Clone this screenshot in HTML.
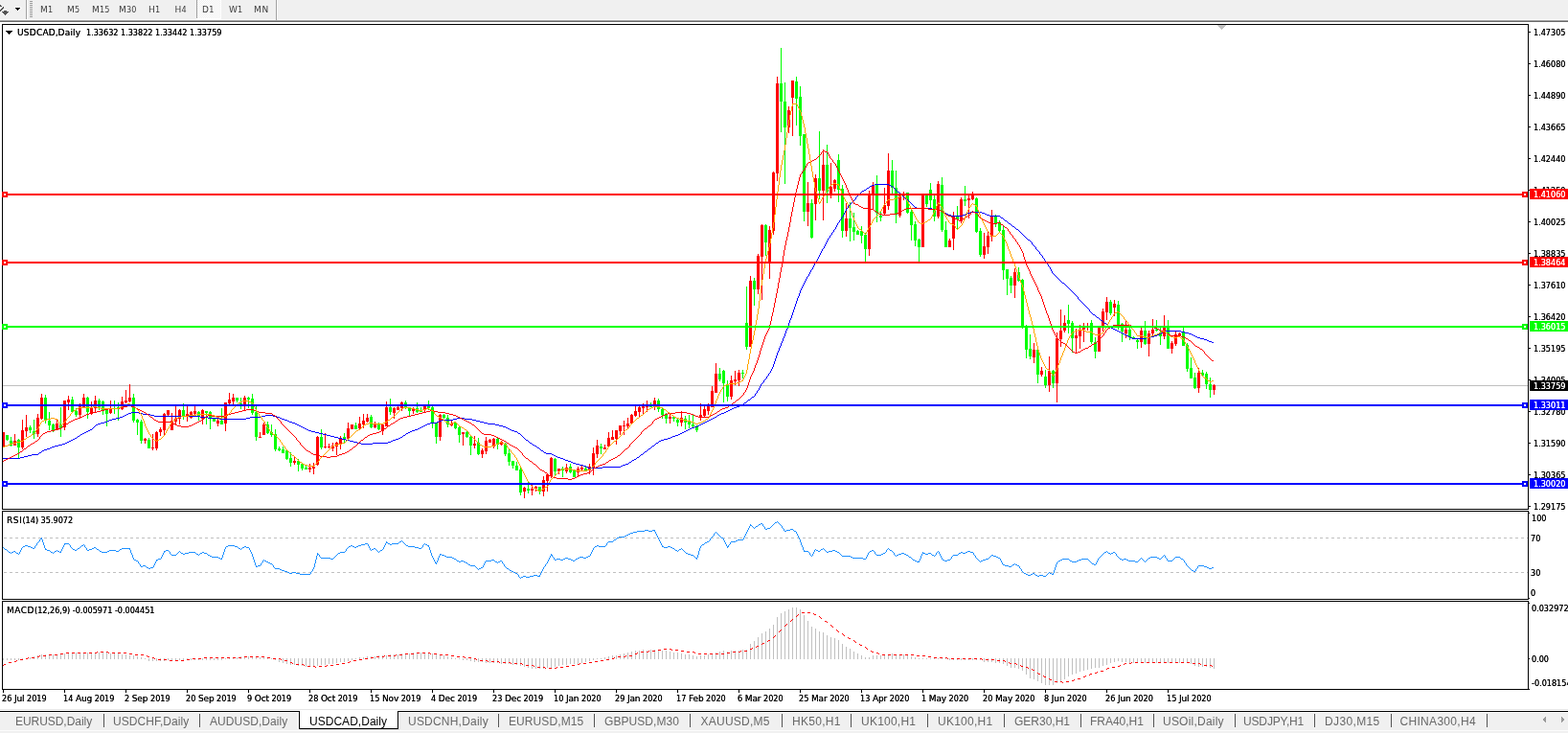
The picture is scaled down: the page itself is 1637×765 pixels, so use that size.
<!DOCTYPE html><html><head><meta charset="utf-8"><title>USDCAD,Daily</title><style>
html,body{margin:0;padding:0;background:#fff;}
body{width:1637px;height:765px;overflow:hidden;position:relative;font-family:"Liberation Sans",sans-serif;}
.t{position:absolute;white-space:pre;line-height:12px;height:12px;font-size:9px;font-family:"DejaVu Sans","Liberation Sans",sans-serif;text-shadow:0 0 0 currentColor;}
.c{font-family:"DejaVu Sans Condensed","DejaVu Sans","Liberation Sans",sans-serif;letter-spacing:0;}
.tab{font-family:"Liberation Sans",sans-serif;text-shadow:none;}
.tb{text-shadow:none;}
.r{position:absolute;}
svg{position:absolute;left:0;top:0;}
</style></head><body>
<div class="r" style="left:0px;top:0px;width:1637px;height:21px;background:#f0f0f0"></div>
<div class="r" style="left:0px;top:21px;width:1637px;height:1px;background:#a0a0a0"></div>
<div class="r" style="left:0px;top:22px;width:1637px;height:1px;background:#696969"></div>
<div class="r" style="left:27px;top:0px;width:1px;height:21px;background:#a0a0a0"></div>
<div class="r" style="left:28px;top:0px;width:1px;height:21px;background:#ffffff"></div>
<div class="r" style="left:31px;top:1px;width:3px;height:1px;background:#9a9a9a"></div>
<div class="r" style="left:31px;top:3px;width:3px;height:1px;background:#9a9a9a"></div>
<div class="r" style="left:31px;top:5px;width:3px;height:1px;background:#9a9a9a"></div>
<div class="r" style="left:31px;top:7px;width:3px;height:1px;background:#9a9a9a"></div>
<div class="r" style="left:31px;top:9px;width:3px;height:1px;background:#9a9a9a"></div>
<div class="r" style="left:31px;top:11px;width:3px;height:1px;background:#9a9a9a"></div>
<div class="r" style="left:31px;top:13px;width:3px;height:1px;background:#9a9a9a"></div>
<div class="r" style="left:31px;top:15px;width:3px;height:1px;background:#9a9a9a"></div>
<div class="r" style="left:31px;top:17px;width:3px;height:1px;background:#9a9a9a"></div>
<svg width="30" height="21" shape-rendering="crispEdges"><path d="M15 7h7v1h-7zM15 8h1v1h1v1h1v1h1v1h1v-1h1v-1h1v-1h1v-1z" fill="#fff" opacity="0.9"/><path d="M16 8h5v1h-5zM17 9h3v1h-3zM18 10h1v1h-1z" fill="#000"/><path d="M0 5h1v1h1v1h-2zM3 7h1v2h-1v1h-1v1h-1v1h-1v-2h1v-1h1v-1h1z" fill="#555"/><path d="M2 12h7v1h-1v1h-1v1h-1v1h-1v-1h-1v-1h-1v-1h-1z" fill="#555"/><path d="M4 11h3v1h-3z" fill="#555"/></svg>
<div class="r" style="left:205px;top:0px;width:1px;height:19px;background:#a0a0a0"></div>
<div class="r" style="left:206px;top:0;width:24px;height:19px;background:#f0f0f0;background-image:conic-gradient(#fff 25%, #f0f0f0 0 50%, #fff 0 75%, #f0f0f0 0);background-size:2px 2px"></div>
<div class="r" style="left:205px;top:19px;width:26px;height:1px;background:#ffffff"></div>
<div class="r" style="left:230px;top:0px;width:1px;height:19px;background:#ffffff"></div>
<div class="r" style="left:0px;top:20px;width:1637px;height:1px;background:#fafafa"></div>
<div class="r" style="left:288px;top:0px;width:1px;height:21px;background:#a0a0a0"></div>
<div class="r" style="left:289px;top:0px;width:1px;height:21px;background:#ffffff"></div>
<div class="t tb" style="left:42px;top:4px;color:#3c3c3c;letter-spacing:0.2px">M<span class="c">1</span></div>
<div class="t tb" style="left:70px;top:4px;color:#3c3c3c;letter-spacing:0.2px">M<span class="c">5</span></div>
<div class="t tb" style="left:96px;top:4px;color:#3c3c3c;letter-spacing:0.2px">M<span class="c">1</span><span class="c">5</span></div>
<div class="t tb" style="left:124px;top:4px;color:#3c3c3c;letter-spacing:0.2px">M<span class="c">3</span><span class="c">0</span></div>
<div class="t tb" style="left:155px;top:4px;color:#3c3c3c;letter-spacing:0.2px">H<span class="c">1</span></div>
<div class="t tb" style="left:182.5px;top:4px;color:#3c3c3c;letter-spacing:0.2px">H<span class="c">4</span></div>
<div class="t tb" style="left:211px;top:4px;color:#3c3c3c;letter-spacing:0.2px">D<span class="c">1</span></div>
<div class="t tb" style="left:239px;top:4px;color:#3c3c3c;letter-spacing:0.2px">W<span class="c">1</span></div>
<div class="t tb" style="left:265px;top:4px;color:#3c3c3c;letter-spacing:0.7px">MN</div>
<svg width="1637" height="765" viewBox="0 0 1637 765" shape-rendering="crispEdges"><rect x="2" y="25" width="1594" height="1" fill="#000"/>
<rect x="2" y="25" width="1" height="507" fill="#000"/>
<rect x="1595" y="25" width="1" height="507" fill="#000"/>
<rect x="1595" y="533" width="1" height="93" fill="#000"/>
<rect x="1595" y="627" width="1" height="93" fill="#000"/>
<rect x="1596" y="719" width="1" height="1" fill="#000"/>
<rect x="2" y="531" width="1593" height="1" fill="#000"/>
<rect x="2" y="533" width="1593" height="1" fill="#000"/>
<rect x="2" y="533" width="1" height="93" fill="#000"/>
<rect x="2" y="625" width="1593" height="1" fill="#000"/>
<rect x="2" y="627" width="1593" height="1" fill="#000"/>
<rect x="2" y="627" width="1" height="93" fill="#000"/>
<rect x="2" y="719" width="1594" height="1" fill="#000"/>
<rect x="3" y="402" width="1592" height="1" fill="#c0c0c0"/>
<path d="M1271 26h9v1h-9zM1272 27h7v1h-7zM1273 28h5v1h-5zM1274 29h3v1h-3zM1275 30h1v1h-1z" fill="#c0c0c0"/>
<path d="M3 451h1v15h-1zM2 451h3v15h-3z" fill="#ff0000"/>
<path d="M7 454h1v6h-1zM6 454h3v5h-3z" fill="#00ff00"/>
<path d="M11 456h1v10h-1zM10 460h3v5h-3z" fill="#00ff00"/>
<path d="M15 453h1v12h-1zM14 460h3v5h-3z" fill="#ff0000"/>
<path d="M19 458h1v20h-1zM18 459h3v8h-3z" fill="#00ff00"/>
<path d="M23 438h1v31h-1zM22 449h3v18h-3z" fill="#ff0000"/>
<path d="M27 433h1v23h-1zM26 446h3v4h-3z" fill="#ff0000"/>
<path d="M31 444h1v8h-1zM30 446h3v3h-3z" fill="#00ff00"/>
<path d="M35 438h1v20h-1zM34 450h3v3h-3z" fill="#00ff00"/>
<path d="M39 432h1v24h-1zM38 436h3v17h-3z" fill="#ff0000"/>
<path d="M43 411h1v27h-1zM42 415h3v22h-3z" fill="#ff0000"/>
<path d="M47 412h1v30h-1zM46 415h3v24h-3z" fill="#00ff00"/>
<path d="M51 430h1v19h-1zM50 439h3v5h-3z" fill="#00ff00"/>
<path d="M55 442h1v9h-1zM54 443h3v6h-3z" fill="#00ff00"/>
<path d="M59 437h1v12h-1zM58 442h3v7h-3z" fill="#ff0000"/>
<path d="M63 425h1v31h-1zM62 444h3v3h-3z" fill="#00ff00"/>
<path d="M67 418h1v31h-1zM66 418h3v28h-3z" fill="#ff0000"/>
<path d="M71 413h1v15h-1zM70 417h3v3h-3z" fill="#ff0000"/>
<path d="M75 414h1v16h-1zM74 417h3v13h-3z" fill="#00ff00"/>
<path d="M79 426h1v9h-1zM78 429h3v4h-3z" fill="#00ff00"/>
<path d="M83 421h1v16h-1zM82 424h3v9h-3z" fill="#ff0000"/>
<path d="M87 411h1v15h-1zM86 415h3v11h-3z" fill="#ff0000"/>
<path d="M91 414h1v23h-1zM90 415h3v15h-3z" fill="#00ff00"/>
<path d="M95 419h1v14h-1zM94 426h3v5h-3z" fill="#ff0000"/>
<path d="M99 413h1v17h-1zM98 418h3v8h-3z" fill="#ff0000"/>
<path d="M103 416h1v12h-1zM102 418h3v8h-3z" fill="#00ff00"/>
<path d="M107 418h1v15h-1zM106 419h3v9h-3z" fill="#00ff00"/>
<path d="M111 428h1v17h-1zM110 428h3v4h-3z" fill="#00ff00"/>
<path d="M115 418h1v14h-1zM114 426h3v5h-3z" fill="#ff0000"/>
<path d="M119 418h1v14h-1zM118 426h3v1h-3z" fill="#00ff00"/>
<path d="M123 420h1v19h-1zM122 425h3v2h-3z" fill="#00ff00"/>
<path d="M127 414h1v14h-1zM126 419h3v8h-3z" fill="#ff0000"/>
<path d="M131 407h1v14h-1zM130 418h3v2h-3z" fill="#ff0000"/>
<path d="M135 401h1v19h-1zM134 415h3v4h-3z" fill="#ff0000"/>
<path d="M139 411h1v30h-1zM138 415h3v24h-3z" fill="#00ff00"/>
<path d="M143 437h1v17h-1zM142 438h3v3h-3z" fill="#00ff00"/>
<path d="M147 438h1v25h-1zM146 440h3v20h-3z" fill="#00ff00"/>
<path d="M151 457h1v6h-1zM150 458h3v2h-3z" fill="#ff0000"/>
<path d="M155 457h1v11h-1zM154 459h3v9h-3z" fill="#00ff00"/>
<path d="M159 453h1v17h-1zM158 467h3v1h-3z" fill="#ff0000"/>
<path d="M163 450h1v20h-1zM162 451h3v17h-3z" fill="#ff0000"/>
<path d="M167 446h1v9h-1zM166 448h3v3h-3z" fill="#ff0000"/>
<path d="M171 431h1v23h-1zM170 432h3v17h-3z" fill="#ff0000"/>
<path d="M175 428h1v6h-1zM174 428h3v5h-3z" fill="#ff0000"/>
<path d="M179 431h1v18h-1zM178 439h3v10h-3z" fill="#ff0000"/>
<path d="M183 424h1v19h-1zM182 437h3v3h-3z" fill="#ff0000"/>
<path d="M187 427h1v16h-1zM186 428h3v9h-3z" fill="#ff0000"/>
<path d="M191 421h1v17h-1zM190 428h3v6h-3z" fill="#00ff00"/>
<path d="M195 424h1v16h-1zM194 432h3v2h-3z" fill="#ff0000"/>
<path d="M199 429h1v8h-1zM198 430h3v6h-3z" fill="#ff0000"/>
<path d="M203 423h1v10h-1zM202 429h3v3h-3z" fill="#ff0000"/>
<path d="M207 429h1v10h-1zM206 430h3v5h-3z" fill="#00ff00"/>
<path d="M211 427h1v16h-1zM210 428h3v9h-3z" fill="#ff0000"/>
<path d="M215 429h1v14h-1zM214 429h3v2h-3z" fill="#00ff00"/>
<path d="M219 429h1v19h-1zM218 430h3v7h-3z" fill="#00ff00"/>
<path d="M223 436h1v4h-1zM222 437h3v3h-3z" fill="#00ff00"/>
<path d="M227 437h1v8h-1zM226 439h3v3h-3z" fill="#ff0000"/>
<path d="M231 426h1v17h-1zM230 439h3v4h-3z" fill="#00ff00"/>
<path d="M235 420h1v30h-1zM234 420h3v22h-3z" fill="#ff0000"/>
<path d="M239 410h1v12h-1zM238 417h3v4h-3z" fill="#ff0000"/>
<path d="M243 411h1v13h-1zM242 415h3v4h-3z" fill="#ff0000"/>
<path d="M247 415h1v5h-1zM246 415h3v3h-3z" fill="#00ff00"/>
<path d="M251 415h1v12h-1zM250 421h3v1h-3z" fill="#00ff00"/>
<path d="M255 413h1v15h-1zM254 415h3v7h-3z" fill="#ff0000"/>
<path d="M259 414h1v12h-1zM258 415h3v2h-3z" fill="#00ff00"/>
<path d="M263 411h1v22h-1zM262 416h3v15h-3z" fill="#00ff00"/>
<path d="M267 424h1v36h-1zM266 430h3v26h-3z" fill="#00ff00"/>
<path d="M271 451h1v6h-1zM270 456h3v1h-3z" fill="#ff0000"/>
<path d="M275 441h1v13h-1zM274 443h3v11h-3z" fill="#ff0000"/>
<path d="M279 440h1v13h-1zM278 443h3v9h-3z" fill="#00ff00"/>
<path d="M283 443h1v13h-1zM282 451h3v3h-3z" fill="#00ff00"/>
<path d="M287 448h1v23h-1zM286 453h3v16h-3z" fill="#00ff00"/>
<path d="M291 466h1v5h-1zM290 468h3v2h-3z" fill="#00ff00"/>
<path d="M295 466h1v7h-1zM294 469h3v4h-3z" fill="#00ff00"/>
<path d="M299 469h1v11h-1zM298 470h3v9h-3z" fill="#00ff00"/>
<path d="M303 472h1v15h-1zM302 478h3v5h-3z" fill="#00ff00"/>
<path d="M307 477h1v8h-1zM306 481h3v2h-3z" fill="#ff0000"/>
<path d="M311 479h1v13h-1zM310 481h3v4h-3z" fill="#00ff00"/>
<path d="M315 483h1v8h-1zM314 484h3v5h-3z" fill="#00ff00"/>
<path d="M319 486h1v4h-1zM318 488h3v2h-3z" fill="#00ff00"/>
<path d="M323 484h1v9h-1zM322 488h3v2h-3z" fill="#ff0000"/>
<path d="M327 483h1v12h-1zM326 487h3v2h-3z" fill="#ff0000"/>
<path d="M331 455h1v31h-1zM330 456h3v29h-3z" fill="#ff0000"/>
<path d="M335 448h1v21h-1zM334 456h3v11h-3z" fill="#00ff00"/>
<path d="M339 452h1v16h-1zM338 466h3v1h-3z" fill="#ff0000"/>
<path d="M343 463h1v5h-1zM342 466h3v1h-3z" fill="#ff0000"/>
<path d="M347 462h1v9h-1zM346 465h3v3h-3z" fill="#ff0000"/>
<path d="M351 461h1v14h-1zM350 462h3v4h-3z" fill="#ff0000"/>
<path d="M355 455h1v14h-1zM354 457h3v6h-3z" fill="#ff0000"/>
<path d="M359 452h1v10h-1zM358 456h3v3h-3z" fill="#00ff00"/>
<path d="M363 441h1v18h-1zM362 447h3v11h-3z" fill="#ff0000"/>
<path d="M367 443h1v5h-1zM366 443h3v5h-3z" fill="#ff0000"/>
<path d="M371 441h1v7h-1zM370 444h3v4h-3z" fill="#00ff00"/>
<path d="M375 435h1v13h-1zM374 442h3v5h-3z" fill="#ff0000"/>
<path d="M379 432h1v15h-1zM378 439h3v4h-3z" fill="#ff0000"/>
<path d="M383 432h1v9h-1zM382 436h3v4h-3z" fill="#ff0000"/>
<path d="M387 433h1v14h-1zM386 435h3v11h-3z" fill="#00ff00"/>
<path d="M391 440h1v7h-1zM390 442h3v4h-3z" fill="#ff0000"/>
<path d="M395 441h1v8h-1zM394 443h3v5h-3z" fill="#00ff00"/>
<path d="M399 443h1v11h-1zM398 443h3v7h-3z" fill="#ff0000"/>
<path d="M403 419h1v26h-1zM402 425h3v20h-3z" fill="#ff0000"/>
<path d="M407 416h1v17h-1zM406 425h3v5h-3z" fill="#00ff00"/>
<path d="M411 425h1v12h-1zM410 426h3v5h-3z" fill="#ff0000"/>
<path d="M415 424h1v4h-1zM414 425h3v3h-3z" fill="#ff0000"/>
<path d="M419 419h1v10h-1zM418 420h3v6h-3z" fill="#ff0000"/>
<path d="M423 418h1v9h-1zM422 420h3v6h-3z" fill="#00ff00"/>
<path d="M427 426h1v8h-1zM426 426h3v3h-3z" fill="#00ff00"/>
<path d="M431 425h1v7h-1zM430 427h3v2h-3z" fill="#ff0000"/>
<path d="M435 420h1v11h-1zM434 426h3v4h-3z" fill="#00ff00"/>
<path d="M439 425h1v5h-1zM438 428h3v2h-3z" fill="#00ff00"/>
<path d="M443 423h1v7h-1zM442 424h3v4h-3z" fill="#ff0000"/>
<path d="M447 418h1v10h-1zM446 424h3v2h-3z" fill="#00ff00"/>
<path d="M451 424h1v23h-1zM450 425h3v16h-3z" fill="#00ff00"/>
<path d="M455 441h1v22h-1zM454 441h3v15h-3z" fill="#00ff00"/>
<path d="M459 432h1v28h-1zM458 433h3v23h-3z" fill="#ff0000"/>
<path d="M463 432h1v5h-1zM462 433h3v3h-3z" fill="#00ff00"/>
<path d="M467 433h1v13h-1zM466 436h3v7h-3z" fill="#00ff00"/>
<path d="M471 438h1v7h-1zM470 442h3v2h-3z" fill="#ff0000"/>
<path d="M475 440h1v8h-1zM474 441h3v6h-3z" fill="#00ff00"/>
<path d="M479 445h1v17h-1zM478 446h3v8h-3z" fill="#00ff00"/>
<path d="M483 451h1v14h-1zM482 451h3v2h-3z" fill="#ff0000"/>
<path d="M487 450h1v7h-1zM486 451h3v5h-3z" fill="#00ff00"/>
<path d="M491 455h1v20h-1zM490 456h3v9h-3z" fill="#00ff00"/>
<path d="M495 455h1v13h-1zM494 463h3v2h-3z" fill="#ff0000"/>
<path d="M499 457h1v18h-1zM498 462h3v12h-3z" fill="#00ff00"/>
<path d="M503 468h1v10h-1zM502 470h3v4h-3z" fill="#ff0000"/>
<path d="M507 456h1v18h-1zM506 460h3v11h-3z" fill="#ff0000"/>
<path d="M511 458h1v4h-1zM510 459h3v3h-3z" fill="#ff0000"/>
<path d="M515 457h1v11h-1zM514 458h3v8h-3z" fill="#ff0000"/>
<path d="M519 457h1v12h-1zM518 458h3v6h-3z" fill="#00ff00"/>
<path d="M523 460h1v5h-1zM522 461h3v3h-3z" fill="#ff0000"/>
<path d="M527 462h1v14h-1zM526 463h3v11h-3z" fill="#00ff00"/>
<path d="M531 469h1v17h-1zM530 473h3v9h-3z" fill="#00ff00"/>
<path d="M535 481h1v8h-1zM534 481h3v5h-3z" fill="#00ff00"/>
<path d="M539 482h1v9h-1zM538 486h3v5h-3z" fill="#00ff00"/>
<path d="M543 487h1v30h-1zM542 490h3v24h-3z" fill="#00ff00"/>
<path d="M547 508h1v12h-1zM546 509h3v4h-3z" fill="#ff0000"/>
<path d="M551 503h1v12h-1zM550 510h3v2h-3z" fill="#00ff00"/>
<path d="M555 506h1v11h-1zM554 510h3v2h-3z" fill="#ff0000"/>
<path d="M559 507h1v6h-1zM558 508h3v2h-3z" fill="#ff0000"/>
<path d="M563 508h1v8h-1zM562 508h3v5h-3z" fill="#00ff00"/>
<path d="M567 497h1v21h-1zM566 501h3v12h-3z" fill="#ff0000"/>
<path d="M571 494h1v19h-1zM570 495h3v7h-3z" fill="#ff0000"/>
<path d="M575 477h1v22h-1zM574 478h3v19h-3z" fill="#ff0000"/>
<path d="M579 478h1v18h-1zM578 479h3v13h-3z" fill="#00ff00"/>
<path d="M583 489h1v6h-1zM582 489h3v3h-3z" fill="#ff0000"/>
<path d="M587 487h1v11h-1zM586 489h3v2h-3z" fill="#00ff00"/>
<path d="M591 484h1v10h-1zM590 488h3v4h-3z" fill="#ff0000"/>
<path d="M595 484h1v10h-1zM594 487h3v6h-3z" fill="#00ff00"/>
<path d="M599 490h1v8h-1zM598 491h3v7h-3z" fill="#00ff00"/>
<path d="M603 487h1v10h-1zM602 489h3v4h-3z" fill="#ff0000"/>
<path d="M607 486h1v5h-1zM606 488h3v2h-3z" fill="#ff0000"/>
<path d="M611 487h1v4h-1zM610 489h3v2h-3z" fill="#00ff00"/>
<path d="M615 484h1v11h-1zM614 487h3v4h-3z" fill="#ff0000"/>
<path d="M619 467h1v29h-1zM618 473h3v16h-3z" fill="#ff0000"/>
<path d="M623 459h1v19h-1zM622 465h3v9h-3z" fill="#ff0000"/>
<path d="M627 463h1v11h-1zM626 466h3v2h-3z" fill="#00ff00"/>
<path d="M631 464h1v5h-1zM630 467h3v2h-3z" fill="#ff0000"/>
<path d="M635 451h1v15h-1zM634 457h3v9h-3z" fill="#ff0000"/>
<path d="M639 449h1v10h-1zM638 456h3v3h-3z" fill="#ff0000"/>
<path d="M643 449h1v15h-1zM642 449h3v9h-3z" fill="#ff0000"/>
<path d="M647 444h1v10h-1zM646 444h3v6h-3z" fill="#ff0000"/>
<path d="M651 439h1v15h-1zM650 444h3v1h-3z" fill="#ff0000"/>
<path d="M655 436h1v11h-1zM654 442h3v3h-3z" fill="#ff0000"/>
<path d="M659 432h1v11h-1zM658 433h3v9h-3z" fill="#ff0000"/>
<path d="M663 424h1v11h-1zM662 429h3v5h-3z" fill="#ff0000"/>
<path d="M667 424h1v11h-1zM666 425h3v5h-3z" fill="#ff0000"/>
<path d="M671 421h1v11h-1zM670 424h3v2h-3z" fill="#ff0000"/>
<path d="M675 418h1v12h-1zM674 424h3v1h-3z" fill="#ff0000"/>
<path d="M679 420h1v5h-1zM678 423h3v2h-3z" fill="#00ff00"/>
<path d="M683 415h1v13h-1zM682 418h3v5h-3z" fill="#ff0000"/>
<path d="M687 416h1v14h-1zM686 418h3v9h-3z" fill="#00ff00"/>
<path d="M691 425h1v12h-1zM690 427h3v6h-3z" fill="#00ff00"/>
<path d="M695 431h1v11h-1zM694 433h3v4h-3z" fill="#00ff00"/>
<path d="M699 431h1v11h-1zM698 435h3v2h-3z" fill="#ff0000"/>
<path d="M703 434h1v6h-1zM702 435h3v2h-3z" fill="#00ff00"/>
<path d="M707 436h1v9h-1zM706 438h3v3h-3z" fill="#00ff00"/>
<path d="M711 429h1v16h-1zM710 436h3v5h-3z" fill="#ff0000"/>
<path d="M715 434h1v14h-1zM714 437h3v4h-3z" fill="#00ff00"/>
<path d="M719 433h1v14h-1zM718 440h3v3h-3z" fill="#00ff00"/>
<path d="M723 432h1v15h-1zM722 443h3v2h-3z" fill="#00ff00"/>
<path d="M727 444h1v7h-1zM726 445h3v4h-3z" fill="#00ff00"/>
<path d="M731 421h1v18h-1zM730 433h3v3h-3z" fill="#ff0000"/>
<path d="M735 424h1v11h-1zM734 427h3v7h-3z" fill="#ff0000"/>
<path d="M739 421h1v12h-1zM738 424h3v5h-3z" fill="#ff0000"/>
<path d="M743 403h1v22h-1zM742 408h3v17h-3z" fill="#ff0000"/>
<path d="M747 379h1v31h-1zM746 390h3v20h-3z" fill="#ff0000"/>
<path d="M751 384h1v14h-1zM750 390h3v6h-3z" fill="#00ff00"/>
<path d="M755 386h1v34h-1zM754 387h3v13h-3z" fill="#00ff00"/>
<path d="M759 397h1v22h-1zM758 402h3v12h-3z" fill="#00ff00"/>
<path d="M763 392h1v25h-1zM762 397h3v17h-3z" fill="#ff0000"/>
<path d="M767 387h1v15h-1zM766 396h3v2h-3z" fill="#ff0000"/>
<path d="M771 386h1v17h-1zM770 389h3v8h-3z" fill="#ff0000"/>
<path d="M775 386h1v9h-1zM774 389h3v1h-3z" fill="#00ff00"/>
<path d="M779 299h1v66h-1zM778 337h3v25h-3z" fill="#00ff00"/>
<path d="M783 288h1v74h-1zM782 293h3v69h-3z" fill="#ff0000"/>
<path d="M787 290h1v29h-1zM786 293h3v9h-3z" fill="#00ff00"/>
<path d="M791 265h1v42h-1zM790 267h3v35h-3z" fill="#ff0000"/>
<path d="M795 234h1v79h-1zM794 235h3v33h-3z" fill="#ff0000"/>
<path d="M799 234h1v33h-1zM798 235h3v18h-3z" fill="#00ff00"/>
<path d="M803 236h1v55h-1zM802 240h3v33h-3z" fill="#ff0000"/>
<path d="M807 179h1v66h-1zM806 180h3v61h-3z" fill="#ff0000"/>
<path d="M811 80h1v109h-1zM810 87h3v94h-3z" fill="#ff0000"/>
<path d="M815 50h1v88h-1zM814 87h3v19h-3z" fill="#00ff00"/>
<path d="M819 86h1v106h-1zM818 106h3v27h-3z" fill="#00ff00"/>
<path d="M823 111h1v28h-1zM822 115h3v18h-3z" fill="#ff0000"/>
<path d="M827 84h1v58h-1zM826 84h3v18h-3z" fill="#ff0000"/>
<path d="M831 80h1v51h-1zM830 85h3v18h-3z" fill="#00ff00"/>
<path d="M835 90h1v62h-1zM834 101h3v41h-3z" fill="#00ff00"/>
<path d="M839 140h1v91h-1zM838 140h3v81h-3z" fill="#00ff00"/>
<path d="M843 190h1v46h-1zM842 212h3v9h-3z" fill="#ff0000"/>
<path d="M847 208h1v41h-1zM846 212h3v36h-3z" fill="#00ff00"/>
<path d="M851 182h1v48h-1zM850 186h3v27h-3z" fill="#ff0000"/>
<path d="M855 137h1v71h-1zM854 186h3v13h-3z" fill="#00ff00"/>
<path d="M859 156h1v74h-1zM858 172h3v27h-3z" fill="#ff0000"/>
<path d="M863 151h1v61h-1zM862 172h3v28h-3z" fill="#00ff00"/>
<path d="M867 170h1v37h-1zM866 195h3v8h-3z" fill="#ff0000"/>
<path d="M871 187h1v13h-1zM870 188h3v9h-3z" fill="#ff0000"/>
<path d="M875 161h1v50h-1zM874 167h3v31h-3z" fill="#00ff00"/>
<path d="M879 193h1v55h-1zM878 197h3v44h-3z" fill="#00ff00"/>
<path d="M883 212h1v35h-1zM882 228h3v13h-3z" fill="#ff0000"/>
<path d="M887 211h1v41h-1zM886 228h3v10h-3z" fill="#00ff00"/>
<path d="M891 222h1v29h-1zM890 237h3v5h-3z" fill="#00ff00"/>
<path d="M895 240h1v5h-1zM894 241h3v4h-3z" fill="#00ff00"/>
<path d="M899 236h1v18h-1zM898 241h3v5h-3z" fill="#00ff00"/>
<path d="M903 243h1v30h-1zM902 245h3v15h-3z" fill="#00ff00"/>
<path d="M907 199h1v68h-1zM906 202h3v58h-3z" fill="#ff0000"/>
<path d="M911 190h1v28h-1zM910 194h3v9h-3z" fill="#ff0000"/>
<path d="M915 183h1v49h-1zM914 192h3v30h-3z" fill="#00ff00"/>
<path d="M919 221h1v10h-1zM918 225h3v2h-3z" fill="#00ff00"/>
<path d="M923 196h1v29h-1zM922 214h3v9h-3z" fill="#ff0000"/>
<path d="M927 160h1v59h-1zM926 178h3v37h-3z" fill="#ff0000"/>
<path d="M931 167h1v35h-1zM930 178h3v18h-3z" fill="#00ff00"/>
<path d="M935 178h1v55h-1zM934 196h3v28h-3z" fill="#00ff00"/>
<path d="M939 202h1v25h-1zM938 204h3v21h-3z" fill="#ff0000"/>
<path d="M943 200h1v9h-1zM942 202h3v1h-3z" fill="#ff0000"/>
<path d="M947 201h1v22h-1zM946 201h3v21h-3z" fill="#00ff00"/>
<path d="M951 218h1v33h-1zM950 221h3v14h-3z" fill="#00ff00"/>
<path d="M955 231h1v26h-1zM954 234h3v17h-3z" fill="#00ff00"/>
<path d="M959 249h1v24h-1zM958 250h3v8h-3z" fill="#00ff00"/>
<path d="M963 203h1v55h-1zM962 203h3v55h-3z" fill="#ff0000"/>
<path d="M967 202h1v14h-1zM966 204h3v9h-3z" fill="#00ff00"/>
<path d="M971 191h1v27h-1zM970 198h3v11h-3z" fill="#00ff00"/>
<path d="M975 204h1v27h-1zM974 208h3v18h-3z" fill="#00ff00"/>
<path d="M979 189h1v39h-1zM978 192h3v34h-3z" fill="#ff0000"/>
<path d="M983 185h1v57h-1zM982 193h3v47h-3z" fill="#00ff00"/>
<path d="M987 231h1v27h-1zM986 240h3v18h-3z" fill="#00ff00"/>
<path d="M991 249h1v9h-1zM990 251h3v7h-3z" fill="#ff0000"/>
<path d="M995 221h1v40h-1zM994 225h3v24h-3z" fill="#ff0000"/>
<path d="M999 215h1v25h-1zM998 226h3v3h-3z" fill="#00ff00"/>
<path d="M1003 206h1v27h-1zM1002 208h3v23h-3z" fill="#ff0000"/>
<path d="M1007 194h1v21h-1zM1006 208h3v2h-3z" fill="#00ff00"/>
<path d="M1011 204h1v24h-1zM1010 207h3v2h-3z" fill="#ff0000"/>
<path d="M1015 200h1v9h-1zM1014 204h3v4h-3z" fill="#ff0000"/>
<path d="M1019 206h1v37h-1zM1018 207h3v35h-3z" fill="#00ff00"/>
<path d="M1023 238h1v30h-1zM1022 241h3v25h-3z" fill="#00ff00"/>
<path d="M1027 243h1v27h-1zM1026 257h3v9h-3z" fill="#ff0000"/>
<path d="M1031 241h1v24h-1zM1030 246h3v12h-3z" fill="#ff0000"/>
<path d="M1035 219h1v33h-1zM1034 226h3v21h-3z" fill="#ff0000"/>
<path d="M1039 224h1v13h-1zM1038 226h3v8h-3z" fill="#00ff00"/>
<path d="M1043 230h1v12h-1zM1042 232h3v9h-3z" fill="#00ff00"/>
<path d="M1047 236h1v56h-1zM1046 240h3v42h-3z" fill="#00ff00"/>
<path d="M1051 281h1v27h-1zM1050 281h3v10h-3z" fill="#00ff00"/>
<path d="M1055 288h1v18h-1zM1054 290h3v8h-3z" fill="#00ff00"/>
<path d="M1059 280h1v31h-1zM1058 284h3v14h-3z" fill="#ff0000"/>
<path d="M1063 279h1v15h-1zM1062 284h3v9h-3z" fill="#00ff00"/>
<path d="M1067 291h1v52h-1zM1066 292h3v49h-3z" fill="#00ff00"/>
<path d="M1071 339h1v35h-1zM1070 340h3v25h-3z" fill="#00ff00"/>
<path d="M1075 349h1v26h-1zM1074 364h3v8h-3z" fill="#00ff00"/>
<path d="M1079 358h1v21h-1zM1078 365h3v8h-3z" fill="#ff0000"/>
<path d="M1083 363h1v37h-1zM1082 365h3v26h-3z" fill="#00ff00"/>
<path d="M1087 383h1v10h-1zM1086 387h3v4h-3z" fill="#ff0000"/>
<path d="M1091 386h1v19h-1zM1090 393h3v9h-3z" fill="#00ff00"/>
<path d="M1095 372h1v37h-1zM1094 387h3v15h-3z" fill="#ff0000"/>
<path d="M1099 386h1v19h-1zM1098 387h3v13h-3z" fill="#00ff00"/>
<path d="M1103 347h1v73h-1zM1102 353h3v47h-3z" fill="#ff0000"/>
<path d="M1107 323h1v39h-1zM1106 345h3v9h-3z" fill="#ff0000"/>
<path d="M1111 329h1v18h-1zM1110 337h3v8h-3z" fill="#ff0000"/>
<path d="M1115 318h1v30h-1zM1114 334h3v4h-3z" fill="#00ff00"/>
<path d="M1119 335h1v33h-1zM1118 337h3v16h-3z" fill="#00ff00"/>
<path d="M1123 343h1v25h-1zM1122 350h3v3h-3z" fill="#ff0000"/>
<path d="M1127 339h1v25h-1zM1126 344h3v7h-3z" fill="#ff0000"/>
<path d="M1131 337h1v20h-1zM1130 342h3v2h-3z" fill="#ff0000"/>
<path d="M1135 337h1v8h-1zM1134 341h3v1h-3z" fill="#ff0000"/>
<path d="M1139 334h1v25h-1zM1138 337h3v20h-3z" fill="#00ff00"/>
<path d="M1143 352h1v22h-1zM1142 357h3v10h-3z" fill="#00ff00"/>
<path d="M1147 342h1v25h-1zM1146 342h3v25h-3z" fill="#ff0000"/>
<path d="M1151 322h1v24h-1zM1150 325h3v17h-3z" fill="#ff0000"/>
<path d="M1155 310h1v24h-1zM1154 315h3v11h-3z" fill="#ff0000"/>
<path d="M1159 313h1v16h-1zM1158 315h3v12h-3z" fill="#00ff00"/>
<path d="M1163 313h1v17h-1zM1162 317h3v4h-3z" fill="#ff0000"/>
<path d="M1167 314h1v30h-1zM1166 318h3v21h-3z" fill="#00ff00"/>
<path d="M1171 337h1v20h-1zM1170 338h3v8h-3z" fill="#00ff00"/>
<path d="M1175 335h1v18h-1zM1174 344h3v4h-3z" fill="#ff0000"/>
<path d="M1179 342h1v13h-1zM1178 344h3v8h-3z" fill="#00ff00"/>
<path d="M1183 351h1v2h-1zM1182 352h3v1h-3z" fill="#00ff00"/>
<path d="M1187 353h1v11h-1zM1186 355h3v2h-3z" fill="#00ff00"/>
<path d="M1191 342h1v21h-1zM1190 345h3v12h-3z" fill="#ff0000"/>
<path d="M1195 335h1v25h-1zM1194 345h3v14h-3z" fill="#00ff00"/>
<path d="M1199 345h1v27h-1zM1198 348h3v11h-3z" fill="#ff0000"/>
<path d="M1203 333h1v18h-1zM1202 344h3v4h-3z" fill="#ff0000"/>
<path d="M1207 334h1v12h-1zM1206 344h3v1h-3z" fill="#00ff00"/>
<path d="M1211 342h1v18h-1zM1210 347h3v4h-3z" fill="#00ff00"/>
<path d="M1215 329h1v25h-1zM1214 342h3v9h-3z" fill="#ff0000"/>
<path d="M1219 334h1v30h-1zM1218 342h3v22h-3z" fill="#00ff00"/>
<path d="M1223 356h1v13h-1zM1222 358h3v6h-3z" fill="#ff0000"/>
<path d="M1227 345h1v16h-1zM1226 349h3v10h-3z" fill="#ff0000"/>
<path d="M1231 347h1v5h-1zM1230 348h3v3h-3z" fill="#ff0000"/>
<path d="M1235 342h1v19h-1zM1234 346h3v15h-3z" fill="#00ff00"/>
<path d="M1239 358h1v30h-1zM1238 360h3v25h-3z" fill="#00ff00"/>
<path d="M1243 373h1v22h-1zM1242 384h3v11h-3z" fill="#00ff00"/>
<path d="M1247 389h1v17h-1zM1246 394h3v11h-3z" fill="#00ff00"/>
<path d="M1251 384h1v26h-1zM1250 389h3v16h-3z" fill="#ff0000"/>
<path d="M1255 386h1v7h-1zM1254 389h3v3h-3z" fill="#00ff00"/>
<path d="M1259 388h1v18h-1zM1258 390h3v11h-3z" fill="#00ff00"/>
<path d="M1263 394h1v21h-1zM1262 401h3v6h-3z" fill="#00ff00"/>
<path d="M1267 401h1v11h-1zM1266 402h3v5h-3z" fill="#ff0000"/>
<path d="M913 192h15v1h-15zM910 193h3v1h-3zM928 193h2v1h-2zM908 194h2v1h-2zM930 194h2v1h-2zM907 195h1v1h-1zM932 195h1v1h-1zM905 196h2v1h-2zM933 196h1v1h-1zM904 197h1v1h-1zM934 197h1v1h-1zM902 198h2v1h-2zM935 198h1v1h-1zM900 199h2v1h-2zM936 199h1v1h-1zM899 200h1v1h-1zM937 200h2v1h-2zM898 201h1v1h-1zM939 201h1v1h-1zM897 202h1v1h-1zM940 202h1v1h-1zM896 203h1v1h-1zM941 203h1v1h-1zM895 204h1v1h-1zM942 204h1v1h-1zM894 205h1v1h-1zM943 205h1v1h-1zM893 206h1v1h-1zM944 206h1v1h-1zM893 207h1v1h-1zM945 207h2v1h-2zM892 208h1v1h-1zM947 208h1v1h-1zM891 209h1v1h-1zM948 209h1v1h-1zM890 210h1v1h-1zM949 210h1v1h-1zM889 211h1v1h-1zM950 211h1v1h-1zM888 212h1v1h-1zM951 212h1v1h-1zM887 213h1v1h-1zM952 213h1v1h-1zM886 214h1v1h-1zM953 214h1v1h-1zM885 215h1v1h-1zM954 215h1v1h-1zM885 216h1v1h-1zM955 216h2v1h-2zM884 217h1v1h-1zM957 217h16v1h-16zM883 218h1v1h-1zM973 218h7v1h-7zM883 219h1v1h-1zM980 219h2v1h-2zM882 220h1v1h-1zM982 220h2v1h-2zM882 221h1v1h-1zM984 221h2v1h-2zM1013 221h12v1h-12zM881 222h1v1h-1zM986 222h2v1h-2zM1010 222h3v1h-3zM1025 222h3v1h-3zM881 223h1v1h-1zM988 223h2v1h-2zM1008 223h2v1h-2zM1028 223h2v1h-2zM880 224h1v1h-1zM990 224h3v1h-3zM1005 224h3v1h-3zM1030 224h3v1h-3zM880 225h1v1h-1zM993 225h12v1h-12zM1033 225h11v1h-11zM879 226h1v1h-1zM1044 226h1v1h-1zM878 227h1v1h-1zM1045 227h2v1h-2zM878 228h1v1h-1zM1047 228h1v1h-1zM877 229h1v1h-1zM1048 229h1v1h-1zM876 230h1v1h-1zM1049 230h2v1h-2zM876 231h1v1h-1zM1051 231h1v1h-1zM875 232h1v1h-1zM1052 232h1v1h-1zM874 233h1v1h-1zM1053 233h2v1h-2zM874 234h1v1h-1zM1055 234h1v1h-1zM873 235h1v1h-1zM1056 235h1v1h-1zM873 236h1v1h-1zM1057 236h2v1h-2zM872 237h1v1h-1zM1059 237h1v1h-1zM872 238h1v1h-1zM1060 238h1v1h-1zM871 239h1v1h-1zM1061 239h2v1h-2zM870 240h1v1h-1zM1063 240h1v1h-1zM870 241h1v1h-1zM1064 241h1v1h-1zM869 242h1v1h-1zM1065 242h1v1h-1zM868 243h1v1h-1zM1066 243h1v1h-1zM868 244h1v1h-1zM1067 244h1v1h-1zM867 245h1v1h-1zM1068 245h1v1h-1zM866 246h1v1h-1zM1069 246h1v1h-1zM866 247h1v1h-1zM1070 247h1v1h-1zM865 248h1v1h-1zM1071 248h1v1h-1zM864 249h1v1h-1zM1072 249h1v1h-1zM864 250h1v1h-1zM1073 250h2v1h-2zM863 251h1v1h-1zM1075 251h1v1h-1zM863 252h1v1h-1zM1076 252h1v1h-1zM862 253h1v1h-1zM1077 253h1v1h-1zM862 254h1v1h-1zM1077 254h1v1h-1zM861 255h1v1h-1zM1078 255h1v1h-1zM861 256h1v1h-1zM1079 256h1v1h-1zM860 257h1v1h-1zM1080 257h1v1h-1zM860 258h1v1h-1zM1081 258h1v1h-1zM859 259h1v1h-1zM1081 259h1v1h-1zM858 260h1v1h-1zM1082 260h1v1h-1zM858 261h1v1h-1zM1083 261h1v1h-1zM857 262h1v1h-1zM1084 262h1v1h-1zM857 263h1v1h-1zM1085 263h1v1h-1zM856 264h1v1h-1zM1085 264h1v1h-1zM856 265h1v1h-1zM1086 265h1v1h-1zM855 266h1v1h-1zM1087 266h1v1h-1zM855 267h1v1h-1zM1088 267h1v1h-1zM854 268h1v1h-1zM1088 268h1v1h-1zM854 269h1v1h-1zM1089 269h1v1h-1zM853 270h1v1h-1zM1090 270h1v1h-1zM853 271h1v1h-1zM1090 271h1v1h-1zM852 272h1v1h-1zM1091 272h1v1h-1zM852 273h1v1h-1zM1092 273h1v1h-1zM851 274h1v1h-1zM1092 274h1v1h-1zM850 275h1v1h-1zM1093 275h1v1h-1zM850 276h1v1h-1zM1094 276h1v1h-1zM849 277h1v1h-1zM1094 277h1v1h-1zM849 278h1v1h-1zM1095 278h1v1h-1zM848 279h1v1h-1zM1096 279h1v1h-1zM848 280h1v1h-1zM1096 280h1v1h-1zM847 281h1v1h-1zM1097 281h1v1h-1zM846 282h1v1h-1zM1097 282h1v1h-1zM846 283h1v1h-1zM1098 283h1v1h-1zM845 284h1v1h-1zM1098 284h1v1h-1zM845 285h1v1h-1zM1099 285h1v1h-1zM844 286h1v1h-1zM1100 286h1v1h-1zM844 287h1v1h-1zM1101 287h1v1h-1zM843 288h1v1h-1zM1102 288h1v1h-1zM842 289h1v1h-1zM1103 289h1v1h-1zM842 290h1v1h-1zM1104 290h1v1h-1zM841 291h1v1h-1zM1105 291h1v1h-1zM841 292h1v1h-1zM1106 292h1v1h-1zM840 293h1v1h-1zM1107 293h1v1h-1zM840 294h1v1h-1zM1108 294h1v1h-1zM839 295h1v1h-1zM1109 295h2v1h-2zM839 296h1v1h-1zM1111 296h1v1h-1zM838 297h1v1h-1zM1112 297h1v1h-1zM838 298h1v1h-1zM1113 298h1v1h-1zM837 299h1v1h-1zM1114 299h1v1h-1zM837 300h1v1h-1zM1115 300h1v1h-1zM836 301h1v1h-1zM1116 301h1v1h-1zM836 302h1v1h-1zM1117 302h1v1h-1zM835 303h1v1h-1zM1118 303h1v1h-1zM835 304h1v1h-1zM1119 304h1v1h-1zM835 305h1v1h-1zM1120 305h1v1h-1zM834 306h1v1h-1zM1121 306h1v1h-1zM834 307h1v1h-1zM1122 307h1v1h-1zM834 308h1v1h-1zM1123 308h1v1h-1zM833 309h1v1h-1zM1124 309h1v1h-1zM833 310h1v1h-1zM1125 310h1v1h-1zM832 311h1v1h-1zM1125 311h1v1h-1zM832 312h1v1h-1zM1126 312h1v1h-1zM832 313h1v1h-1zM1127 313h1v1h-1zM831 314h1v1h-1zM1128 314h1v1h-1zM831 315h1v1h-1zM1129 315h1v1h-1zM831 316h1v1h-1zM1130 316h1v1h-1zM830 317h1v1h-1zM1131 317h1v1h-1zM830 318h1v1h-1zM1132 318h1v1h-1zM830 319h1v1h-1zM1133 319h1v1h-1zM829 320h1v1h-1zM1134 320h1v1h-1zM829 321h1v1h-1zM1135 321h1v1h-1zM829 322h1v1h-1zM1136 322h1v1h-1zM828 323h1v1h-1zM1137 323h1v1h-1zM828 324h1v1h-1zM1137 324h1v1h-1zM828 325h1v1h-1zM1138 325h1v1h-1zM827 326h1v1h-1zM1139 326h1v1h-1zM827 327h1v1h-1zM1140 327h1v1h-1zM827 328h1v1h-1zM1141 328h2v1h-2zM826 329h1v1h-1zM1143 329h1v1h-1zM826 330h1v1h-1zM1144 330h1v1h-1zM826 331h1v1h-1zM1145 331h2v1h-2zM825 332h1v1h-1zM1147 332h1v1h-1zM825 333h1v1h-1zM1148 333h1v1h-1zM824 334h1v1h-1zM1149 334h2v1h-2zM824 335h1v1h-1zM1151 335h1v1h-1zM824 336h1v1h-1zM1152 336h1v1h-1zM823 337h1v1h-1zM1153 337h2v1h-2zM823 338h1v1h-1zM1155 338h1v1h-1zM823 339h1v1h-1zM1156 339h1v1h-1zM822 340h1v1h-1zM1157 340h2v1h-2zM822 341h1v1h-1zM1159 341h1v1h-1zM822 342h1v1h-1zM1160 342h2v1h-2zM821 343h1v1h-1zM1162 343h2v1h-2zM821 344h1v1h-1zM1164 344h2v1h-2zM820 345h1v1h-1zM1166 345h2v1h-2zM1217 345h16v1h-16zM820 346h1v1h-1zM1168 346h2v1h-2zM1214 346h3v1h-3zM1233 346h4v1h-4zM820 347h1v1h-1zM1170 347h2v1h-2zM1212 347h2v1h-2zM1237 347h4v1h-4zM819 348h1v1h-1zM1172 348h2v1h-2zM1210 348h2v1h-2zM1241 348h3v1h-3zM819 349h1v1h-1zM1174 349h2v1h-2zM1208 349h2v1h-2zM1244 349h2v1h-2zM819 350h1v1h-1zM1176 350h2v1h-2zM1205 350h3v1h-3zM1246 350h2v1h-2zM818 351h1v1h-1zM1178 351h2v1h-2zM1201 351h4v1h-4zM1248 351h2v1h-2zM818 352h1v1h-1zM1180 352h2v1h-2zM1197 352h4v1h-4zM1250 352h3v1h-3zM817 353h1v1h-1zM1182 353h15v1h-15zM1253 353h4v1h-4zM817 354h1v1h-1zM1257 354h3v1h-3zM817 355h1v1h-1zM1260 355h2v1h-2zM816 356h1v1h-1zM1262 356h3v1h-3zM816 357h1v1h-1zM1265 357h2v1h-2zM815 358h1v1h-1zM815 359h1v1h-1zM815 360h1v1h-1zM814 361h1v1h-1zM814 362h1v1h-1zM813 363h1v1h-1zM813 364h1v1h-1zM813 365h1v1h-1zM812 366h1v1h-1zM812 367h1v1h-1zM811 368h1v1h-1zM811 369h1v1h-1zM811 370h1v1h-1zM810 371h1v1h-1zM810 372h1v1h-1zM810 373h1v1h-1zM809 374h1v1h-1zM809 375h1v1h-1zM809 376h1v1h-1zM808 377h1v1h-1zM808 378h1v1h-1zM808 379h1v1h-1zM807 380h1v1h-1zM807 381h1v1h-1zM807 382h1v1h-1zM806 383h1v1h-1zM806 384h1v1h-1zM805 385h1v1h-1zM805 386h1v1h-1zM804 387h1v1h-1zM804 388h1v1h-1zM803 389h1v1h-1zM802 390h1v1h-1zM802 391h1v1h-1zM801 392h1v1h-1zM800 393h1v1h-1zM800 394h1v1h-1zM799 395h1v1h-1zM798 396h1v1h-1zM797 397h1v1h-1zM797 398h1v1h-1zM796 399h1v1h-1zM795 400h1v1h-1zM794 401h1v1h-1zM794 402h1v1h-1zM793 403h1v1h-1zM793 404h1v1h-1zM792 405h1v1h-1zM792 406h1v1h-1zM791 407h1v1h-1zM790 408h1v1h-1zM790 409h1v1h-1zM789 410h1v1h-1zM788 411h1v1h-1zM788 412h1v1h-1zM787 413h1v1h-1zM785 414h2v1h-2zM784 415h1v1h-1zM783 416h1v1h-1zM781 417h2v1h-2zM780 418h1v1h-1zM779 419h1v1h-1zM777 420h2v1h-2zM776 421h1v1h-1zM774 422h2v1h-2zM772 423h2v1h-2zM769 424h3v1h-3zM766 425h3v1h-3zM764 426h2v1h-2zM762 427h2v1h-2zM760 428h2v1h-2zM758 429h2v1h-2zM137 430h8v1h-8zM756 430h2v1h-2zM134 431h3v1h-3zM145 431h4v1h-4zM753 431h3v1h-3zM132 432h2v1h-2zM149 432h8v1h-8zM751 432h2v1h-2zM130 433h2v1h-2zM157 433h4v1h-4zM277 433h8v1h-8zM749 433h2v1h-2zM128 434h2v1h-2zM161 434h48v1h-48zM273 434h4v1h-4zM285 434h4v1h-4zM748 434h1v1h-1zM125 435h3v1h-3zM209 435h8v1h-8zM261 435h12v1h-12zM289 435h3v1h-3zM746 435h2v1h-2zM121 436h4v1h-4zM217 436h12v1h-12zM257 436h4v1h-4zM292 436h2v1h-2zM477 436h8v1h-8zM744 436h2v1h-2zM117 437h4v1h-4zM229 437h28v1h-28zM294 437h3v1h-3zM473 437h4v1h-4zM485 437h8v1h-8zM742 437h2v1h-2zM114 438h3v1h-3zM297 438h3v1h-3zM461 438h12v1h-12zM493 438h4v1h-4zM740 438h2v1h-2zM112 439h2v1h-2zM300 439h2v1h-2zM458 439h3v1h-3zM497 439h4v1h-4zM738 439h2v1h-2zM109 440h3v1h-3zM302 440h3v1h-3zM456 440h2v1h-2zM501 440h4v1h-4zM736 440h2v1h-2zM105 441h4v1h-4zM305 441h3v1h-3zM449 441h7v1h-7zM505 441h4v1h-4zM734 441h2v1h-2zM102 442h3v1h-3zM308 442h2v1h-2zM446 442h3v1h-3zM509 442h8v1h-8zM732 442h2v1h-2zM100 443h2v1h-2zM310 443h2v1h-2zM444 443h2v1h-2zM517 443h4v1h-4zM730 443h2v1h-2zM99 444h1v1h-1zM312 444h2v1h-2zM442 444h2v1h-2zM521 444h4v1h-4zM728 444h2v1h-2zM98 445h1v1h-1zM314 445h2v1h-2zM440 445h2v1h-2zM525 445h3v1h-3zM725 445h3v1h-3zM97 446h1v1h-1zM316 446h2v1h-2zM438 446h2v1h-2zM528 446h2v1h-2zM722 446h3v1h-3zM96 447h1v1h-1zM318 447h2v1h-2zM436 447h2v1h-2zM530 447h2v1h-2zM720 447h2v1h-2zM94 448h2v1h-2zM320 448h2v1h-2zM433 448h3v1h-3zM532 448h2v1h-2zM718 448h2v1h-2zM92 449h2v1h-2zM322 449h3v1h-3zM430 449h3v1h-3zM534 449h3v1h-3zM716 449h2v1h-2zM90 450h2v1h-2zM325 450h4v1h-4zM428 450h2v1h-2zM537 450h3v1h-3zM714 450h2v1h-2zM88 451h2v1h-2zM329 451h4v1h-4zM426 451h2v1h-2zM540 451h1v1h-1zM712 451h2v1h-2zM86 452h2v1h-2zM333 452h4v1h-4zM424 452h2v1h-2zM541 452h2v1h-2zM710 452h2v1h-2zM84 453h2v1h-2zM337 453h4v1h-4zM423 453h1v1h-1zM543 453h1v1h-1zM708 453h2v1h-2zM83 454h1v1h-1zM341 454h4v1h-4zM421 454h2v1h-2zM544 454h1v1h-1zM705 454h3v1h-3zM81 455h2v1h-2zM345 455h4v1h-4zM420 455h1v1h-1zM545 455h1v1h-1zM702 455h3v1h-3zM80 456h1v1h-1zM349 456h4v1h-4zM418 456h2v1h-2zM546 456h1v1h-1zM700 456h2v1h-2zM78 457h2v1h-2zM353 457h4v1h-4zM416 457h2v1h-2zM547 457h1v1h-1zM697 457h3v1h-3zM76 458h2v1h-2zM357 458h4v1h-4zM413 458h3v1h-3zM548 458h1v1h-1zM693 458h4v1h-4zM74 459h2v1h-2zM361 459h4v1h-4zM410 459h3v1h-3zM549 459h2v1h-2zM690 459h3v1h-3zM72 460h2v1h-2zM365 460h4v1h-4zM408 460h2v1h-2zM551 460h1v1h-1zM688 460h2v1h-2zM70 461h2v1h-2zM369 461h4v1h-4zM405 461h3v1h-3zM552 461h1v1h-1zM687 461h1v1h-1zM68 462h2v1h-2zM373 462h4v1h-4zM389 462h16v1h-16zM553 462h2v1h-2zM685 462h2v1h-2zM65 463h3v1h-3zM377 463h12v1h-12zM555 463h1v1h-1zM684 463h1v1h-1zM61 464h4v1h-4zM556 464h2v1h-2zM683 464h1v1h-1zM57 465h4v1h-4zM558 465h2v1h-2zM681 465h2v1h-2zM54 466h3v1h-3zM560 466h1v1h-1zM680 466h1v1h-1zM52 467h2v1h-2zM561 467h2v1h-2zM679 467h1v1h-1zM49 468h3v1h-3zM563 468h1v1h-1zM677 468h2v1h-2zM46 469h3v1h-3zM564 469h1v1h-1zM676 469h1v1h-1zM44 470h2v1h-2zM565 470h2v1h-2zM675 470h1v1h-1zM43 471h1v1h-1zM567 471h1v1h-1zM673 471h2v1h-2zM41 472h2v1h-2zM568 472h2v1h-2zM672 472h1v1h-1zM40 473h1v1h-1zM570 473h6v1h-6zM671 473h1v1h-1zM33 474h7v1h-7zM576 474h2v1h-2zM669 474h2v1h-2zM29 475h4v1h-4zM578 475h2v1h-2zM668 475h1v1h-1zM25 476h4v1h-4zM580 476h2v1h-2zM667 476h1v1h-1zM21 477h4v1h-4zM582 477h3v1h-3zM665 477h2v1h-2zM3 478h18v1h-18zM585 478h3v1h-3zM664 478h1v1h-1zM588 479h2v1h-2zM662 479h2v1h-2zM590 480h3v1h-3zM660 480h2v1h-2zM593 481h3v1h-3zM659 481h1v1h-1zM596 482h2v1h-2zM657 482h2v1h-2zM598 483h3v1h-3zM656 483h1v1h-1zM601 484h4v1h-4zM653 484h3v1h-3zM605 485h4v1h-4zM650 485h3v1h-3zM609 486h3v1h-3zM648 486h2v1h-2zM612 487h2v1h-2zM629 487h19v1h-19zM614 488h15v1h-15z" fill="#0000ff"/>
<path d="M859 157h2v1h-2zM858 158h1v1h-1zM861 158h3v1h-3zM857 159h1v1h-1zM864 159h1v1h-1zM857 160h1v1h-1zM864 160h1v1h-1zM856 161h1v1h-1zM865 161h1v1h-1zM855 162h1v1h-1zM865 162h1v1h-1zM854 163h1v1h-1zM866 163h1v1h-1zM853 164h1v1h-1zM866 164h1v1h-1zM852 165h1v1h-1zM867 165h1v1h-1zM850 166h2v1h-2zM868 166h1v1h-1zM848 167h2v1h-2zM869 167h1v1h-1zM846 168h2v1h-2zM869 168h1v1h-1zM844 169h2v1h-2zM870 169h1v1h-1zM843 170h1v1h-1zM871 170h1v1h-1zM842 171h1v1h-1zM872 171h1v1h-1zM842 172h1v1h-1zM872 172h1v1h-1zM841 173h1v1h-1zM873 173h1v1h-1zM841 174h1v1h-1zM873 174h1v1h-1zM840 175h1v1h-1zM874 175h1v1h-1zM840 176h1v1h-1zM874 176h1v1h-1zM839 177h1v1h-1zM875 177h1v1h-1zM838 178h1v1h-1zM875 178h1v1h-1zM837 179h1v1h-1zM876 179h1v1h-1zM837 180h1v1h-1zM876 180h1v1h-1zM836 181h1v1h-1zM877 181h1v1h-1zM835 182h1v1h-1zM877 182h1v1h-1zM835 183h1v1h-1zM878 183h1v1h-1zM835 184h1v1h-1zM878 184h1v1h-1zM834 185h1v1h-1zM879 185h1v1h-1zM834 186h1v1h-1zM879 186h1v1h-1zM834 187h1v1h-1zM880 187h1v1h-1zM834 188h1v1h-1zM880 188h1v1h-1zM833 189h1v1h-1zM881 189h1v1h-1zM833 190h1v1h-1zM881 190h1v1h-1zM833 191h1v1h-1zM882 191h1v1h-1zM833 192h1v1h-1zM882 192h1v1h-1zM832 193h1v1h-1zM883 193h1v1h-1zM832 194h1v1h-1zM883 194h1v1h-1zM832 195h1v1h-1zM883 195h1v1h-1zM832 196h1v1h-1zM884 196h1v1h-1zM831 197h1v1h-1zM884 197h1v1h-1zM831 198h1v1h-1zM885 198h1v1h-1zM831 199h1v1h-1zM885 199h1v1h-1zM831 200h1v1h-1zM885 200h1v1h-1zM830 201h1v1h-1zM886 201h1v1h-1zM830 202h1v1h-1zM886 202h1v1h-1zM830 203h1v1h-1zM887 203h1v1h-1zM830 204h1v1h-1zM887 204h1v1h-1zM830 205h1v1h-1zM888 205h1v1h-1zM829 206h1v1h-1zM888 206h1v1h-1zM829 207h1v1h-1zM889 207h1v1h-1zM829 208h1v1h-1zM889 208h1v1h-1zM829 209h1v1h-1zM890 209h1v1h-1zM829 210h1v1h-1zM890 210h1v1h-1zM828 211h1v1h-1zM891 211h1v1h-1zM828 212h1v1h-1zM891 212h2v1h-2zM828 213h1v1h-1zM893 213h3v1h-3zM828 214h1v1h-1zM896 214h1v1h-1zM828 215h1v1h-1zM897 215h2v1h-2zM827 216h1v1h-1zM899 216h2v1h-2zM827 217h1v1h-1zM901 217h8v1h-8zM946 217h23v1h-23zM827 218h1v1h-1zM909 218h3v1h-3zM944 218h2v1h-2zM969 218h11v1h-11zM827 219h1v1h-1zM912 219h1v1h-1zM942 219h2v1h-2zM980 219h2v1h-2zM827 220h1v1h-1zM913 220h2v1h-2zM940 220h2v1h-2zM982 220h2v1h-2zM1015 220h1v1h-1zM826 221h1v1h-1zM915 221h1v1h-1zM938 221h2v1h-2zM984 221h1v1h-1zM1014 221h1v1h-1zM1016 221h2v1h-2zM826 222h1v1h-1zM916 222h2v1h-2zM936 222h2v1h-2zM985 222h2v1h-2zM1013 222h1v1h-1zM1018 222h2v1h-2zM826 223h1v1h-1zM918 223h3v1h-3zM929 223h7v1h-7zM987 223h1v1h-1zM1013 223h1v1h-1zM1020 223h1v1h-1zM826 224h1v1h-1zM921 224h8v1h-8zM988 224h2v1h-2zM1012 224h1v1h-1zM1021 224h1v1h-1zM826 225h1v1h-1zM990 225h3v1h-3zM1010 225h2v1h-2zM1021 225h1v1h-1zM825 226h1v1h-1zM993 226h3v1h-3zM1008 226h2v1h-2zM1022 226h1v1h-1zM825 227h1v1h-1zM996 227h1v1h-1zM1007 227h1v1h-1zM1023 227h1v1h-1zM825 228h1v1h-1zM997 228h2v1h-2zM1005 228h2v1h-2zM1024 228h2v1h-2zM825 229h1v1h-1zM999 229h2v1h-2zM1004 229h1v1h-1zM1026 229h2v1h-2zM825 230h1v1h-1zM1001 230h3v1h-3zM1028 230h2v1h-2zM825 231h1v1h-1zM1030 231h2v1h-2zM824 232h1v1h-1zM1032 232h2v1h-2zM1041 232h3v1h-3zM824 233h1v1h-1zM1034 233h7v1h-7zM1044 233h1v1h-1zM824 234h1v1h-1zM1045 234h2v1h-2zM824 235h1v1h-1zM1047 235h1v1h-1zM824 236h1v1h-1zM1048 236h1v1h-1zM823 237h1v1h-1zM1049 237h2v1h-2zM823 238h1v1h-1zM1051 238h1v1h-1zM823 239h1v1h-1zM1052 239h1v1h-1zM823 240h1v1h-1zM1052 240h1v1h-1zM823 241h1v1h-1zM1053 241h1v1h-1zM822 242h1v1h-1zM1054 242h1v1h-1zM822 243h1v1h-1zM1054 243h1v1h-1zM822 244h1v1h-1zM1055 244h1v1h-1zM822 245h1v1h-1zM1056 245h1v1h-1zM822 246h1v1h-1zM1057 246h1v1h-1zM821 247h1v1h-1zM1057 247h1v1h-1zM821 248h1v1h-1zM1058 248h1v1h-1zM821 249h1v1h-1zM1059 249h1v1h-1zM821 250h1v1h-1zM1060 250h1v1h-1zM820 251h1v1h-1zM1060 251h1v1h-1zM820 252h1v1h-1zM1061 252h1v1h-1zM820 253h1v1h-1zM1062 253h1v1h-1zM820 254h1v1h-1zM1062 254h1v1h-1zM820 255h1v1h-1zM1063 255h1v1h-1zM819 256h1v1h-1zM1064 256h1v1h-1zM819 257h1v1h-1zM1064 257h1v1h-1zM819 258h1v1h-1zM1065 258h1v1h-1zM819 259h1v1h-1zM1065 259h1v1h-1zM819 260h1v1h-1zM1066 260h1v1h-1zM818 261h1v1h-1zM1066 261h1v1h-1zM818 262h1v1h-1zM1067 262h1v1h-1zM818 263h1v1h-1zM1067 263h1v1h-1zM818 264h1v1h-1zM1068 264h1v1h-1zM818 265h1v1h-1zM1068 265h1v1h-1zM818 266h1v1h-1zM1068 266h1v1h-1zM817 267h1v1h-1zM1068 267h1v1h-1zM817 268h1v1h-1zM1069 268h1v1h-1zM817 269h1v1h-1zM1069 269h1v1h-1zM817 270h1v1h-1zM1069 270h1v1h-1zM817 271h1v1h-1zM1070 271h1v1h-1zM817 272h1v1h-1zM1070 272h1v1h-1zM816 273h1v1h-1zM1070 273h1v1h-1zM816 274h1v1h-1zM1070 274h1v1h-1zM816 275h1v1h-1zM1071 275h1v1h-1zM816 276h1v1h-1zM1071 276h1v1h-1zM816 277h1v1h-1zM1072 277h1v1h-1zM816 278h1v1h-1zM1072 278h1v1h-1zM815 279h1v1h-1zM1073 279h1v1h-1zM815 280h1v1h-1zM1073 280h1v1h-1zM815 281h1v1h-1zM1074 281h1v1h-1zM815 282h1v1h-1zM1074 282h1v1h-1zM815 283h1v1h-1zM1075 283h1v1h-1zM814 284h1v1h-1zM1075 284h1v1h-1zM814 285h1v1h-1zM1075 285h1v1h-1zM814 286h1v1h-1zM1076 286h1v1h-1zM814 287h1v1h-1zM1076 287h1v1h-1zM814 288h1v1h-1zM1077 288h1v1h-1zM814 289h1v1h-1zM1077 289h1v1h-1zM813 290h1v1h-1zM1078 290h1v1h-1zM813 291h1v1h-1zM1078 291h1v1h-1zM813 292h1v1h-1zM1079 292h1v1h-1zM813 293h1v1h-1zM1079 293h1v1h-1zM813 294h1v1h-1zM1080 294h1v1h-1zM812 295h1v1h-1zM1080 295h1v1h-1zM812 296h1v1h-1zM1081 296h1v1h-1zM812 297h1v1h-1zM1081 297h1v1h-1zM812 298h1v1h-1zM1082 298h1v1h-1zM812 299h1v1h-1zM1082 299h1v1h-1zM812 300h1v1h-1zM1083 300h1v1h-1zM811 301h1v1h-1zM1083 301h1v1h-1zM811 302h1v1h-1zM1083 302h1v1h-1zM811 303h1v1h-1zM1084 303h1v1h-1zM811 304h1v1h-1zM1084 304h1v1h-1zM811 305h1v1h-1zM1085 305h1v1h-1zM810 306h1v1h-1zM1085 306h1v1h-1zM810 307h1v1h-1zM1086 307h1v1h-1zM810 308h1v1h-1zM1086 308h1v1h-1zM810 309h1v1h-1zM1087 309h1v1h-1zM810 310h1v1h-1zM1087 310h1v1h-1zM809 311h1v1h-1zM1087 311h1v1h-1zM809 312h1v1h-1zM1088 312h1v1h-1zM809 313h1v1h-1zM1088 313h1v1h-1zM809 314h1v1h-1zM1088 314h1v1h-1zM809 315h1v1h-1zM1089 315h1v1h-1zM808 316h1v1h-1zM1089 316h1v1h-1zM808 317h1v1h-1zM1089 317h1v1h-1zM808 318h1v1h-1zM1090 318h1v1h-1zM808 319h1v1h-1zM1090 319h1v1h-1zM808 320h1v1h-1zM1090 320h1v1h-1zM807 321h1v1h-1zM1091 321h1v1h-1zM807 322h1v1h-1zM1091 322h1v1h-1zM807 323h1v1h-1zM1091 323h1v1h-1zM807 324h1v1h-1zM1092 324h1v1h-1zM807 325h1v1h-1zM1092 325h1v1h-1zM806 326h1v1h-1zM1092 326h1v1h-1zM806 327h1v1h-1zM1093 327h1v1h-1zM806 328h1v1h-1zM1093 328h1v1h-1zM806 329h1v1h-1zM1094 329h1v1h-1zM805 330h1v1h-1zM1094 330h1v1h-1zM805 331h1v1h-1zM1094 331h1v1h-1zM805 332h1v1h-1zM1095 332h1v1h-1zM805 333h1v1h-1zM1095 333h1v1h-1zM805 334h1v1h-1zM1095 334h1v1h-1zM804 335h1v1h-1zM1096 335h1v1h-1zM804 336h1v1h-1zM1096 336h1v1h-1zM804 337h1v1h-1zM1096 337h1v1h-1zM804 338h1v1h-1zM1097 338h1v1h-1zM803 339h1v1h-1zM1097 339h1v1h-1zM1162 339h19v1h-19zM803 340h1v1h-1zM1097 340h1v1h-1zM1160 340h2v1h-2zM1181 340h4v1h-4zM803 341h1v1h-1zM1098 341h1v1h-1zM1159 341h1v1h-1zM1185 341h20v1h-20zM803 342h1v1h-1zM1098 342h1v1h-1zM1157 342h2v1h-2zM1205 342h3v1h-3zM802 343h1v1h-1zM1098 343h1v1h-1zM1156 343h1v1h-1zM1208 343h2v1h-2zM802 344h1v1h-1zM1099 344h1v1h-1zM1155 344h1v1h-1zM1210 344h2v1h-2zM801 345h1v1h-1zM1099 345h1v1h-1zM1154 345h1v1h-1zM1212 345h2v1h-2zM801 346h1v1h-1zM1100 346h1v1h-1zM1154 346h1v1h-1zM1214 346h2v1h-2zM800 347h1v1h-1zM1100 347h1v1h-1zM1153 347h1v1h-1zM1216 347h2v1h-2zM800 348h1v1h-1zM1101 348h1v1h-1zM1152 348h1v1h-1zM1218 348h2v1h-2zM799 349h1v1h-1zM1101 349h1v1h-1zM1152 349h1v1h-1zM1220 349h2v1h-2zM799 350h1v1h-1zM1102 350h1v1h-1zM1151 350h1v1h-1zM1222 350h11v1h-11zM798 351h1v1h-1zM1102 351h1v1h-1zM1150 351h1v1h-1zM1233 351h3v1h-3zM798 352h1v1h-1zM1103 352h1v1h-1zM1149 352h1v1h-1zM1236 352h2v1h-2zM798 353h1v1h-1zM1104 353h1v1h-1zM1148 353h1v1h-1zM1238 353h2v1h-2zM797 354h1v1h-1zM1105 354h1v1h-1zM1147 354h1v1h-1zM1240 354h1v1h-1zM797 355h1v1h-1zM1106 355h1v1h-1zM1146 355h1v1h-1zM1241 355h2v1h-2zM797 356h1v1h-1zM1107 356h1v1h-1zM1145 356h1v1h-1zM1243 356h1v1h-1zM796 357h1v1h-1zM1108 357h2v1h-2zM1144 357h1v1h-1zM1244 357h1v1h-1zM796 358h1v1h-1zM1110 358h2v1h-2zM1142 358h2v1h-2zM1245 358h1v1h-1zM796 359h1v1h-1zM1112 359h1v1h-1zM1140 359h2v1h-2zM1246 359h1v1h-1zM795 360h1v1h-1zM1113 360h1v1h-1zM1139 360h1v1h-1zM1247 360h1v1h-1zM795 361h1v1h-1zM1114 361h1v1h-1zM1137 361h2v1h-2zM1248 361h2v1h-2zM795 362h1v1h-1zM1115 362h1v1h-1zM1136 362h1v1h-1zM1250 362h2v1h-2zM794 363h1v1h-1zM1116 363h1v1h-1zM1133 363h3v1h-3zM1252 363h1v1h-1zM794 364h1v1h-1zM1117 364h1v1h-1zM1131 364h2v1h-2zM1253 364h2v1h-2zM794 365h1v1h-1zM1118 365h1v1h-1zM1129 365h2v1h-2zM1255 365h1v1h-1zM793 366h1v1h-1zM1119 366h1v1h-1zM1128 366h1v1h-1zM1256 366h1v1h-1zM793 367h1v1h-1zM1120 367h2v1h-2zM1125 367h3v1h-3zM1257 367h1v1h-1zM793 368h1v1h-1zM1122 368h3v1h-3zM1257 368h1v1h-1zM793 369h1v1h-1zM1258 369h1v1h-1zM792 370h1v1h-1zM1259 370h1v1h-1zM792 371h1v1h-1zM1260 371h1v1h-1zM792 372h1v1h-1zM1261 372h1v1h-1zM791 373h1v1h-1zM1262 373h1v1h-1zM791 374h1v1h-1zM1263 374h1v1h-1zM791 375h1v1h-1zM1264 375h1v1h-1zM790 376h1v1h-1zM1265 376h2v1h-2zM790 377h1v1h-1zM790 378h1v1h-1zM789 379h1v1h-1zM789 380h1v1h-1zM788 381h1v1h-1zM788 382h1v1h-1zM788 383h1v1h-1zM787 384h1v1h-1zM787 385h1v1h-1zM787 386h1v1h-1zM786 387h1v1h-1zM786 388h1v1h-1zM785 389h1v1h-1zM785 390h1v1h-1zM784 391h1v1h-1zM784 392h1v1h-1zM783 393h1v1h-1zM783 394h1v1h-1zM783 395h1v1h-1zM782 396h1v1h-1zM782 397h1v1h-1zM782 398h1v1h-1zM781 399h1v1h-1zM781 400h1v1h-1zM781 401h1v1h-1zM780 402h1v1h-1zM780 403h1v1h-1zM780 404h1v1h-1zM779 405h1v1h-1zM779 406h1v1h-1zM778 407h1v1h-1zM778 408h1v1h-1zM777 409h1v1h-1zM776 410h1v1h-1zM776 411h1v1h-1zM775 412h1v1h-1zM774 413h1v1h-1zM773 414h1v1h-1zM772 415h1v1h-1zM771 416h1v1h-1zM769 417h2v1h-2zM768 418h1v1h-1zM767 419h1v1h-1zM765 420h2v1h-2zM764 421h1v1h-1zM763 422h1v1h-1zM133 423h4v1h-4zM761 423h2v1h-2zM129 424h4v1h-4zM137 424h3v1h-3zM760 424h1v1h-1zM125 425h4v1h-4zM140 425h2v1h-2zM757 425h3v1h-3zM113 426h12v1h-12zM142 426h2v1h-2zM754 426h3v1h-3zM109 427h4v1h-4zM144 427h2v1h-2zM257 427h8v1h-8zM752 427h2v1h-2zM105 428h4v1h-4zM146 428h2v1h-2zM253 428h4v1h-4zM265 428h3v1h-3zM449 428h4v1h-4zM751 428h1v1h-1zM101 429h4v1h-4zM148 429h2v1h-2zM249 429h4v1h-4zM268 429h2v1h-2zM445 429h4v1h-4zM453 429h4v1h-4zM749 429h2v1h-2zM97 430h4v1h-4zM150 430h2v1h-2zM245 430h4v1h-4zM270 430h7v1h-7zM441 430h4v1h-4zM457 430h8v1h-8zM705 430h12v1h-12zM748 430h1v1h-1zM93 431h4v1h-4zM152 431h1v1h-1zM241 431h4v1h-4zM277 431h7v1h-7zM437 431h4v1h-4zM465 431h4v1h-4zM697 431h8v1h-8zM717 431h4v1h-4zM746 431h2v1h-2zM90 432h3v1h-3zM153 432h2v1h-2zM238 432h3v1h-3zM284 432h1v1h-1zM433 432h4v1h-4zM469 432h4v1h-4zM694 432h3v1h-3zM721 432h3v1h-3zM744 432h2v1h-2zM88 433h2v1h-2zM155 433h1v1h-1zM217 433h4v1h-4zM236 433h2v1h-2zM285 433h2v1h-2zM429 433h4v1h-4zM473 433h3v1h-3zM692 433h2v1h-2zM724 433h2v1h-2zM742 433h2v1h-2zM86 434h2v1h-2zM156 434h1v1h-1zM215 434h2v1h-2zM221 434h15v1h-15zM287 434h1v1h-1zM425 434h4v1h-4zM476 434h2v1h-2zM690 434h2v1h-2zM726 434h3v1h-3zM740 434h2v1h-2zM84 435h2v1h-2zM157 435h2v1h-2zM214 435h1v1h-1zM288 435h1v1h-1zM421 435h4v1h-4zM478 435h2v1h-2zM688 435h2v1h-2zM729 435h11v1h-11zM81 436h3v1h-3zM159 436h1v1h-1zM213 436h1v1h-1zM289 436h1v1h-1zM418 436h3v1h-3zM480 436h2v1h-2zM686 436h2v1h-2zM78 437h3v1h-3zM160 437h1v1h-1zM212 437h1v1h-1zM290 437h1v1h-1zM416 437h2v1h-2zM482 437h2v1h-2zM684 437h2v1h-2zM76 438h2v1h-2zM161 438h2v1h-2zM210 438h2v1h-2zM291 438h1v1h-1zM415 438h1v1h-1zM484 438h2v1h-2zM683 438h1v1h-1zM74 439h2v1h-2zM163 439h2v1h-2zM208 439h2v1h-2zM292 439h1v1h-1zM413 439h2v1h-2zM486 439h2v1h-2zM682 439h1v1h-1zM72 440h2v1h-2zM165 440h15v1h-15zM206 440h2v1h-2zM293 440h1v1h-1zM412 440h1v1h-1zM488 440h2v1h-2zM681 440h1v1h-1zM71 441h1v1h-1zM180 441h1v1h-1zM204 441h2v1h-2zM293 441h1v1h-1zM410 441h2v1h-2zM490 441h2v1h-2zM681 441h1v1h-1zM69 442h2v1h-2zM181 442h2v1h-2zM202 442h2v1h-2zM294 442h1v1h-1zM408 442h2v1h-2zM492 442h1v1h-1zM680 442h1v1h-1zM68 443h1v1h-1zM183 443h2v1h-2zM200 443h2v1h-2zM295 443h1v1h-1zM407 443h1v1h-1zM493 443h2v1h-2zM679 443h1v1h-1zM67 444h1v1h-1zM185 444h4v1h-4zM197 444h3v1h-3zM296 444h1v1h-1zM405 444h2v1h-2zM495 444h1v1h-1zM677 444h2v1h-2zM65 445h2v1h-2zM189 445h8v1h-8zM297 445h1v1h-1zM404 445h1v1h-1zM496 445h1v1h-1zM676 445h1v1h-1zM64 446h1v1h-1zM298 446h1v1h-1zM403 446h1v1h-1zM497 446h1v1h-1zM675 446h1v1h-1zM61 447h3v1h-3zM299 447h1v1h-1zM401 447h2v1h-2zM498 447h1v1h-1zM673 447h2v1h-2zM57 448h4v1h-4zM300 448h1v1h-1zM400 448h1v1h-1zM499 448h1v1h-1zM672 448h1v1h-1zM53 449h4v1h-4zM301 449h1v1h-1zM398 449h2v1h-2zM500 449h1v1h-1zM671 449h1v1h-1zM49 450h4v1h-4zM302 450h1v1h-1zM396 450h2v1h-2zM501 450h1v1h-1zM670 450h1v1h-1zM47 451h2v1h-2zM303 451h1v1h-1zM393 451h3v1h-3zM502 451h1v1h-1zM669 451h1v1h-1zM45 452h2v1h-2zM304 452h1v1h-1zM389 452h4v1h-4zM503 452h2v1h-2zM669 452h1v1h-1zM44 453h1v1h-1zM305 453h1v1h-1zM386 453h3v1h-3zM505 453h8v1h-8zM668 453h1v1h-1zM43 454h1v1h-1zM306 454h1v1h-1zM384 454h2v1h-2zM513 454h3v1h-3zM667 454h1v1h-1zM42 455h1v1h-1zM307 455h1v1h-1zM383 455h1v1h-1zM516 455h2v1h-2zM666 455h1v1h-1zM41 456h1v1h-1zM308 456h1v1h-1zM381 456h2v1h-2zM518 456h2v1h-2zM665 456h1v1h-1zM41 457h1v1h-1zM309 457h1v1h-1zM380 457h1v1h-1zM520 457h2v1h-2zM664 457h1v1h-1zM40 458h1v1h-1zM309 458h1v1h-1zM379 458h1v1h-1zM522 458h2v1h-2zM663 458h1v1h-1zM39 459h1v1h-1zM310 459h1v1h-1zM377 459h2v1h-2zM524 459h2v1h-2zM662 459h1v1h-1zM37 460h2v1h-2zM311 460h1v1h-1zM376 460h1v1h-1zM526 460h2v1h-2zM661 460h1v1h-1zM36 461h1v1h-1zM312 461h1v1h-1zM375 461h1v1h-1zM528 461h1v1h-1zM660 461h1v1h-1zM34 462h2v1h-2zM313 462h1v1h-1zM374 462h1v1h-1zM529 462h2v1h-2zM659 462h1v1h-1zM32 463h2v1h-2zM313 463h1v1h-1zM373 463h1v1h-1zM531 463h1v1h-1zM658 463h1v1h-1zM31 464h1v1h-1zM314 464h1v1h-1zM372 464h1v1h-1zM532 464h2v1h-2zM657 464h1v1h-1zM29 465h2v1h-2zM315 465h1v1h-1zM371 465h1v1h-1zM534 465h2v1h-2zM657 465h1v1h-1zM28 466h1v1h-1zM316 466h1v1h-1zM369 466h2v1h-2zM536 466h2v1h-2zM656 466h1v1h-1zM27 467h1v1h-1zM317 467h1v1h-1zM368 467h1v1h-1zM538 467h2v1h-2zM655 467h1v1h-1zM25 468h2v1h-2zM318 468h1v1h-1zM367 468h1v1h-1zM540 468h1v1h-1zM653 468h2v1h-2zM24 469h1v1h-1zM319 469h1v1h-1zM365 469h2v1h-2zM541 469h1v1h-1zM652 469h1v1h-1zM23 470h1v1h-1zM320 470h2v1h-2zM364 470h1v1h-1zM542 470h1v1h-1zM651 470h1v1h-1zM21 471h2v1h-2zM322 471h2v1h-2zM362 471h2v1h-2zM543 471h1v1h-1zM650 471h1v1h-1zM20 472h1v1h-1zM324 472h1v1h-1zM360 472h2v1h-2zM544 472h1v1h-1zM649 472h1v1h-1zM18 473h2v1h-2zM325 473h2v1h-2zM357 473h3v1h-3zM545 473h1v1h-1zM648 473h1v1h-1zM16 474h2v1h-2zM327 474h5v1h-5zM354 474h3v1h-3zM545 474h1v1h-1zM647 474h1v1h-1zM14 475h2v1h-2zM332 475h2v1h-2zM352 475h2v1h-2zM546 475h1v1h-1zM645 475h2v1h-2zM12 476h2v1h-2zM334 476h7v1h-7zM345 476h7v1h-7zM547 476h1v1h-1zM644 476h1v1h-1zM10 477h2v1h-2zM341 477h4v1h-4zM548 477h1v1h-1zM642 477h2v1h-2zM8 478h2v1h-2zM549 478h2v1h-2zM640 478h2v1h-2zM6 479h2v1h-2zM551 479h1v1h-1zM638 479h2v1h-2zM4 480h2v1h-2zM552 480h1v1h-1zM636 480h2v1h-2zM3 481h1v1h-1zM553 481h2v1h-2zM635 481h1v1h-1zM555 482h1v1h-1zM633 482h2v1h-2zM556 483h1v1h-1zM632 483h1v1h-1zM557 484h2v1h-2zM629 484h3v1h-3zM559 485h1v1h-1zM626 485h3v1h-3zM560 486h1v1h-1zM624 486h2v1h-2zM561 487h1v1h-1zM622 487h2v1h-2zM562 488h1v1h-1zM620 488h2v1h-2zM563 489h1v1h-1zM619 489h1v1h-1zM564 490h2v1h-2zM618 490h1v1h-1zM566 491h2v1h-2zM617 491h1v1h-1zM568 492h1v1h-1zM616 492h1v1h-1zM569 493h2v1h-2zM613 493h3v1h-3zM571 494h1v1h-1zM609 494h4v1h-4zM572 495h1v1h-1zM606 495h3v1h-3zM573 496h2v1h-2zM604 496h2v1h-2zM575 497h2v1h-2zM602 497h2v1h-2zM577 498h4v1h-4zM600 498h2v1h-2zM581 499h12v1h-12zM597 499h3v1h-3zM593 500h4v1h-4z" fill="#ff0000"/>
<path d="M827 108h5v1h-5zM827 109h1v1h-1zM832 109h1v1h-1zM827 110h1v1h-1zM832 110h1v1h-1zM826 111h1v1h-1zM833 111h1v1h-1zM826 112h1v1h-1zM833 112h1v1h-1zM826 113h1v1h-1zM834 113h1v1h-1zM826 114h1v1h-1zM834 114h1v1h-1zM826 115h1v1h-1zM835 115h1v1h-1zM825 116h1v1h-1zM835 116h1v1h-1zM825 117h1v1h-1zM836 117h1v1h-1zM825 118h1v1h-1zM836 118h1v1h-1zM825 119h1v1h-1zM836 119h1v1h-1zM824 120h1v1h-1zM836 120h1v1h-1zM824 121h1v1h-1zM837 121h1v1h-1zM824 122h1v1h-1zM837 122h1v1h-1zM824 123h1v1h-1zM837 123h1v1h-1zM824 124h1v1h-1zM837 124h1v1h-1zM823 125h1v1h-1zM838 125h1v1h-1zM823 126h1v1h-1zM838 126h1v1h-1zM823 127h1v1h-1zM838 127h1v1h-1zM823 128h1v1h-1zM838 128h1v1h-1zM823 129h1v1h-1zM839 129h1v1h-1zM823 130h1v1h-1zM839 130h1v1h-1zM822 131h1v1h-1zM839 131h1v1h-1zM822 132h1v1h-1zM839 132h1v1h-1zM822 133h1v1h-1zM840 133h1v1h-1zM822 134h1v1h-1zM840 134h1v1h-1zM822 135h1v1h-1zM840 135h1v1h-1zM822 136h1v1h-1zM840 136h1v1h-1zM822 137h1v1h-1zM840 137h1v1h-1zM821 138h1v1h-1zM840 138h1v1h-1zM821 139h1v1h-1zM841 139h1v1h-1zM821 140h1v1h-1zM841 140h1v1h-1zM821 141h1v1h-1zM841 141h1v1h-1zM821 142h1v1h-1zM841 142h1v1h-1zM821 143h1v1h-1zM841 143h1v1h-1zM820 144h1v1h-1zM842 144h1v1h-1zM820 145h1v1h-1zM842 145h1v1h-1zM820 146h1v1h-1zM842 146h1v1h-1zM820 147h1v1h-1zM842 147h1v1h-1zM820 148h1v1h-1zM842 148h1v1h-1zM820 149h1v1h-1zM842 149h1v1h-1zM820 150h1v1h-1zM843 150h1v1h-1zM819 151h1v1h-1zM843 151h1v1h-1zM819 152h1v1h-1zM843 152h1v1h-1zM819 153h1v1h-1zM843 153h1v1h-1zM819 154h1v1h-1zM843 154h1v1h-1zM819 155h1v1h-1zM844 155h1v1h-1zM819 156h1v1h-1zM844 156h1v1h-1zM818 157h1v1h-1zM844 157h1v1h-1zM818 158h1v1h-1zM844 158h1v1h-1zM818 159h1v1h-1zM844 159h1v1h-1zM818 160h1v1h-1zM844 160h1v1h-1zM818 161h1v1h-1zM845 161h1v1h-1zM817 162h1v1h-1zM845 162h1v1h-1zM817 163h1v1h-1zM845 163h1v1h-1zM817 164h1v1h-1zM845 164h1v1h-1zM817 165h1v1h-1zM845 165h1v1h-1zM817 166h1v1h-1zM845 166h1v1h-1zM816 167h1v1h-1zM846 167h1v1h-1zM816 168h1v1h-1zM846 168h1v1h-1zM816 169h1v1h-1zM846 169h1v1h-1zM816 170h1v1h-1zM846 170h1v1h-1zM816 171h1v1h-1zM846 171h1v1h-1zM815 172h1v1h-1zM846 172h1v1h-1zM815 173h1v1h-1zM847 173h1v1h-1zM815 174h1v1h-1zM847 174h1v1h-1zM815 175h1v1h-1zM847 175h1v1h-1zM815 176h1v1h-1zM847 176h1v1h-1zM815 177h1v1h-1zM847 177h1v1h-1zM814 178h1v1h-1zM847 178h1v1h-1zM814 179h1v1h-1zM848 179h1v1h-1zM814 180h1v1h-1zM848 180h1v1h-1zM814 181h1v1h-1zM848 181h1v1h-1zM814 182h1v1h-1zM848 182h1v1h-1zM814 183h1v1h-1zM848 183h1v1h-1zM814 184h1v1h-1zM848 184h1v1h-1zM813 185h1v1h-1zM849 185h1v1h-1zM813 186h1v1h-1zM849 186h1v1h-1zM813 187h1v1h-1zM849 187h1v1h-1zM813 188h1v1h-1zM849 188h1v1h-1zM813 189h1v1h-1zM849 189h1v1h-1zM813 190h1v1h-1zM850 190h1v1h-1zM813 191h1v1h-1zM850 191h1v1h-1zM870 191h3v1h-3zM813 192h1v1h-1zM850 192h1v1h-1zM868 192h2v1h-2zM873 192h3v1h-3zM812 193h1v1h-1zM850 193h1v1h-1zM867 193h1v1h-1zM875 193h1v1h-1zM812 194h1v1h-1zM850 194h1v1h-1zM866 194h1v1h-1zM876 194h1v1h-1zM812 195h1v1h-1zM850 195h1v1h-1zM865 195h1v1h-1zM876 195h1v1h-1zM812 196h1v1h-1zM851 196h1v1h-1zM865 196h1v1h-1zM876 196h1v1h-1zM812 197h1v1h-1zM851 197h1v1h-1zM864 197h1v1h-1zM877 197h1v1h-1zM812 198h1v1h-1zM851 198h1v1h-1zM863 198h1v1h-1zM877 198h1v1h-1zM812 199h1v1h-1zM851 199h1v1h-1zM862 199h1v1h-1zM878 199h1v1h-1zM811 200h1v1h-1zM852 200h1v1h-1zM862 200h1v1h-1zM878 200h1v1h-1zM811 201h1v1h-1zM852 201h1v1h-1zM861 201h1v1h-1zM878 201h1v1h-1zM811 202h1v1h-1zM852 202h1v1h-1zM861 202h1v1h-1zM879 202h1v1h-1zM943 202h1v1h-1zM811 203h1v1h-1zM852 203h1v1h-1zM860 203h1v1h-1zM879 203h1v1h-1zM941 203h2v1h-2zM944 203h1v1h-1zM811 204h1v1h-1zM853 204h1v1h-1zM860 204h1v1h-1zM880 204h1v1h-1zM940 204h1v1h-1zM944 204h1v1h-1zM811 205h1v1h-1zM853 205h1v1h-1zM859 205h1v1h-1zM880 205h1v1h-1zM938 205h2v1h-2zM945 205h1v1h-1zM811 206h1v1h-1zM853 206h1v1h-1zM858 206h1v1h-1zM881 206h1v1h-1zM936 206h2v1h-2zM945 206h1v1h-1zM811 207h1v1h-1zM854 207h1v1h-1zM858 207h1v1h-1zM881 207h1v1h-1zM933 207h3v1h-3zM946 207h1v1h-1zM810 208h1v1h-1zM854 208h1v1h-1zM857 208h1v1h-1zM882 208h1v1h-1zM927 208h6v1h-6zM946 208h1v1h-1zM810 209h1v1h-1zM854 209h1v1h-1zM857 209h1v1h-1zM882 209h1v1h-1zM926 209h1v1h-1zM947 209h1v1h-1zM810 210h1v1h-1zM854 210h1v1h-1zM856 210h1v1h-1zM883 210h1v1h-1zM925 210h1v1h-1zM947 210h1v1h-1zM810 211h1v1h-1zM855 211h2v1h-2zM884 211h1v1h-1zM925 211h1v1h-1zM948 211h1v1h-1zM979 211h1v1h-1zM810 212h1v1h-1zM855 212h1v1h-1zM884 212h1v1h-1zM924 212h1v1h-1zM948 212h1v1h-1zM979 212h2v1h-2zM1015 212h1v1h-1zM810 213h1v1h-1zM885 213h1v1h-1zM923 213h1v1h-1zM949 213h1v1h-1zM978 213h1v1h-1zM981 213h1v1h-1zM1014 213h1v1h-1zM1016 213h2v1h-2zM810 214h1v1h-1zM885 214h1v1h-1zM922 214h1v1h-1zM949 214h1v1h-1zM978 214h1v1h-1zM981 214h1v1h-1zM1013 214h1v1h-1zM1018 214h2v1h-2zM810 215h1v1h-1zM886 215h1v1h-1zM922 215h1v1h-1zM950 215h1v1h-1zM977 215h1v1h-1zM982 215h1v1h-1zM1013 215h1v1h-1zM1019 215h1v1h-1zM809 216h1v1h-1zM886 216h1v1h-1zM921 216h1v1h-1zM950 216h1v1h-1zM977 216h1v1h-1zM983 216h1v1h-1zM1012 216h1v1h-1zM1020 216h1v1h-1zM809 217h1v1h-1zM887 217h1v1h-1zM921 217h1v1h-1zM951 217h1v1h-1zM977 217h1v1h-1zM983 217h1v1h-1zM1011 217h1v1h-1zM1020 217h1v1h-1zM809 218h1v1h-1zM887 218h1v1h-1zM920 218h1v1h-1zM951 218h1v1h-1zM976 218h1v1h-1zM984 218h1v1h-1zM1011 218h1v1h-1zM1020 218h1v1h-1zM809 219h1v1h-1zM887 219h1v1h-1zM920 219h1v1h-1zM952 219h1v1h-1zM976 219h1v1h-1zM984 219h1v1h-1zM1010 219h1v1h-1zM1021 219h1v1h-1zM809 220h1v1h-1zM888 220h1v1h-1zM919 220h1v1h-1zM952 220h1v1h-1zM975 220h1v1h-1zM985 220h1v1h-1zM1010 220h1v1h-1zM1021 220h1v1h-1zM809 221h1v1h-1zM888 221h1v1h-1zM918 221h1v1h-1zM953 221h1v1h-1zM975 221h1v1h-1zM985 221h1v1h-1zM1009 221h1v1h-1zM1022 221h1v1h-1zM809 222h1v1h-1zM889 222h1v1h-1zM917 222h1v1h-1zM953 222h1v1h-1zM974 222h1v1h-1zM985 222h1v1h-1zM1009 222h1v1h-1zM1022 222h1v1h-1zM809 223h1v1h-1zM889 223h1v1h-1zM917 223h1v1h-1zM954 223h1v1h-1zM974 223h1v1h-1zM986 223h1v1h-1zM1009 223h1v1h-1zM1022 223h1v1h-1zM808 224h1v1h-1zM889 224h1v1h-1zM916 224h1v1h-1zM954 224h1v1h-1zM973 224h1v1h-1zM986 224h1v1h-1zM1008 224h1v1h-1zM1023 224h1v1h-1zM808 225h1v1h-1zM890 225h1v1h-1zM915 225h1v1h-1zM955 225h1v1h-1zM973 225h1v1h-1zM987 225h1v1h-1zM1008 225h1v1h-1zM1023 225h1v1h-1zM808 226h1v1h-1zM890 226h1v1h-1zM914 226h1v1h-1zM955 226h1v1h-1zM972 226h1v1h-1zM987 226h1v1h-1zM1007 226h1v1h-1zM1023 226h1v1h-1zM808 227h1v1h-1zM891 227h1v1h-1zM913 227h1v1h-1zM956 227h1v1h-1zM972 227h1v1h-1zM988 227h1v1h-1zM1007 227h1v1h-1zM1024 227h1v1h-1zM808 228h1v1h-1zM891 228h1v1h-1zM912 228h1v1h-1zM956 228h1v1h-1zM971 228h1v1h-1zM988 228h1v1h-1zM1007 228h1v1h-1zM1024 228h1v1h-1zM808 229h1v1h-1zM891 229h1v1h-1zM911 229h1v1h-1zM957 229h1v1h-1zM969 229h2v1h-2zM989 229h1v1h-1zM1006 229h1v1h-1zM1025 229h1v1h-1zM808 230h1v1h-1zM892 230h1v1h-1zM911 230h1v1h-1zM958 230h1v1h-1zM968 230h1v1h-1zM990 230h1v1h-1zM1006 230h1v1h-1zM1025 230h1v1h-1zM808 231h1v1h-1zM892 231h1v1h-1zM910 231h1v1h-1zM958 231h1v1h-1zM966 231h2v1h-2zM990 231h1v1h-1zM1005 231h1v1h-1zM1026 231h1v1h-1zM807 232h1v1h-1zM893 232h1v1h-1zM910 232h1v1h-1zM959 232h2v1h-2zM964 232h2v1h-2zM991 232h1v1h-1zM1005 232h1v1h-1zM1026 232h1v1h-1zM807 233h1v1h-1zM893 233h1v1h-1zM909 233h1v1h-1zM961 233h3v1h-3zM992 233h2v1h-2zM1004 233h1v1h-1zM1027 233h1v1h-1zM807 234h1v1h-1zM894 234h1v1h-1zM909 234h1v1h-1zM994 234h2v1h-2zM1004 234h1v1h-1zM1027 234h1v1h-1zM807 235h1v1h-1zM894 235h1v1h-1zM908 235h1v1h-1zM996 235h1v1h-1zM1003 235h1v1h-1zM1028 235h1v1h-1zM807 236h1v1h-1zM895 236h1v1h-1zM908 236h1v1h-1zM997 236h1v1h-1zM1002 236h1v1h-1zM1028 236h1v1h-1zM807 237h1v1h-1zM895 237h1v1h-1zM907 237h1v1h-1zM997 237h1v1h-1zM1001 237h1v1h-1zM1029 237h1v1h-1zM806 238h1v1h-1zM896 238h1v1h-1zM906 238h1v1h-1zM998 238h1v1h-1zM1000 238h1v1h-1zM1029 238h1v1h-1zM806 239h1v1h-1zM897 239h2v1h-2zM906 239h1v1h-1zM999 239h1v1h-1zM1030 239h1v1h-1zM806 240h1v1h-1zM899 240h1v1h-1zM905 240h1v1h-1zM1030 240h1v1h-1zM806 241h1v1h-1zM900 241h1v1h-1zM905 241h1v1h-1zM1031 241h1v1h-1zM806 242h1v1h-1zM901 242h1v1h-1zM904 242h1v1h-1zM1032 242h1v1h-1zM1043 242h1v1h-1zM805 243h1v1h-1zM902 243h1v1h-1zM904 243h1v1h-1zM1033 243h1v1h-1zM1042 243h1v1h-1zM1044 243h1v1h-1zM805 244h1v1h-1zM903 244h1v1h-1zM1033 244h1v1h-1zM1041 244h1v1h-1zM1045 244h1v1h-1zM805 245h1v1h-1zM1034 245h1v1h-1zM1040 245h1v1h-1zM1046 245h1v1h-1zM805 246h1v1h-1zM1035 246h5v1h-5zM1047 246h1v1h-1zM805 247h1v1h-1zM1047 247h1v1h-1zM805 248h1v1h-1zM1048 248h1v1h-1zM804 249h1v1h-1zM1048 249h1v1h-1zM804 250h1v1h-1zM1049 250h1v1h-1zM804 251h1v1h-1zM1049 251h1v1h-1zM804 252h1v1h-1zM1050 252h1v1h-1zM804 253h1v1h-1zM1050 253h1v1h-1zM803 254h1v1h-1zM1051 254h1v1h-1zM803 255h1v1h-1zM1051 255h1v1h-1zM803 256h1v1h-1zM1051 256h1v1h-1zM803 257h1v1h-1zM1052 257h1v1h-1zM802 258h1v1h-1zM1052 258h1v1h-1zM802 259h1v1h-1zM1052 259h1v1h-1zM802 260h1v1h-1zM1053 260h1v1h-1zM802 261h1v1h-1zM1053 261h1v1h-1zM801 262h1v1h-1zM1054 262h1v1h-1zM801 263h1v1h-1zM1054 263h1v1h-1zM801 264h1v1h-1zM1054 264h1v1h-1zM801 265h1v1h-1zM1055 265h1v1h-1zM800 266h1v1h-1zM1055 266h1v1h-1zM800 267h1v1h-1zM1055 267h1v1h-1zM800 268h1v1h-1zM1056 268h1v1h-1zM800 269h1v1h-1zM1056 269h1v1h-1zM799 270h1v1h-1zM1057 270h1v1h-1zM799 271h1v1h-1zM1057 271h1v1h-1zM799 272h1v1h-1zM1057 272h1v1h-1zM799 273h1v1h-1zM1058 273h1v1h-1zM798 274h1v1h-1zM1058 274h1v1h-1zM798 275h1v1h-1zM1059 275h1v1h-1zM798 276h1v1h-1zM1059 276h1v1h-1zM798 277h1v1h-1zM1059 277h1v1h-1zM798 278h1v1h-1zM1060 278h1v1h-1zM798 279h1v1h-1zM1060 279h1v1h-1zM797 280h1v1h-1zM1060 280h1v1h-1zM797 281h1v1h-1zM1061 281h1v1h-1zM797 282h1v1h-1zM1061 282h1v1h-1zM797 283h1v1h-1zM1061 283h1v1h-1zM797 284h1v1h-1zM1062 284h1v1h-1zM797 285h1v1h-1zM1062 285h1v1h-1zM796 286h1v1h-1zM1062 286h1v1h-1zM796 287h1v1h-1zM1063 287h1v1h-1zM796 288h1v1h-1zM1063 288h1v1h-1zM796 289h1v1h-1zM1063 289h1v1h-1zM796 290h1v1h-1zM1064 290h1v1h-1zM796 291h1v1h-1zM1064 291h1v1h-1zM795 292h1v1h-1zM1065 292h1v1h-1zM795 293h1v1h-1zM1065 293h1v1h-1zM795 294h1v1h-1zM1065 294h1v1h-1zM795 295h1v1h-1zM1066 295h1v1h-1zM795 296h1v1h-1zM1066 296h1v1h-1zM795 297h1v1h-1zM1067 297h1v1h-1zM794 298h1v1h-1zM1067 298h1v1h-1zM794 299h1v1h-1zM1067 299h1v1h-1zM794 300h1v1h-1zM1068 300h1v1h-1zM794 301h1v1h-1zM1068 301h1v1h-1zM794 302h1v1h-1zM1068 302h1v1h-1zM794 303h1v1h-1zM1068 303h1v1h-1zM794 304h1v1h-1zM1069 304h1v1h-1zM794 305h1v1h-1zM1069 305h1v1h-1zM793 306h1v1h-1zM1069 306h1v1h-1zM793 307h1v1h-1zM1069 307h1v1h-1zM793 308h1v1h-1zM1070 308h1v1h-1zM793 309h1v1h-1zM1070 309h1v1h-1zM793 310h1v1h-1zM1070 310h1v1h-1zM793 311h1v1h-1zM1070 311h1v1h-1zM793 312h1v1h-1zM1071 312h1v1h-1zM793 313h1v1h-1zM1071 313h1v1h-1zM792 314h1v1h-1zM1071 314h1v1h-1zM792 315h1v1h-1zM1071 315h1v1h-1zM792 316h1v1h-1zM1072 316h1v1h-1zM792 317h1v1h-1zM1072 317h1v1h-1zM792 318h1v1h-1zM1072 318h1v1h-1zM792 319h1v1h-1zM1072 319h1v1h-1zM792 320h1v1h-1zM1073 320h1v1h-1zM792 321h1v1h-1zM1073 321h1v1h-1zM791 322h1v1h-1zM1073 322h1v1h-1zM791 323h1v1h-1zM1073 323h1v1h-1zM791 324h1v1h-1zM1074 324h1v1h-1zM791 325h1v1h-1zM1074 325h1v1h-1zM1166 325h2v1h-2zM791 326h1v1h-1zM1074 326h1v1h-1zM1164 326h2v1h-2zM1168 326h1v1h-1zM791 327h1v1h-1zM1074 327h1v1h-1zM1163 327h1v1h-1zM1169 327h1v1h-1zM790 328h1v1h-1zM1075 328h1v1h-1zM1162 328h1v1h-1zM1170 328h1v1h-1zM790 329h1v1h-1zM1075 329h1v1h-1zM1162 329h1v1h-1zM1171 329h1v1h-1zM790 330h1v1h-1zM1075 330h1v1h-1zM1161 330h1v1h-1zM1172 330h1v1h-1zM790 331h1v1h-1zM1076 331h1v1h-1zM1160 331h1v1h-1zM1173 331h1v1h-1zM790 332h1v1h-1zM1076 332h1v1h-1zM1160 332h1v1h-1zM1173 332h1v1h-1zM790 333h1v1h-1zM1076 333h1v1h-1zM1159 333h1v1h-1zM1174 333h1v1h-1zM789 334h1v1h-1zM1076 334h1v1h-1zM1158 334h1v1h-1zM1175 334h1v1h-1zM789 335h1v1h-1zM1077 335h1v1h-1zM1158 335h1v1h-1zM1176 335h1v1h-1zM789 336h1v1h-1zM1077 336h1v1h-1zM1157 336h1v1h-1zM1177 336h1v1h-1zM789 337h1v1h-1zM1077 337h1v1h-1zM1157 337h1v1h-1zM1177 337h1v1h-1zM789 338h1v1h-1zM1077 338h1v1h-1zM1156 338h1v1h-1zM1178 338h1v1h-1zM788 339h1v1h-1zM1078 339h1v1h-1zM1156 339h1v1h-1zM1179 339h1v1h-1zM788 340h1v1h-1zM1078 340h1v1h-1zM1155 340h1v1h-1zM1180 340h1v1h-1zM788 341h1v1h-1zM1078 341h1v1h-1zM1154 341h1v1h-1zM1181 341h1v1h-1zM788 342h1v1h-1zM1078 342h1v1h-1zM1154 342h1v1h-1zM1181 342h1v1h-1zM788 343h1v1h-1zM1079 343h1v1h-1zM1153 343h1v1h-1zM1182 343h1v1h-1zM788 344h1v1h-1zM1079 344h1v1h-1zM1125 344h7v1h-7zM1153 344h1v1h-1zM1183 344h1v1h-1zM787 345h1v1h-1zM1079 345h1v1h-1zM1122 345h3v1h-3zM1132 345h2v1h-2zM1152 345h1v1h-1zM1184 345h1v1h-1zM1214 345h2v1h-2zM787 346h1v1h-1zM1079 346h1v1h-1zM1120 346h2v1h-2zM1134 346h6v1h-6zM1152 346h1v1h-1zM1184 346h1v1h-1zM1212 346h2v1h-2zM1216 346h1v1h-1zM787 347h1v1h-1zM1079 347h1v1h-1zM1119 347h1v1h-1zM1140 347h1v1h-1zM1150 347h2v1h-2zM1185 347h1v1h-1zM1210 347h2v1h-2zM1217 347h1v1h-1zM787 348h1v1h-1zM1080 348h1v1h-1zM1118 348h1v1h-1zM1141 348h2v1h-2zM1148 348h2v1h-2zM1186 348h1v1h-1zM1208 348h2v1h-2zM1218 348h1v1h-1zM787 349h1v1h-1zM1080 349h1v1h-1zM1118 349h1v1h-1zM1143 349h5v1h-5zM1186 349h1v1h-1zM1205 349h3v1h-3zM1219 349h1v1h-1zM786 350h1v1h-1zM1080 350h1v1h-1zM1117 350h1v1h-1zM1187 350h6v1h-6zM1202 350h3v1h-3zM1220 350h2v1h-2zM786 351h1v1h-1zM1080 351h1v1h-1zM1116 351h1v1h-1zM1193 351h4v1h-4zM1200 351h2v1h-2zM1222 351h3v1h-3zM1229 351h3v1h-3zM786 352h1v1h-1zM1081 352h1v1h-1zM1116 352h1v1h-1zM1197 352h3v1h-3zM1225 352h4v1h-4zM1232 352h1v1h-1zM786 353h1v1h-1zM1081 353h1v1h-1zM1115 353h1v1h-1zM1233 353h2v1h-2zM786 354h1v1h-1zM1081 354h1v1h-1zM1115 354h1v1h-1zM1235 354h1v1h-1zM785 355h1v1h-1zM1081 355h1v1h-1zM1114 355h1v1h-1zM1236 355h1v1h-1zM785 356h1v1h-1zM1081 356h1v1h-1zM1114 356h1v1h-1zM1236 356h1v1h-1zM785 357h1v1h-1zM1082 357h1v1h-1zM1114 357h1v1h-1zM1237 357h1v1h-1zM785 358h1v1h-1zM1082 358h1v1h-1zM1113 358h1v1h-1zM1237 358h1v1h-1zM784 359h1v1h-1zM1082 359h1v1h-1zM1113 359h1v1h-1zM1238 359h1v1h-1zM784 360h1v1h-1zM1082 360h1v1h-1zM1112 360h1v1h-1zM1238 360h1v1h-1zM784 361h1v1h-1zM1083 361h1v1h-1zM1112 361h1v1h-1zM1239 361h1v1h-1zM784 362h1v1h-1zM1083 362h1v1h-1zM1112 362h1v1h-1zM1240 362h1v1h-1zM784 363h1v1h-1zM1083 363h1v1h-1zM1111 363h1v1h-1zM1240 363h1v1h-1zM783 364h1v1h-1zM1083 364h1v1h-1zM1111 364h1v1h-1zM1241 364h1v1h-1zM783 365h1v1h-1zM1084 365h1v1h-1zM1111 365h1v1h-1zM1241 365h1v1h-1zM783 366h1v1h-1zM1084 366h1v1h-1zM1110 366h1v1h-1zM1242 366h1v1h-1zM783 367h1v1h-1zM1084 367h1v1h-1zM1110 367h1v1h-1zM1242 367h1v1h-1zM783 368h1v1h-1zM1085 368h1v1h-1zM1109 368h1v1h-1zM1243 368h1v1h-1zM782 369h1v1h-1zM1085 369h1v1h-1zM1109 369h1v1h-1zM1243 369h1v1h-1zM782 370h1v1h-1zM1085 370h1v1h-1zM1109 370h1v1h-1zM1244 370h1v1h-1zM782 371h1v1h-1zM1086 371h1v1h-1zM1108 371h1v1h-1zM1244 371h1v1h-1zM782 372h1v1h-1zM1086 372h1v1h-1zM1108 372h1v1h-1zM1245 372h1v1h-1zM782 373h1v1h-1zM1086 373h1v1h-1zM1107 373h1v1h-1zM1245 373h1v1h-1zM782 374h1v1h-1zM1087 374h1v1h-1zM1107 374h1v1h-1zM1246 374h1v1h-1zM781 375h1v1h-1zM1087 375h1v1h-1zM1107 375h1v1h-1zM1246 375h1v1h-1zM781 376h1v1h-1zM1088 376h1v1h-1zM1106 376h1v1h-1zM1247 376h1v1h-1zM781 377h1v1h-1zM1088 377h1v1h-1zM1106 377h1v1h-1zM1247 377h1v1h-1zM781 378h1v1h-1zM1089 378h1v1h-1zM1106 378h1v1h-1zM1247 378h1v1h-1zM781 379h1v1h-1zM1089 379h1v1h-1zM1105 379h1v1h-1zM1248 379h1v1h-1zM780 380h1v1h-1zM1090 380h1v1h-1zM1105 380h1v1h-1zM1248 380h1v1h-1zM780 381h1v1h-1zM1090 381h1v1h-1zM1104 381h1v1h-1zM1249 381h1v1h-1zM780 382h1v1h-1zM1091 382h1v1h-1zM1104 382h1v1h-1zM1249 382h1v1h-1zM780 383h1v1h-1zM1091 383h1v1h-1zM1104 383h1v1h-1zM1250 383h1v1h-1zM780 384h1v1h-1zM1092 384h1v1h-1zM1103 384h1v1h-1zM1250 384h1v1h-1zM780 385h1v1h-1zM1093 385h2v1h-2zM1103 385h1v1h-1zM1251 385h1v1h-1zM779 386h1v1h-1zM1095 386h1v1h-1zM1102 386h1v1h-1zM1251 386h1v1h-1zM779 387h1v1h-1zM1096 387h1v1h-1zM1102 387h1v1h-1zM1252 387h1v1h-1zM779 388h1v1h-1zM1096 388h1v1h-1zM1101 388h1v1h-1zM1252 388h1v1h-1zM779 389h1v1h-1zM1097 389h1v1h-1zM1101 389h1v1h-1zM1253 389h1v1h-1zM778 390h1v1h-1zM1098 390h1v1h-1zM1100 390h1v1h-1zM1254 390h1v1h-1zM778 391h1v1h-1zM1098 391h1v1h-1zM1100 391h1v1h-1zM1254 391h1v1h-1zM777 392h1v1h-1zM1099 392h1v1h-1zM1255 392h1v1h-1zM777 393h1v1h-1zM1256 393h1v1h-1zM776 394h1v1h-1zM1257 394h2v1h-2zM776 395h1v1h-1zM1259 395h1v1h-1zM775 396h1v1h-1zM1260 396h1v1h-1zM774 397h2v1h-2zM1261 397h2v1h-2zM1265 397h2v1h-2zM772 398h2v1h-2zM1263 398h2v1h-2zM769 399h3v1h-3zM761 400h8v1h-8zM758 401h3v1h-3zM756 402h2v1h-2zM755 403h1v1h-1zM754 404h1v1h-1zM754 405h1v1h-1zM753 406h1v1h-1zM752 407h1v1h-1zM752 408h1v1h-1zM751 409h1v1h-1zM751 410h1v1h-1zM750 411h1v1h-1zM750 412h1v1h-1zM749 413h1v1h-1zM749 414h1v1h-1zM749 415h1v1h-1zM748 416h1v1h-1zM748 417h1v1h-1zM253 418h7v1h-7zM747 418h1v1h-1zM251 419h2v1h-2zM260 419h2v1h-2zM747 419h1v1h-1zM249 420h2v1h-2zM262 420h2v1h-2zM747 420h1v1h-1zM133 421h3v1h-3zM248 421h1v1h-1zM264 421h1v1h-1zM746 421h1v1h-1zM130 422h3v1h-3zM136 422h2v1h-2zM247 422h1v1h-1zM264 422h1v1h-1zM746 422h1v1h-1zM128 423h2v1h-2zM138 423h2v1h-2zM246 423h1v1h-1zM265 423h1v1h-1zM745 423h1v1h-1zM97 424h4v1h-4zM126 424h2v1h-2zM140 424h1v1h-1zM245 424h1v1h-1zM265 424h1v1h-1zM682 424h7v1h-7zM745 424h1v1h-1zM82 425h15v1h-15zM101 425h4v1h-4zM124 425h2v1h-2zM141 425h1v1h-1zM244 425h1v1h-1zM266 425h1v1h-1zM421 425h8v1h-8zM680 425h2v1h-2zM689 425h3v1h-3zM745 425h1v1h-1zM80 426h2v1h-2zM105 426h19v1h-19zM142 426h1v1h-1zM243 426h1v1h-1zM266 426h1v1h-1zM419 426h2v1h-2zM429 426h4v1h-4zM445 426h3v1h-3zM678 426h2v1h-2zM692 426h1v1h-1zM744 426h1v1h-1zM79 427h1v1h-1zM143 427h1v1h-1zM242 427h1v1h-1zM267 427h1v1h-1zM418 427h1v1h-1zM433 427h4v1h-4zM441 427h4v1h-4zM448 427h2v1h-2zM676 427h2v1h-2zM693 427h2v1h-2zM744 427h1v1h-1zM77 428h2v1h-2zM144 428h1v1h-1zM241 428h1v1h-1zM267 428h1v1h-1zM417 428h1v1h-1zM437 428h4v1h-4zM450 428h2v1h-2zM675 428h1v1h-1zM695 428h1v1h-1zM743 428h1v1h-1zM76 429h1v1h-1zM145 429h1v1h-1zM241 429h1v1h-1zM268 429h1v1h-1zM416 429h1v1h-1zM452 429h1v1h-1zM674 429h1v1h-1zM696 429h1v1h-1zM743 429h1v1h-1zM75 430h1v1h-1zM145 430h1v1h-1zM240 430h1v1h-1zM268 430h1v1h-1zM415 430h1v1h-1zM453 430h1v1h-1zM673 430h1v1h-1zM697 430h2v1h-2zM742 430h1v1h-1zM74 431h1v1h-1zM146 431h1v1h-1zM239 431h1v1h-1zM269 431h1v1h-1zM414 431h1v1h-1zM453 431h1v1h-1zM672 431h1v1h-1zM699 431h1v1h-1zM742 431h1v1h-1zM73 432h1v1h-1zM147 432h1v1h-1zM205 432h16v1h-16zM237 432h2v1h-2zM270 432h1v1h-1zM413 432h1v1h-1zM454 432h1v1h-1zM671 432h1v1h-1zM700 432h1v1h-1zM741 432h1v1h-1zM73 433h1v1h-1zM147 433h1v1h-1zM197 433h8v1h-8zM221 433h3v1h-3zM236 433h1v1h-1zM270 433h1v1h-1zM412 433h1v1h-1zM455 433h1v1h-1zM669 433h2v1h-2zM701 433h2v1h-2zM741 433h1v1h-1zM72 434h1v1h-1zM148 434h1v1h-1zM189 434h8v1h-8zM224 434h2v1h-2zM234 434h2v1h-2zM271 434h1v1h-1zM411 434h1v1h-1zM456 434h2v1h-2zM668 434h1v1h-1zM703 434h1v1h-1zM740 434h1v1h-1zM71 435h1v1h-1zM148 435h1v1h-1zM186 435h3v1h-3zM226 435h3v1h-3zM232 435h2v1h-2zM272 435h1v1h-1zM409 435h2v1h-2zM458 435h2v1h-2zM667 435h1v1h-1zM704 435h2v1h-2zM740 435h1v1h-1zM53 436h4v1h-4zM70 436h1v1h-1zM148 436h1v1h-1zM184 436h2v1h-2zM229 436h3v1h-3zM273 436h1v1h-1zM408 436h1v1h-1zM460 436h1v1h-1zM665 436h2v1h-2zM706 436h3v1h-3zM739 436h1v1h-1zM49 437h4v1h-4zM57 437h3v1h-3zM69 437h1v1h-1zM149 437h1v1h-1zM183 437h1v1h-1zM273 437h1v1h-1zM407 437h1v1h-1zM461 437h2v1h-2zM664 437h1v1h-1zM709 437h4v1h-4zM737 437h2v1h-2zM46 438h3v1h-3zM60 438h1v1h-1zM69 438h1v1h-1zM149 438h1v1h-1zM181 438h2v1h-2zM274 438h1v1h-1zM405 438h2v1h-2zM463 438h1v1h-1zM663 438h1v1h-1zM713 438h4v1h-4zM736 438h1v1h-1zM44 439h2v1h-2zM60 439h1v1h-1zM68 439h1v1h-1zM150 439h1v1h-1zM180 439h1v1h-1zM275 439h1v1h-1zM404 439h1v1h-1zM464 439h1v1h-1zM662 439h1v1h-1zM717 439h4v1h-4zM734 439h2v1h-2zM43 440h1v1h-1zM61 440h1v1h-1zM67 440h1v1h-1zM150 440h1v1h-1zM179 440h1v1h-1zM276 440h1v1h-1zM402 440h2v1h-2zM465 440h2v1h-2zM474 440h2v1h-2zM661 440h1v1h-1zM721 440h3v1h-3zM732 440h2v1h-2zM42 441h1v1h-1zM61 441h1v1h-1zM66 441h1v1h-1zM150 441h1v1h-1zM178 441h1v1h-1zM276 441h1v1h-1zM385 441h4v1h-4zM400 441h2v1h-2zM467 441h2v1h-2zM472 441h2v1h-2zM476 441h1v1h-1zM660 441h1v1h-1zM724 441h2v1h-2zM729 441h3v1h-3zM42 442h1v1h-1zM62 442h1v1h-1zM65 442h1v1h-1zM151 442h1v1h-1zM178 442h1v1h-1zM277 442h1v1h-1zM382 442h3v1h-3zM389 442h11v1h-11zM469 442h3v1h-3zM477 442h1v1h-1zM659 442h1v1h-1zM726 442h3v1h-3zM41 443h1v1h-1zM62 443h1v1h-1zM64 443h1v1h-1zM151 443h1v1h-1zM177 443h1v1h-1zM277 443h1v1h-1zM380 443h2v1h-2zM478 443h1v1h-1zM658 443h1v1h-1zM41 444h1v1h-1zM63 444h1v1h-1zM151 444h1v1h-1zM177 444h1v1h-1zM278 444h1v1h-1zM379 444h1v1h-1zM479 444h1v1h-1zM657 444h1v1h-1zM40 445h1v1h-1zM152 445h1v1h-1zM176 445h1v1h-1zM278 445h1v1h-1zM378 445h1v1h-1zM480 445h2v1h-2zM657 445h1v1h-1zM40 446h1v1h-1zM152 446h1v1h-1zM176 446h1v1h-1zM279 446h1v1h-1zM377 446h1v1h-1zM482 446h2v1h-2zM656 446h1v1h-1zM39 447h1v1h-1zM153 447h1v1h-1zM175 447h1v1h-1zM280 447h1v1h-1zM376 447h1v1h-1zM484 447h1v1h-1zM655 447h1v1h-1zM38 448h1v1h-1zM153 448h1v1h-1zM174 448h1v1h-1zM281 448h1v1h-1zM374 448h2v1h-2zM485 448h2v1h-2zM653 448h2v1h-2zM37 449h1v1h-1zM154 449h1v1h-1zM174 449h1v1h-1zM281 449h1v1h-1zM372 449h2v1h-2zM487 449h1v1h-1zM652 449h1v1h-1zM37 450h1v1h-1zM154 450h1v1h-1zM173 450h1v1h-1zM282 450h1v1h-1zM371 450h1v1h-1zM488 450h1v1h-1zM651 450h1v1h-1zM36 451h1v1h-1zM155 451h1v1h-1zM173 451h1v1h-1zM283 451h1v1h-1zM370 451h1v1h-1zM489 451h1v1h-1zM650 451h1v1h-1zM35 452h1v1h-1zM155 452h1v1h-1zM172 452h1v1h-1zM284 452h1v1h-1zM369 452h1v1h-1zM489 452h1v1h-1zM649 452h1v1h-1zM33 453h2v1h-2zM156 453h1v1h-1zM172 453h1v1h-1zM285 453h2v1h-2zM368 453h1v1h-1zM490 453h1v1h-1zM649 453h1v1h-1zM32 454h1v1h-1zM157 454h1v1h-1zM171 454h1v1h-1zM287 454h1v1h-1zM367 454h1v1h-1zM491 454h1v1h-1zM648 454h1v1h-1zM30 455h2v1h-2zM157 455h1v1h-1zM170 455h1v1h-1zM288 455h1v1h-1zM366 455h1v1h-1zM492 455h1v1h-1zM647 455h1v1h-1zM28 456h2v1h-2zM158 456h1v1h-1zM169 456h1v1h-1zM289 456h1v1h-1zM365 456h1v1h-1zM493 456h1v1h-1zM646 456h1v1h-1zM27 457h1v1h-1zM159 457h1v1h-1zM168 457h1v1h-1zM290 457h1v1h-1zM364 457h1v1h-1zM494 457h1v1h-1zM645 457h1v1h-1zM25 458h2v1h-2zM160 458h1v1h-1zM166 458h2v1h-2zM291 458h1v1h-1zM363 458h1v1h-1zM495 458h1v1h-1zM644 458h1v1h-1zM24 459h1v1h-1zM161 459h2v1h-2zM164 459h2v1h-2zM292 459h1v1h-1zM362 459h1v1h-1zM496 459h1v1h-1zM643 459h1v1h-1zM21 460h3v1h-3zM163 460h1v1h-1zM292 460h1v1h-1zM361 460h1v1h-1zM497 460h1v1h-1zM641 460h2v1h-2zM17 461h4v1h-4zM293 461h1v1h-1zM360 461h1v1h-1zM498 461h1v1h-1zM522 461h2v1h-2zM640 461h1v1h-1zM13 462h4v1h-4zM294 462h1v1h-1zM357 462h3v1h-3zM499 462h1v1h-1zM520 462h2v1h-2zM524 462h2v1h-2zM639 462h1v1h-1zM10 463h3v1h-3zM294 463h1v1h-1zM353 463h4v1h-4zM500 463h1v1h-1zM518 463h2v1h-2zM526 463h2v1h-2zM638 463h1v1h-1zM8 464h2v1h-2zM295 464h1v1h-1zM349 464h4v1h-4zM501 464h2v1h-2zM516 464h2v1h-2zM528 464h1v1h-1zM637 464h1v1h-1zM5 465h3v1h-3zM296 465h1v1h-1zM347 465h2v1h-2zM503 465h2v1h-2zM513 465h3v1h-3zM529 465h1v1h-1zM636 465h1v1h-1zM3 466h2v1h-2zM297 466h1v1h-1zM346 466h1v1h-1zM505 466h8v1h-8zM529 466h1v1h-1zM635 466h1v1h-1zM297 467h1v1h-1zM345 467h1v1h-1zM530 467h1v1h-1zM634 467h1v1h-1zM298 468h1v1h-1zM344 468h1v1h-1zM531 468h1v1h-1zM634 468h1v1h-1zM299 469h1v1h-1zM343 469h1v1h-1zM532 469h1v1h-1zM633 469h1v1h-1zM300 470h1v1h-1zM342 470h1v1h-1zM533 470h1v1h-1zM632 470h1v1h-1zM301 471h1v1h-1zM341 471h1v1h-1zM533 471h1v1h-1zM632 471h1v1h-1zM302 472h1v1h-1zM340 472h1v1h-1zM534 472h1v1h-1zM631 472h1v1h-1zM303 473h1v1h-1zM339 473h1v1h-1zM535 473h1v1h-1zM630 473h1v1h-1zM304 474h1v1h-1zM338 474h1v1h-1zM536 474h1v1h-1zM629 474h1v1h-1zM305 475h2v1h-2zM337 475h1v1h-1zM537 475h1v1h-1zM629 475h1v1h-1zM307 476h1v1h-1zM336 476h1v1h-1zM537 476h1v1h-1zM628 476h1v1h-1zM308 477h1v1h-1zM335 477h1v1h-1zM538 477h1v1h-1zM627 477h1v1h-1zM309 478h1v1h-1zM334 478h1v1h-1zM539 478h1v1h-1zM626 478h1v1h-1zM310 479h1v1h-1zM333 479h1v1h-1zM539 479h1v1h-1zM625 479h1v1h-1zM311 480h1v1h-1zM333 480h1v1h-1zM540 480h1v1h-1zM624 480h1v1h-1zM312 481h1v1h-1zM332 481h1v1h-1zM540 481h1v1h-1zM623 481h1v1h-1zM313 482h2v1h-2zM331 482h1v1h-1zM541 482h1v1h-1zM622 482h1v1h-1zM315 483h1v1h-1zM330 483h1v1h-1zM541 483h1v1h-1zM621 483h1v1h-1zM316 484h2v1h-2zM329 484h1v1h-1zM542 484h1v1h-1zM621 484h1v1h-1zM318 485h3v1h-3zM328 485h1v1h-1zM542 485h1v1h-1zM620 485h1v1h-1zM321 486h7v1h-7zM543 486h1v1h-1zM619 486h1v1h-1zM543 487h1v1h-1zM618 487h1v1h-1zM544 488h1v1h-1zM617 488h1v1h-1zM544 489h1v1h-1zM587 489h10v1h-10zM616 489h1v1h-1zM545 490h1v1h-1zM585 490h2v1h-2zM597 490h4v1h-4zM613 490h3v1h-3zM545 491h1v1h-1zM584 491h1v1h-1zM601 491h12v1h-12zM546 492h1v1h-1zM583 492h1v1h-1zM546 493h1v1h-1zM582 493h1v1h-1zM547 494h1v1h-1zM581 494h1v1h-1zM547 495h1v1h-1zM580 495h1v1h-1zM548 496h1v1h-1zM579 496h1v1h-1zM548 497h1v1h-1zM578 497h1v1h-1zM549 498h1v1h-1zM577 498h1v1h-1zM549 499h1v1h-1zM576 499h1v1h-1zM550 500h1v1h-1zM575 500h1v1h-1zM550 501h1v1h-1zM574 501h1v1h-1zM551 502h1v1h-1zM574 502h1v1h-1zM552 503h1v1h-1zM573 503h1v1h-1zM553 504h1v1h-1zM573 504h1v1h-1zM553 505h1v1h-1zM572 505h1v1h-1zM554 506h1v1h-1zM572 506h1v1h-1zM555 507h1v1h-1zM571 507h1v1h-1zM556 508h1v1h-1zM569 508h2v1h-2zM557 509h2v1h-2zM568 509h1v1h-1zM559 510h1v1h-1zM566 510h2v1h-2zM560 511h2v1h-2zM564 511h2v1h-2zM562 512h2v1h-2z" fill="#ffa500"/>
<rect x="2" y="25" width="1" height="507" fill="#000"/>
<rect x="3" y="202" width="1592" height="2" fill="#ff0000"/>
<rect x="2" y="200" width="6" height="6" fill="#ff0000"/>
<rect x="4" y="202" width="2" height="2" fill="#fff"/>
<rect x="1589" y="200" width="6" height="6" fill="#ff0000"/>
<rect x="1591" y="202" width="2" height="2" fill="#fff"/>
<rect x="3" y="273" width="1592" height="2" fill="#ff0000"/>
<rect x="2" y="271" width="6" height="6" fill="#ff0000"/>
<rect x="4" y="273" width="2" height="2" fill="#fff"/>
<rect x="1589" y="271" width="6" height="6" fill="#ff0000"/>
<rect x="1591" y="273" width="2" height="2" fill="#fff"/>
<rect x="3" y="340" width="1592" height="2" fill="#00ff00"/>
<rect x="2" y="338" width="6" height="6" fill="#00ff00"/>
<rect x="4" y="340" width="2" height="2" fill="#fff"/>
<rect x="1589" y="338" width="6" height="6" fill="#00ff00"/>
<rect x="1591" y="340" width="2" height="2" fill="#fff"/>
<rect x="3" y="422" width="1592" height="2" fill="#0000ff"/>
<rect x="2" y="420" width="6" height="6" fill="#0000ff"/>
<rect x="4" y="422" width="2" height="2" fill="#fff"/>
<rect x="1589" y="420" width="6" height="6" fill="#0000ff"/>
<rect x="1591" y="422" width="2" height="2" fill="#fff"/>
<rect x="3" y="504" width="1592" height="2" fill="#0000ff"/>
<rect x="2" y="502" width="6" height="6" fill="#0000ff"/>
<rect x="4" y="504" width="2" height="2" fill="#fff"/>
<rect x="1589" y="502" width="6" height="6" fill="#0000ff"/>
<rect x="1591" y="504" width="2" height="2" fill="#fff"/>
<path d="M4 561h3v1h-3zM10 561h3v1h-3zM16 561h3v1h-3zM22 561h3v1h-3zM28 561h3v1h-3zM34 561h3v1h-3zM40 561h3v1h-3zM46 561h3v1h-3zM52 561h3v1h-3zM58 561h3v1h-3zM64 561h3v1h-3zM70 561h3v1h-3zM76 561h3v1h-3zM82 561h3v1h-3zM88 561h3v1h-3zM94 561h3v1h-3zM100 561h3v1h-3zM106 561h3v1h-3zM112 561h3v1h-3zM118 561h3v1h-3zM124 561h3v1h-3zM130 561h3v1h-3zM136 561h3v1h-3zM142 561h3v1h-3zM148 561h3v1h-3zM154 561h3v1h-3zM160 561h3v1h-3zM166 561h3v1h-3zM172 561h3v1h-3zM178 561h3v1h-3zM184 561h3v1h-3zM190 561h3v1h-3zM196 561h3v1h-3zM202 561h3v1h-3zM208 561h3v1h-3zM214 561h3v1h-3zM220 561h3v1h-3zM226 561h3v1h-3zM232 561h3v1h-3zM238 561h3v1h-3zM244 561h3v1h-3zM250 561h3v1h-3zM256 561h3v1h-3zM262 561h3v1h-3zM268 561h3v1h-3zM274 561h3v1h-3zM280 561h3v1h-3zM286 561h3v1h-3zM292 561h3v1h-3zM298 561h3v1h-3zM304 561h3v1h-3zM310 561h3v1h-3zM316 561h3v1h-3zM322 561h3v1h-3zM328 561h3v1h-3zM334 561h3v1h-3zM340 561h3v1h-3zM346 561h3v1h-3zM352 561h3v1h-3zM358 561h3v1h-3zM364 561h3v1h-3zM370 561h3v1h-3zM376 561h3v1h-3zM382 561h3v1h-3zM388 561h3v1h-3zM394 561h3v1h-3zM400 561h3v1h-3zM406 561h3v1h-3zM412 561h3v1h-3zM418 561h3v1h-3zM424 561h3v1h-3zM430 561h3v1h-3zM436 561h3v1h-3zM442 561h3v1h-3zM448 561h3v1h-3zM454 561h3v1h-3zM460 561h3v1h-3zM466 561h3v1h-3zM472 561h3v1h-3zM478 561h3v1h-3zM484 561h3v1h-3zM490 561h3v1h-3zM496 561h3v1h-3zM502 561h3v1h-3zM508 561h3v1h-3zM514 561h3v1h-3zM520 561h3v1h-3zM526 561h3v1h-3zM532 561h3v1h-3zM538 561h3v1h-3zM544 561h3v1h-3zM550 561h3v1h-3zM556 561h3v1h-3zM562 561h3v1h-3zM568 561h3v1h-3zM574 561h3v1h-3zM580 561h3v1h-3zM586 561h3v1h-3zM592 561h3v1h-3zM598 561h3v1h-3zM604 561h3v1h-3zM610 561h3v1h-3zM616 561h3v1h-3zM622 561h3v1h-3zM628 561h3v1h-3zM634 561h3v1h-3zM640 561h3v1h-3zM646 561h3v1h-3zM652 561h3v1h-3zM658 561h3v1h-3zM664 561h3v1h-3zM670 561h3v1h-3zM676 561h3v1h-3zM682 561h3v1h-3zM688 561h3v1h-3zM694 561h3v1h-3zM700 561h3v1h-3zM706 561h3v1h-3zM712 561h3v1h-3zM718 561h3v1h-3zM724 561h3v1h-3zM730 561h3v1h-3zM736 561h3v1h-3zM742 561h3v1h-3zM748 561h3v1h-3zM754 561h3v1h-3zM760 561h3v1h-3zM766 561h3v1h-3zM772 561h3v1h-3zM778 561h3v1h-3zM784 561h3v1h-3zM790 561h3v1h-3zM796 561h3v1h-3zM802 561h3v1h-3zM808 561h3v1h-3zM814 561h3v1h-3zM820 561h3v1h-3zM826 561h3v1h-3zM832 561h3v1h-3zM838 561h3v1h-3zM844 561h3v1h-3zM850 561h3v1h-3zM856 561h3v1h-3zM862 561h3v1h-3zM868 561h3v1h-3zM874 561h3v1h-3zM880 561h3v1h-3zM886 561h3v1h-3zM892 561h3v1h-3zM898 561h3v1h-3zM904 561h3v1h-3zM910 561h3v1h-3zM916 561h3v1h-3zM922 561h3v1h-3zM928 561h3v1h-3zM934 561h3v1h-3zM940 561h3v1h-3zM946 561h3v1h-3zM952 561h3v1h-3zM958 561h3v1h-3zM964 561h3v1h-3zM970 561h3v1h-3zM976 561h3v1h-3zM982 561h3v1h-3zM988 561h3v1h-3zM994 561h3v1h-3zM1000 561h3v1h-3zM1006 561h3v1h-3zM1012 561h3v1h-3zM1018 561h3v1h-3zM1024 561h3v1h-3zM1030 561h3v1h-3zM1036 561h3v1h-3zM1042 561h3v1h-3zM1048 561h3v1h-3zM1054 561h3v1h-3zM1060 561h3v1h-3zM1066 561h3v1h-3zM1072 561h3v1h-3zM1078 561h3v1h-3zM1084 561h3v1h-3zM1090 561h3v1h-3zM1096 561h3v1h-3zM1102 561h3v1h-3zM1108 561h3v1h-3zM1114 561h3v1h-3zM1120 561h3v1h-3zM1126 561h3v1h-3zM1132 561h3v1h-3zM1138 561h3v1h-3zM1144 561h3v1h-3zM1150 561h3v1h-3zM1156 561h3v1h-3zM1162 561h3v1h-3zM1168 561h3v1h-3zM1174 561h3v1h-3zM1180 561h3v1h-3zM1186 561h3v1h-3zM1192 561h3v1h-3zM1198 561h3v1h-3zM1204 561h3v1h-3zM1210 561h3v1h-3zM1216 561h3v1h-3zM1222 561h3v1h-3zM1228 561h3v1h-3zM1234 561h3v1h-3zM1240 561h3v1h-3zM1246 561h3v1h-3zM1252 561h3v1h-3zM1258 561h3v1h-3zM1264 561h3v1h-3zM1270 561h3v1h-3zM1276 561h3v1h-3zM1282 561h3v1h-3zM1288 561h3v1h-3zM1294 561h3v1h-3zM1300 561h3v1h-3zM1306 561h3v1h-3zM1312 561h3v1h-3zM1318 561h3v1h-3zM1324 561h3v1h-3zM1330 561h3v1h-3zM1336 561h3v1h-3zM1342 561h3v1h-3zM1348 561h3v1h-3zM1354 561h3v1h-3zM1360 561h3v1h-3zM1366 561h3v1h-3zM1372 561h3v1h-3zM1378 561h3v1h-3zM1384 561h3v1h-3zM1390 561h3v1h-3zM1396 561h3v1h-3zM1402 561h3v1h-3zM1408 561h3v1h-3zM1414 561h3v1h-3zM1420 561h3v1h-3zM1426 561h3v1h-3zM1432 561h3v1h-3zM1438 561h3v1h-3zM1444 561h3v1h-3zM1450 561h3v1h-3zM1456 561h3v1h-3zM1462 561h3v1h-3zM1468 561h3v1h-3zM1474 561h3v1h-3zM1480 561h3v1h-3zM1486 561h3v1h-3zM1492 561h3v1h-3zM1498 561h3v1h-3zM1504 561h3v1h-3zM1510 561h3v1h-3zM1516 561h3v1h-3zM1522 561h3v1h-3zM1528 561h3v1h-3zM1534 561h3v1h-3zM1540 561h3v1h-3zM1546 561h3v1h-3zM1552 561h3v1h-3zM1558 561h3v1h-3zM1564 561h3v1h-3zM1570 561h3v1h-3zM1576 561h3v1h-3zM1582 561h3v1h-3zM1588 561h3v1h-3z" fill="#c0c0c0"/>
<rect x="1594" y="561" width="1" height="1" fill="#c0c0c0"/>
<path d="M4 597h3v1h-3zM10 597h3v1h-3zM16 597h3v1h-3zM22 597h3v1h-3zM28 597h3v1h-3zM34 597h3v1h-3zM40 597h3v1h-3zM46 597h3v1h-3zM52 597h3v1h-3zM58 597h3v1h-3zM64 597h3v1h-3zM70 597h3v1h-3zM76 597h3v1h-3zM82 597h3v1h-3zM88 597h3v1h-3zM94 597h3v1h-3zM100 597h3v1h-3zM106 597h3v1h-3zM112 597h3v1h-3zM118 597h3v1h-3zM124 597h3v1h-3zM130 597h3v1h-3zM136 597h3v1h-3zM142 597h3v1h-3zM148 597h3v1h-3zM154 597h3v1h-3zM160 597h3v1h-3zM166 597h3v1h-3zM172 597h3v1h-3zM178 597h3v1h-3zM184 597h3v1h-3zM190 597h3v1h-3zM196 597h3v1h-3zM202 597h3v1h-3zM208 597h3v1h-3zM214 597h3v1h-3zM220 597h3v1h-3zM226 597h3v1h-3zM232 597h3v1h-3zM238 597h3v1h-3zM244 597h3v1h-3zM250 597h3v1h-3zM256 597h3v1h-3zM262 597h3v1h-3zM268 597h3v1h-3zM274 597h3v1h-3zM280 597h3v1h-3zM286 597h3v1h-3zM292 597h3v1h-3zM298 597h3v1h-3zM304 597h3v1h-3zM310 597h3v1h-3zM316 597h3v1h-3zM322 597h3v1h-3zM328 597h3v1h-3zM334 597h3v1h-3zM340 597h3v1h-3zM346 597h3v1h-3zM352 597h3v1h-3zM358 597h3v1h-3zM364 597h3v1h-3zM370 597h3v1h-3zM376 597h3v1h-3zM382 597h3v1h-3zM388 597h3v1h-3zM394 597h3v1h-3zM400 597h3v1h-3zM406 597h3v1h-3zM412 597h3v1h-3zM418 597h3v1h-3zM424 597h3v1h-3zM430 597h3v1h-3zM436 597h3v1h-3zM442 597h3v1h-3zM448 597h3v1h-3zM454 597h3v1h-3zM460 597h3v1h-3zM466 597h3v1h-3zM472 597h3v1h-3zM478 597h3v1h-3zM484 597h3v1h-3zM490 597h3v1h-3zM496 597h3v1h-3zM502 597h3v1h-3zM508 597h3v1h-3zM514 597h3v1h-3zM520 597h3v1h-3zM526 597h3v1h-3zM532 597h3v1h-3zM538 597h3v1h-3zM544 597h3v1h-3zM550 597h3v1h-3zM556 597h3v1h-3zM562 597h3v1h-3zM568 597h3v1h-3zM574 597h3v1h-3zM580 597h3v1h-3zM586 597h3v1h-3zM592 597h3v1h-3zM598 597h3v1h-3zM604 597h3v1h-3zM610 597h3v1h-3zM616 597h3v1h-3zM622 597h3v1h-3zM628 597h3v1h-3zM634 597h3v1h-3zM640 597h3v1h-3zM646 597h3v1h-3zM652 597h3v1h-3zM658 597h3v1h-3zM664 597h3v1h-3zM670 597h3v1h-3zM676 597h3v1h-3zM682 597h3v1h-3zM688 597h3v1h-3zM694 597h3v1h-3zM700 597h3v1h-3zM706 597h3v1h-3zM712 597h3v1h-3zM718 597h3v1h-3zM724 597h3v1h-3zM730 597h3v1h-3zM736 597h3v1h-3zM742 597h3v1h-3zM748 597h3v1h-3zM754 597h3v1h-3zM760 597h3v1h-3zM766 597h3v1h-3zM772 597h3v1h-3zM778 597h3v1h-3zM784 597h3v1h-3zM790 597h3v1h-3zM796 597h3v1h-3zM802 597h3v1h-3zM808 597h3v1h-3zM814 597h3v1h-3zM820 597h3v1h-3zM826 597h3v1h-3zM832 597h3v1h-3zM838 597h3v1h-3zM844 597h3v1h-3zM850 597h3v1h-3zM856 597h3v1h-3zM862 597h3v1h-3zM868 597h3v1h-3zM874 597h3v1h-3zM880 597h3v1h-3zM886 597h3v1h-3zM892 597h3v1h-3zM898 597h3v1h-3zM904 597h3v1h-3zM910 597h3v1h-3zM916 597h3v1h-3zM922 597h3v1h-3zM928 597h3v1h-3zM934 597h3v1h-3zM940 597h3v1h-3zM946 597h3v1h-3zM952 597h3v1h-3zM958 597h3v1h-3zM964 597h3v1h-3zM970 597h3v1h-3zM976 597h3v1h-3zM982 597h3v1h-3zM988 597h3v1h-3zM994 597h3v1h-3zM1000 597h3v1h-3zM1006 597h3v1h-3zM1012 597h3v1h-3zM1018 597h3v1h-3zM1024 597h3v1h-3zM1030 597h3v1h-3zM1036 597h3v1h-3zM1042 597h3v1h-3zM1048 597h3v1h-3zM1054 597h3v1h-3zM1060 597h3v1h-3zM1066 597h3v1h-3zM1072 597h3v1h-3zM1078 597h3v1h-3zM1084 597h3v1h-3zM1090 597h3v1h-3zM1096 597h3v1h-3zM1102 597h3v1h-3zM1108 597h3v1h-3zM1114 597h3v1h-3zM1120 597h3v1h-3zM1126 597h3v1h-3zM1132 597h3v1h-3zM1138 597h3v1h-3zM1144 597h3v1h-3zM1150 597h3v1h-3zM1156 597h3v1h-3zM1162 597h3v1h-3zM1168 597h3v1h-3zM1174 597h3v1h-3zM1180 597h3v1h-3zM1186 597h3v1h-3zM1192 597h3v1h-3zM1198 597h3v1h-3zM1204 597h3v1h-3zM1210 597h3v1h-3zM1216 597h3v1h-3zM1222 597h3v1h-3zM1228 597h3v1h-3zM1234 597h3v1h-3zM1240 597h3v1h-3zM1246 597h3v1h-3zM1252 597h3v1h-3zM1258 597h3v1h-3zM1264 597h3v1h-3zM1270 597h3v1h-3zM1276 597h3v1h-3zM1282 597h3v1h-3zM1288 597h3v1h-3zM1294 597h3v1h-3zM1300 597h3v1h-3zM1306 597h3v1h-3zM1312 597h3v1h-3zM1318 597h3v1h-3zM1324 597h3v1h-3zM1330 597h3v1h-3zM1336 597h3v1h-3zM1342 597h3v1h-3zM1348 597h3v1h-3zM1354 597h3v1h-3zM1360 597h3v1h-3zM1366 597h3v1h-3zM1372 597h3v1h-3zM1378 597h3v1h-3zM1384 597h3v1h-3zM1390 597h3v1h-3zM1396 597h3v1h-3zM1402 597h3v1h-3zM1408 597h3v1h-3zM1414 597h3v1h-3zM1420 597h3v1h-3zM1426 597h3v1h-3zM1432 597h3v1h-3zM1438 597h3v1h-3zM1444 597h3v1h-3zM1450 597h3v1h-3zM1456 597h3v1h-3zM1462 597h3v1h-3zM1468 597h3v1h-3zM1474 597h3v1h-3zM1480 597h3v1h-3zM1486 597h3v1h-3zM1492 597h3v1h-3zM1498 597h3v1h-3zM1504 597h3v1h-3zM1510 597h3v1h-3zM1516 597h3v1h-3zM1522 597h3v1h-3zM1528 597h3v1h-3zM1534 597h3v1h-3zM1540 597h3v1h-3zM1546 597h3v1h-3zM1552 597h3v1h-3zM1558 597h3v1h-3zM1564 597h3v1h-3zM1570 597h3v1h-3zM1576 597h3v1h-3zM1582 597h3v1h-3zM1588 597h3v1h-3z" fill="#c0c0c0"/>
<rect x="1594" y="597" width="1" height="1" fill="#c0c0c0"/>
<path d="M811 544h1v1h-1zM809 545h2v1h-2zM812 545h1v1h-1zM794 546h2v1h-2zM808 546h1v1h-1zM813 546h1v1h-1zM783 547h1v1h-1zM792 547h2v1h-2zM796 547h1v1h-1zM807 547h1v1h-1zM814 547h1v1h-1zM783 548h2v1h-2zM791 548h1v1h-1zM796 548h1v1h-1zM806 548h1v1h-1zM815 548h1v1h-1zM782 549h1v1h-1zM785 549h1v1h-1zM789 549h2v1h-2zM797 549h1v1h-1zM805 549h1v1h-1zM816 549h1v1h-1zM782 550h1v1h-1zM786 550h1v1h-1zM788 550h1v1h-1zM798 550h1v1h-1zM804 550h1v1h-1zM816 550h1v1h-1zM781 551h1v1h-1zM787 551h1v1h-1zM798 551h1v1h-1zM801 551h3v1h-3zM817 551h1v1h-1zM781 552h1v1h-1zM799 552h2v1h-2zM818 552h1v1h-1zM825 552h3v1h-3zM673 553h4v1h-4zM681 553h3v1h-3zM780 553h1v1h-1zM818 553h1v1h-1zM821 553h4v1h-4zM828 553h1v1h-1zM665 554h8v1h-8zM677 554h4v1h-4zM683 554h1v1h-1zM780 554h1v1h-1zM819 554h2v1h-2zM829 554h2v1h-2zM661 555h4v1h-4zM684 555h1v1h-1zM747 555h1v1h-1zM779 555h1v1h-1zM831 555h1v1h-1zM658 556h3v1h-3zM684 556h1v1h-1zM746 556h1v1h-1zM748 556h1v1h-1zM779 556h1v1h-1zM831 556h1v1h-1zM656 557h2v1h-2zM685 557h1v1h-1zM745 557h1v1h-1zM749 557h1v1h-1zM778 557h1v1h-1zM832 557h1v1h-1zM654 558h2v1h-2zM685 558h1v1h-1zM745 558h1v1h-1zM750 558h1v1h-1zM778 558h1v1h-1zM832 558h1v1h-1zM652 559h2v1h-2zM686 559h1v1h-1zM744 559h1v1h-1zM751 559h1v1h-1zM777 559h1v1h-1zM833 559h1v1h-1zM646 560h6v1h-6zM686 560h1v1h-1zM743 560h1v1h-1zM752 560h1v1h-1zM777 560h1v1h-1zM833 560h1v1h-1zM43 561h1v1h-1zM644 561h2v1h-2zM687 561h1v1h-1zM742 561h1v1h-1zM753 561h2v1h-2zM776 561h1v1h-1zM834 561h1v1h-1zM42 562h2v1h-2zM643 562h1v1h-1zM687 562h1v1h-1zM741 562h1v1h-1zM755 562h1v1h-1zM776 562h1v1h-1zM834 562h1v1h-1zM41 563h1v1h-1zM44 563h1v1h-1zM641 563h2v1h-2zM688 563h1v1h-1zM741 563h1v1h-1zM755 563h1v1h-1zM770 563h6v1h-6zM835 563h1v1h-1zM41 564h1v1h-1zM44 564h1v1h-1zM419 564h1v1h-1zM640 564h1v1h-1zM688 564h1v1h-1zM740 564h1v1h-1zM756 564h1v1h-1zM768 564h2v1h-2zM835 564h1v1h-1zM40 565h1v1h-1zM44 565h1v1h-1zM403 565h1v1h-1zM417 565h2v1h-2zM420 565h1v1h-1zM635 565h5v1h-5zM689 565h1v1h-1zM738 565h2v1h-2zM756 565h1v1h-1zM763 565h5v1h-5zM835 565h1v1h-1zM39 566h1v1h-1zM45 566h1v1h-1zM403 566h2v1h-2zM416 566h1v1h-1zM421 566h1v1h-1zM634 566h1v1h-1zM689 566h1v1h-1zM736 566h2v1h-2zM757 566h1v1h-1zM762 566h1v1h-1zM836 566h1v1h-1zM38 567h1v1h-1zM45 567h1v1h-1zM67 567h5v1h-5zM381 567h3v1h-3zM402 567h1v1h-1zM405 567h2v1h-2zM409 567h7v1h-7zM422 567h1v1h-1zM443 567h1v1h-1zM633 567h1v1h-1zM690 567h1v1h-1zM735 567h1v1h-1zM757 567h1v1h-1zM762 567h1v1h-1zM836 567h1v1h-1zM38 568h1v1h-1zM45 568h1v1h-1zM67 568h1v1h-1zM72 568h1v1h-1zM87 568h1v1h-1zM377 568h4v1h-4zM384 568h1v1h-1zM402 568h1v1h-1zM407 568h2v1h-2zM423 568h1v1h-1zM442 568h1v1h-1zM444 568h2v1h-2zM633 568h1v1h-1zM690 568h1v1h-1zM733 568h2v1h-2zM758 568h1v1h-1zM761 568h1v1h-1zM836 568h1v1h-1zM26 569h3v1h-3zM37 569h1v1h-1zM46 569h1v1h-1zM66 569h1v1h-1zM73 569h1v1h-1zM85 569h2v1h-2zM88 569h1v1h-1zM238 569h7v1h-7zM366 569h2v1h-2zM374 569h3v1h-3zM384 569h1v1h-1zM401 569h1v1h-1zM424 569h2v1h-2zM441 569h1v1h-1zM446 569h2v1h-2zM623 569h2v1h-2zM632 569h1v1h-1zM691 569h1v1h-1zM732 569h1v1h-1zM758 569h1v1h-1zM760 569h1v1h-1zM837 569h1v1h-1zM24 570h2v1h-2zM29 570h3v1h-3zM36 570h1v1h-1zM46 570h1v1h-1zM66 570h1v1h-1zM73 570h1v1h-1zM84 570h1v1h-1zM88 570h1v1h-1zM236 570h2v1h-2zM245 570h3v1h-3zM255 570h2v1h-2zM364 570h2v1h-2zM368 570h2v1h-2zM372 570h2v1h-2zM385 570h1v1h-1zM401 570h1v1h-1zM426 570h7v1h-7zM441 570h1v1h-1zM447 570h1v1h-1zM621 570h2v1h-2zM625 570h7v1h-7zM691 570h2v1h-2zM697 570h3v1h-3zM731 570h1v1h-1zM759 570h2v1h-2zM837 570h1v1h-1zM3 571h1v1h-1zM23 571h1v1h-1zM32 571h2v1h-2zM36 571h1v1h-1zM46 571h1v1h-1zM65 571h1v1h-1zM74 571h1v1h-1zM83 571h1v1h-1zM89 571h1v1h-1zM98 571h2v1h-2zM235 571h1v1h-1zM248 571h1v1h-1zM253 571h2v1h-2zM257 571h3v1h-3zM363 571h1v1h-1zM370 571h2v1h-2zM385 571h1v1h-1zM400 571h1v1h-1zM433 571h4v1h-4zM440 571h1v1h-1zM448 571h1v1h-1zM620 571h1v1h-1zM693 571h4v1h-4zM700 571h2v1h-2zM731 571h1v1h-1zM759 571h1v1h-1zM838 571h1v1h-1zM4 572h1v1h-1zM22 572h1v1h-1zM34 572h2v1h-2zM47 572h1v1h-1zM65 572h1v1h-1zM75 572h1v1h-1zM81 572h2v1h-2zM90 572h1v1h-1zM96 572h2v1h-2zM100 572h1v1h-1zM127 572h9v1h-9zM235 572h1v1h-1zM249 572h2v1h-2zM252 572h1v1h-1zM260 572h1v1h-1zM362 572h1v1h-1zM386 572h1v1h-1zM390 572h2v1h-2zM400 572h1v1h-1zM437 572h3v1h-3zM448 572h1v1h-1zM619 572h1v1h-1zM702 572h2v1h-2zM711 572h1v1h-1zM730 572h1v1h-1zM838 572h1v1h-1zM859 572h1v1h-1zM927 572h1v1h-1zM5 573h2v1h-2zM22 573h1v1h-1zM47 573h2v1h-2zM64 573h1v1h-1zM76 573h2v1h-2zM80 573h1v1h-1zM90 573h1v1h-1zM93 573h3v1h-3zM101 573h2v1h-2zM125 573h2v1h-2zM135 573h1v1h-1zM234 573h1v1h-1zM251 573h1v1h-1zM260 573h1v1h-1zM361 573h1v1h-1zM386 573h1v1h-1zM388 573h2v1h-2zM392 573h1v1h-1zM399 573h1v1h-1zM448 573h1v1h-1zM619 573h1v1h-1zM704 573h1v1h-1zM709 573h2v1h-2zM712 573h1v1h-1zM730 573h1v1h-1zM838 573h1v1h-1zM851 573h1v1h-1zM857 573h2v1h-2zM860 573h1v1h-1zM926 573h1v1h-1zM928 573h1v1h-1zM7 574h1v1h-1zM21 574h1v1h-1zM49 574h3v1h-3zM59 574h1v1h-1zM64 574h1v1h-1zM78 574h2v1h-2zM91 574h2v1h-2zM103 574h1v1h-1zM114 574h7v1h-7zM124 574h1v1h-1zM136 574h1v1h-1zM173 574h3v1h-3zM234 574h1v1h-1zM261 574h1v1h-1zM361 574h1v1h-1zM387 574h1v1h-1zM393 574h1v1h-1zM397 574h2v1h-2zM449 574h1v1h-1zM618 574h1v1h-1zM705 574h2v1h-2zM708 574h1v1h-1zM713 574h1v1h-1zM730 574h1v1h-1zM839 574h1v1h-1zM850 574h1v1h-1zM852 574h2v1h-2zM856 574h1v1h-1zM861 574h1v1h-1zM869 574h3v1h-3zM910 574h2v1h-2zM925 574h1v1h-1zM929 574h2v1h-2zM8 575h1v1h-1zM14 575h2v1h-2zM21 575h1v1h-1zM52 575h1v1h-1zM57 575h2v1h-2zM60 575h2v1h-2zM63 575h1v1h-1zM104 575h2v1h-2zM112 575h2v1h-2zM121 575h3v1h-3zM136 575h1v1h-1zM171 575h2v1h-2zM176 575h1v1h-1zM187 575h1v1h-1zM234 575h1v1h-1zM261 575h1v1h-1zM360 575h1v1h-1zM394 575h1v1h-1zM396 575h1v1h-1zM449 575h1v1h-1zM618 575h1v1h-1zM707 575h1v1h-1zM714 575h1v1h-1zM729 575h1v1h-1zM839 575h5v1h-5zM850 575h1v1h-1zM854 575h2v1h-2zM862 575h1v1h-1zM865 575h4v1h-4zM872 575h2v1h-2zM908 575h2v1h-2zM912 575h1v1h-1zM925 575h1v1h-1zM931 575h1v1h-1zM979 575h1v1h-1zM1010 575h3v1h-3zM1155 575h1v1h-1zM9 576h2v1h-2zM12 576h2v1h-2zM16 576h1v1h-1zM20 576h1v1h-1zM53 576h2v1h-2zM56 576h1v1h-1zM62 576h2v1h-2zM106 576h6v1h-6zM136 576h1v1h-1zM171 576h1v1h-1zM177 576h1v1h-1zM186 576h1v1h-1zM188 576h1v1h-1zM197 576h7v1h-7zM211 576h2v1h-2zM233 576h1v1h-1zM262 576h1v1h-1zM355 576h5v1h-5zM395 576h1v1h-1zM449 576h1v1h-1zM617 576h1v1h-1zM715 576h1v1h-1zM729 576h1v1h-1zM844 576h1v1h-1zM849 576h1v1h-1zM863 576h2v1h-2zM874 576h2v1h-2zM907 576h1v1h-1zM913 576h1v1h-1zM924 576h1v1h-1zM932 576h1v1h-1zM963 576h1v1h-1zM978 576h1v1h-1zM980 576h1v1h-1zM1003 576h2v1h-2zM1008 576h2v1h-2zM1013 576h3v1h-3zM1153 576h2v1h-2zM1156 576h1v1h-1zM1162 576h2v1h-2zM11 577h1v1h-1zM17 577h2v1h-2zM20 577h1v1h-1zM55 577h1v1h-1zM137 577h1v1h-1zM170 577h1v1h-1zM177 577h1v1h-1zM185 577h1v1h-1zM189 577h2v1h-2zM193 577h4v1h-4zM204 577h1v1h-1zM209 577h2v1h-2zM213 577h3v1h-3zM233 577h1v1h-1zM262 577h1v1h-1zM331 577h1v1h-1zM353 577h2v1h-2zM450 577h1v1h-1zM617 577h1v1h-1zM716 577h2v1h-2zM729 577h1v1h-1zM845 577h1v1h-1zM849 577h1v1h-1zM876 577h1v1h-1zM906 577h1v1h-1zM913 577h1v1h-1zM922 577h2v1h-2zM933 577h1v1h-1zM941 577h3v1h-3zM963 577h3v1h-3zM969 577h3v1h-3zM977 577h1v1h-1zM980 577h1v1h-1zM1001 577h2v1h-2zM1005 577h3v1h-3zM1016 577h1v1h-1zM1152 577h1v1h-1zM1157 577h2v1h-2zM1160 577h2v1h-2zM1164 577h1v1h-1zM19 578h1v1h-1zM137 578h1v1h-1zM170 578h1v1h-1zM178 578h1v1h-1zM184 578h1v1h-1zM191 578h2v1h-2zM205 578h2v1h-2zM208 578h1v1h-1zM216 578h1v1h-1zM233 578h1v1h-1zM263 578h1v1h-1zM331 578h2v1h-2zM352 578h1v1h-1zM450 578h1v1h-1zM459 578h2v1h-2zM575 578h1v1h-1zM616 578h1v1h-1zM718 578h3v1h-3zM729 578h1v1h-1zM845 578h1v1h-1zM848 578h1v1h-1zM877 578h1v1h-1zM906 578h1v1h-1zM914 578h1v1h-1zM920 578h2v1h-2zM933 578h1v1h-1zM938 578h3v1h-3zM944 578h2v1h-2zM962 578h1v1h-1zM966 578h3v1h-3zM972 578h1v1h-1zM977 578h1v1h-1zM981 578h1v1h-1zM1000 578h1v1h-1zM1016 578h1v1h-1zM1151 578h1v1h-1zM1159 578h1v1h-1zM1165 578h1v1h-1zM138 579h1v1h-1zM169 579h1v1h-1zM179 579h5v1h-5zM207 579h1v1h-1zM217 579h2v1h-2zM232 579h1v1h-1zM263 579h1v1h-1zM331 579h1v1h-1zM333 579h1v1h-1zM351 579h1v1h-1zM450 579h1v1h-1zM459 579h1v1h-1zM461 579h3v1h-3zM575 579h2v1h-2zM616 579h1v1h-1zM721 579h3v1h-3zM728 579h1v1h-1zM846 579h1v1h-1zM848 579h1v1h-1zM878 579h1v1h-1zM905 579h1v1h-1zM915 579h5v1h-5zM934 579h1v1h-1zM936 579h2v1h-2zM946 579h2v1h-2zM962 579h1v1h-1zM973 579h2v1h-2zM976 579h1v1h-1zM981 579h1v1h-1zM995 579h5v1h-5zM1017 579h1v1h-1zM1035 579h2v1h-2zM1150 579h1v1h-1zM1165 579h1v1h-1zM1215 579h1v1h-1zM138 580h1v1h-1zM169 580h1v1h-1zM219 580h2v1h-2zM232 580h1v1h-1zM263 580h1v1h-1zM330 580h1v1h-1zM333 580h1v1h-1zM350 580h1v1h-1zM451 580h1v1h-1zM458 580h1v1h-1zM464 580h2v1h-2zM574 580h1v1h-1zM576 580h1v1h-1zM614 580h2v1h-2zM724 580h1v1h-1zM728 580h1v1h-1zM847 580h1v1h-1zM879 580h9v1h-9zM905 580h1v1h-1zM935 580h1v1h-1zM948 580h1v1h-1zM961 580h1v1h-1zM975 580h1v1h-1zM982 580h1v1h-1zM994 580h1v1h-1zM1018 580h1v1h-1zM1034 580h1v1h-1zM1037 580h3v1h-3zM1149 580h1v1h-1zM1166 580h1v1h-1zM1214 580h1v1h-1zM1216 580h1v1h-1zM138 581h1v1h-1zM168 581h1v1h-1zM221 581h7v1h-7zM232 581h1v1h-1zM264 581h1v1h-1zM330 581h1v1h-1zM334 581h1v1h-1zM349 581h1v1h-1zM451 581h1v1h-1zM458 581h1v1h-1zM466 581h6v1h-6zM574 581h1v1h-1zM577 581h1v1h-1zM605 581h4v1h-4zM612 581h2v1h-2zM725 581h1v1h-1zM728 581h1v1h-1zM888 581h2v1h-2zM904 581h1v1h-1zM949 581h2v1h-2zM961 581h1v1h-1zM982 581h1v1h-1zM993 581h1v1h-1zM1018 581h1v1h-1zM1033 581h1v1h-1zM1040 581h2v1h-2zM1148 581h1v1h-1zM1167 581h1v1h-1zM1201 581h7v1h-7zM1213 581h1v1h-1zM1216 581h1v1h-1zM1227 581h5v1h-5zM139 582h1v1h-1zM168 582h1v1h-1zM228 582h2v1h-2zM231 582h1v1h-1zM264 582h1v1h-1zM330 582h1v1h-1zM335 582h10v1h-10zM348 582h1v1h-1zM452 582h1v1h-1zM457 582h1v1h-1zM472 582h2v1h-2zM573 582h1v1h-1zM578 582h1v1h-1zM590 582h3v1h-3zM603 582h2v1h-2zM609 582h3v1h-3zM726 582h2v1h-2zM890 582h11v1h-11zM904 582h1v1h-1zM951 582h1v1h-1zM961 582h1v1h-1zM983 582h1v1h-1zM993 582h1v1h-1zM1019 582h1v1h-1zM1032 582h1v1h-1zM1042 582h2v1h-2zM1147 582h1v1h-1zM1168 582h1v1h-1zM1191 582h1v1h-1zM1199 582h2v1h-2zM1208 582h2v1h-2zM1212 582h1v1h-1zM1217 582h1v1h-1zM1226 582h1v1h-1zM1232 582h1v1h-1zM139 583h1v1h-1zM165 583h3v1h-3zM230 583h2v1h-2zM264 583h1v1h-1zM330 583h1v1h-1zM345 583h3v1h-3zM452 583h1v1h-1zM457 583h1v1h-1zM474 583h2v1h-2zM573 583h1v1h-1zM578 583h1v1h-1zM581 583h4v1h-4zM588 583h2v1h-2zM593 583h3v1h-3zM601 583h2v1h-2zM727 583h1v1h-1zM901 583h3v1h-3zM952 583h1v1h-1zM960 583h1v1h-1zM983 583h1v1h-1zM992 583h1v1h-1zM1020 583h1v1h-1zM1029 583h3v1h-3zM1044 583h1v1h-1zM1109 583h7v1h-7zM1129 583h7v1h-7zM1146 583h1v1h-1zM1169 583h2v1h-2zM1173 583h3v1h-3zM1190 583h1v1h-1zM1192 583h1v1h-1zM1198 583h1v1h-1zM1210 583h2v1h-2zM1218 583h1v1h-1zM1225 583h1v1h-1zM1233 583h2v1h-2zM140 584h2v1h-2zM163 584h2v1h-2zM265 584h1v1h-1zM275 584h1v1h-1zM329 584h1v1h-1zM453 584h1v1h-1zM457 584h1v1h-1zM476 584h1v1h-1zM513 584h3v1h-3zM572 584h1v1h-1zM579 584h2v1h-2zM585 584h3v1h-3zM596 584h2v1h-2zM600 584h1v1h-1zM953 584h2v1h-2zM960 584h1v1h-1zM984 584h2v1h-2zM989 584h3v1h-3zM1021 584h1v1h-1zM1026 584h3v1h-3zM1044 584h1v1h-1zM1107 584h2v1h-2zM1116 584h1v1h-1zM1126 584h3v1h-3zM1136 584h1v1h-1zM1146 584h1v1h-1zM1171 584h2v1h-2zM1176 584h2v1h-2zM1189 584h1v1h-1zM1193 584h1v1h-1zM1197 584h1v1h-1zM1218 584h1v1h-1zM1224 584h1v1h-1zM1235 584h1v1h-1zM142 585h2v1h-2zM163 585h1v1h-1zM265 585h1v1h-1zM274 585h1v1h-1zM276 585h2v1h-2zM329 585h1v1h-1zM453 585h1v1h-1zM456 585h1v1h-1zM477 585h2v1h-2zM481 585h3v1h-3zM507 585h6v1h-6zM516 585h1v1h-1zM522 585h2v1h-2zM572 585h1v1h-1zM598 585h2v1h-2zM955 585h2v1h-2zM959 585h1v1h-1zM986 585h3v1h-3zM1022 585h1v1h-1zM1024 585h2v1h-2zM1045 585h1v1h-1zM1105 585h2v1h-2zM1117 585h2v1h-2zM1124 585h2v1h-2zM1137 585h1v1h-1zM1145 585h1v1h-1zM1178 585h7v1h-7zM1188 585h1v1h-1zM1194 585h1v1h-1zM1196 585h1v1h-1zM1219 585h5v1h-5zM1236 585h1v1h-1zM144 586h1v1h-1zM162 586h1v1h-1zM265 586h1v1h-1zM274 586h1v1h-1zM278 586h2v1h-2zM329 586h1v1h-1zM454 586h1v1h-1zM456 586h1v1h-1zM479 586h2v1h-2zM484 586h2v1h-2zM506 586h1v1h-1zM517 586h2v1h-2zM520 586h2v1h-2zM524 586h1v1h-1zM571 586h1v1h-1zM957 586h3v1h-3zM1023 586h1v1h-1zM1045 586h1v1h-1zM1104 586h1v1h-1zM1119 586h5v1h-5zM1138 586h1v1h-1zM1145 586h1v1h-1zM1185 586h3v1h-3zM1195 586h1v1h-1zM1236 586h1v1h-1zM144 587h1v1h-1zM162 587h1v1h-1zM266 587h1v1h-1zM273 587h1v1h-1zM280 587h2v1h-2zM329 587h1v1h-1zM454 587h2v1h-2zM486 587h2v1h-2zM506 587h1v1h-1zM519 587h1v1h-1zM524 587h1v1h-1zM571 587h1v1h-1zM1046 587h1v1h-1zM1103 587h1v1h-1zM1139 587h1v1h-1zM1144 587h1v1h-1zM1237 587h1v1h-1zM145 588h1v1h-1zM161 588h1v1h-1zM266 588h1v1h-1zM272 588h1v1h-1zM282 588h2v1h-2zM328 588h1v1h-1zM455 588h1v1h-1zM488 588h1v1h-1zM505 588h1v1h-1zM525 588h1v1h-1zM570 588h1v1h-1zM1046 588h1v1h-1zM1059 588h1v1h-1zM1103 588h1v1h-1zM1140 588h2v1h-2zM1144 588h1v1h-1zM1238 588h1v1h-1zM146 589h1v1h-1zM161 589h1v1h-1zM266 589h1v1h-1zM272 589h1v1h-1zM284 589h1v1h-1zM328 589h1v1h-1zM489 589h2v1h-2zM505 589h1v1h-1zM526 589h1v1h-1zM569 589h1v1h-1zM1047 589h2v1h-2zM1057 589h2v1h-2zM1060 589h2v1h-2zM1102 589h1v1h-1zM1142 589h2v1h-2zM1238 589h1v1h-1zM146 590h1v1h-1zM149 590h3v1h-3zM160 590h1v1h-1zM267 590h1v1h-1zM269 590h3v1h-3zM285 590h1v1h-1zM328 590h1v1h-1zM491 590h5v1h-5zM504 590h1v1h-1zM526 590h1v1h-1zM569 590h1v1h-1zM1049 590h4v1h-4zM1056 590h1v1h-1zM1062 590h2v1h-2zM1102 590h1v1h-1zM1239 590h1v1h-1zM1251 590h6v1h-6zM147 591h2v1h-2zM152 591h1v1h-1zM160 591h1v1h-1zM267 591h2v1h-2zM285 591h1v1h-1zM328 591h1v1h-1zM496 591h1v1h-1zM504 591h1v1h-1zM527 591h1v1h-1zM568 591h1v1h-1zM1053 591h3v1h-3zM1064 591h1v1h-1zM1102 591h1v1h-1zM1240 591h1v1h-1zM1250 591h1v1h-1zM1257 591h3v1h-3zM153 592h2v1h-2zM157 592h3v1h-3zM286 592h1v1h-1zM327 592h1v1h-1zM497 592h1v1h-1zM502 592h2v1h-2zM528 592h1v1h-1zM567 592h1v1h-1zM1064 592h1v1h-1zM1101 592h1v1h-1zM1241 592h1v1h-1zM1250 592h1v1h-1zM1260 592h2v1h-2zM1265 592h2v1h-2zM155 593h2v1h-2zM287 593h5v1h-5zM327 593h1v1h-1zM498 593h1v1h-1zM500 593h2v1h-2zM529 593h2v1h-2zM567 593h1v1h-1zM1065 593h1v1h-1zM1101 593h1v1h-1zM1242 593h1v1h-1zM1249 593h1v1h-1zM1262 593h3v1h-3zM292 594h2v1h-2zM326 594h1v1h-1zM499 594h1v1h-1zM531 594h1v1h-1zM566 594h1v1h-1zM1066 594h1v1h-1zM1101 594h1v1h-1zM1243 594h1v1h-1zM1248 594h1v1h-1zM294 595h3v1h-3zM326 595h1v1h-1zM532 595h2v1h-2zM566 595h1v1h-1zM1066 595h1v1h-1zM1100 595h1v1h-1zM1244 595h2v1h-2zM1248 595h1v1h-1zM297 596h3v1h-3zM325 596h1v1h-1zM534 596h2v1h-2zM565 596h1v1h-1zM1067 596h1v1h-1zM1100 596h1v1h-1zM1246 596h2v1h-2zM300 597h2v1h-2zM305 597h4v1h-4zM324 597h1v1h-1zM536 597h2v1h-2zM565 597h1v1h-1zM1068 597h1v1h-1zM1095 597h1v1h-1zM1100 597h1v1h-1zM302 598h3v1h-3zM309 598h4v1h-4zM324 598h1v1h-1zM538 598h2v1h-2zM564 598h1v1h-1zM1069 598h2v1h-2zM1078 598h2v1h-2zM1094 598h1v1h-1zM1096 598h2v1h-2zM1099 598h1v1h-1zM313 599h11v1h-11zM540 599h1v1h-1zM564 599h1v1h-1zM1071 599h2v1h-2zM1076 599h2v1h-2zM1080 599h1v1h-1zM1093 599h1v1h-1zM1098 599h2v1h-2zM541 600h1v1h-1zM557 600h4v1h-4zM563 600h1v1h-1zM1073 600h3v1h-3zM1081 600h2v1h-2zM1085 600h4v1h-4zM1092 600h1v1h-1zM541 601h1v1h-1zM546 601h3v1h-3zM553 601h4v1h-4zM561 601h3v1h-3zM1083 601h2v1h-2zM1089 601h3v1h-3zM542 602h1v1h-1zM544 602h2v1h-2zM549 602h4v1h-4zM543 603h1v1h-1z" fill="#1e90ff"/>
<rect x="3" y="687" width="1" height="2" fill="#c0c0c0"/>
<rect x="7" y="687" width="1" height="2" fill="#c0c0c0"/>
<rect x="11" y="687" width="1" height="2" fill="#c0c0c0"/>
<rect x="15" y="687" width="1" height="2" fill="#c0c0c0"/>
<rect x="19" y="687" width="1" height="2" fill="#c0c0c0"/>
<rect x="23" y="687" width="1" height="2" fill="#c0c0c0"/>
<rect x="27" y="687" width="1" height="1" fill="#c0c0c0"/>
<rect x="31" y="686" width="1" height="2" fill="#c0c0c0"/>
<rect x="35" y="685" width="1" height="3" fill="#c0c0c0"/>
<rect x="39" y="684" width="1" height="4" fill="#c0c0c0"/>
<rect x="43" y="683" width="1" height="5" fill="#c0c0c0"/>
<rect x="47" y="683" width="1" height="5" fill="#c0c0c0"/>
<rect x="51" y="683" width="1" height="5" fill="#c0c0c0"/>
<rect x="55" y="683" width="1" height="5" fill="#c0c0c0"/>
<rect x="59" y="683" width="1" height="5" fill="#c0c0c0"/>
<rect x="63" y="683" width="1" height="5" fill="#c0c0c0"/>
<rect x="67" y="682" width="1" height="6" fill="#c0c0c0"/>
<rect x="71" y="682" width="1" height="6" fill="#c0c0c0"/>
<rect x="75" y="682" width="1" height="6" fill="#c0c0c0"/>
<rect x="79" y="681" width="1" height="7" fill="#c0c0c0"/>
<rect x="83" y="681" width="1" height="7" fill="#c0c0c0"/>
<rect x="87" y="681" width="1" height="7" fill="#c0c0c0"/>
<rect x="91" y="681" width="1" height="7" fill="#c0c0c0"/>
<rect x="95" y="681" width="1" height="7" fill="#c0c0c0"/>
<rect x="99" y="681" width="1" height="7" fill="#c0c0c0"/>
<rect x="103" y="681" width="1" height="7" fill="#c0c0c0"/>
<rect x="107" y="681" width="1" height="7" fill="#c0c0c0"/>
<rect x="111" y="681" width="1" height="7" fill="#c0c0c0"/>
<rect x="115" y="682" width="1" height="6" fill="#c0c0c0"/>
<rect x="119" y="682" width="1" height="6" fill="#c0c0c0"/>
<rect x="123" y="682" width="1" height="6" fill="#c0c0c0"/>
<rect x="127" y="683" width="1" height="5" fill="#c0c0c0"/>
<rect x="131" y="683" width="1" height="5" fill="#c0c0c0"/>
<rect x="135" y="684" width="1" height="4" fill="#c0c0c0"/>
<rect x="139" y="684" width="1" height="4" fill="#c0c0c0"/>
<rect x="143" y="685" width="1" height="3" fill="#c0c0c0"/>
<rect x="147" y="686" width="1" height="2" fill="#c0c0c0"/>
<rect x="151" y="687" width="1" height="1" fill="#c0c0c0"/>
<rect x="155" y="687" width="1" height="3" fill="#c0c0c0"/>
<rect x="159" y="687" width="1" height="3" fill="#c0c0c0"/>
<rect x="163" y="687" width="1" height="3" fill="#c0c0c0"/>
<rect x="167" y="687" width="1" height="3" fill="#c0c0c0"/>
<rect x="171" y="687" width="1" height="3" fill="#c0c0c0"/>
<rect x="175" y="687" width="1" height="2" fill="#c0c0c0"/>
<rect x="179" y="687" width="1" height="2" fill="#c0c0c0"/>
<rect x="183" y="687" width="1" height="2" fill="#c0c0c0"/>
<rect x="187" y="687" width="1" height="2" fill="#c0c0c0"/>
<rect x="191" y="687" width="1" height="2" fill="#c0c0c0"/>
<rect x="195" y="687" width="1" height="2" fill="#c0c0c0"/>
<rect x="199" y="687" width="1" height="2" fill="#c0c0c0"/>
<rect x="203" y="687" width="1" height="2" fill="#c0c0c0"/>
<rect x="207" y="687" width="1" height="2" fill="#c0c0c0"/>
<rect x="211" y="687" width="1" height="2" fill="#c0c0c0"/>
<rect x="215" y="687" width="1" height="2" fill="#c0c0c0"/>
<rect x="219" y="687" width="1" height="2" fill="#c0c0c0"/>
<rect x="223" y="687" width="1" height="2" fill="#c0c0c0"/>
<rect x="227" y="687" width="1" height="2" fill="#c0c0c0"/>
<rect x="231" y="687" width="1" height="2" fill="#c0c0c0"/>
<rect x="235" y="687" width="1" height="1" fill="#c0c0c0"/>
<rect x="239" y="686" width="1" height="2" fill="#c0c0c0"/>
<rect x="243" y="686" width="1" height="2" fill="#c0c0c0"/>
<rect x="247" y="686" width="1" height="2" fill="#c0c0c0"/>
<rect x="251" y="685" width="1" height="3" fill="#c0c0c0"/>
<rect x="255" y="685" width="1" height="3" fill="#c0c0c0"/>
<rect x="259" y="685" width="1" height="3" fill="#c0c0c0"/>
<rect x="263" y="685" width="1" height="3" fill="#c0c0c0"/>
<rect x="267" y="685" width="1" height="3" fill="#c0c0c0"/>
<rect x="271" y="686" width="1" height="2" fill="#c0c0c0"/>
<rect x="275" y="686" width="1" height="2" fill="#c0c0c0"/>
<rect x="279" y="686" width="1" height="2" fill="#c0c0c0"/>
<rect x="283" y="687" width="1" height="1" fill="#c0c0c0"/>
<rect x="287" y="687" width="1" height="2" fill="#c0c0c0"/>
<rect x="291" y="687" width="1" height="4" fill="#c0c0c0"/>
<rect x="295" y="687" width="1" height="5" fill="#c0c0c0"/>
<rect x="299" y="687" width="1" height="6" fill="#c0c0c0"/>
<rect x="303" y="687" width="1" height="7" fill="#c0c0c0"/>
<rect x="307" y="687" width="1" height="7" fill="#c0c0c0"/>
<rect x="311" y="687" width="1" height="8" fill="#c0c0c0"/>
<rect x="315" y="687" width="1" height="8" fill="#c0c0c0"/>
<rect x="319" y="687" width="1" height="9" fill="#c0c0c0"/>
<rect x="323" y="687" width="1" height="9" fill="#c0c0c0"/>
<rect x="327" y="687" width="1" height="9" fill="#c0c0c0"/>
<rect x="331" y="687" width="1" height="8" fill="#c0c0c0"/>
<rect x="335" y="687" width="1" height="7" fill="#c0c0c0"/>
<rect x="339" y="687" width="1" height="7" fill="#c0c0c0"/>
<rect x="343" y="687" width="1" height="6" fill="#c0c0c0"/>
<rect x="347" y="687" width="1" height="6" fill="#c0c0c0"/>
<rect x="351" y="687" width="1" height="5" fill="#c0c0c0"/>
<rect x="355" y="687" width="1" height="4" fill="#c0c0c0"/>
<rect x="359" y="687" width="1" height="4" fill="#c0c0c0"/>
<rect x="363" y="687" width="1" height="3" fill="#c0c0c0"/>
<rect x="367" y="687" width="1" height="2" fill="#c0c0c0"/>
<rect x="371" y="687" width="1" height="1" fill="#c0c0c0"/>
<rect x="375" y="686" width="1" height="2" fill="#c0c0c0"/>
<rect x="379" y="686" width="1" height="2" fill="#c0c0c0"/>
<rect x="383" y="685" width="1" height="3" fill="#c0c0c0"/>
<rect x="387" y="685" width="1" height="3" fill="#c0c0c0"/>
<rect x="391" y="685" width="1" height="3" fill="#c0c0c0"/>
<rect x="395" y="684" width="1" height="4" fill="#c0c0c0"/>
<rect x="399" y="684" width="1" height="4" fill="#c0c0c0"/>
<rect x="403" y="684" width="1" height="4" fill="#c0c0c0"/>
<rect x="407" y="683" width="1" height="5" fill="#c0c0c0"/>
<rect x="411" y="683" width="1" height="5" fill="#c0c0c0"/>
<rect x="415" y="683" width="1" height="5" fill="#c0c0c0"/>
<rect x="419" y="682" width="1" height="6" fill="#c0c0c0"/>
<rect x="423" y="682" width="1" height="6" fill="#c0c0c0"/>
<rect x="427" y="682" width="1" height="6" fill="#c0c0c0"/>
<rect x="431" y="681" width="1" height="7" fill="#c0c0c0"/>
<rect x="435" y="681" width="1" height="7" fill="#c0c0c0"/>
<rect x="439" y="681" width="1" height="7" fill="#c0c0c0"/>
<rect x="443" y="681" width="1" height="7" fill="#c0c0c0"/>
<rect x="447" y="681" width="1" height="7" fill="#c0c0c0"/>
<rect x="451" y="682" width="1" height="6" fill="#c0c0c0"/>
<rect x="455" y="683" width="1" height="5" fill="#c0c0c0"/>
<rect x="459" y="684" width="1" height="4" fill="#c0c0c0"/>
<rect x="463" y="684" width="1" height="4" fill="#c0c0c0"/>
<rect x="467" y="685" width="1" height="3" fill="#c0c0c0"/>
<rect x="471" y="686" width="1" height="2" fill="#c0c0c0"/>
<rect x="475" y="687" width="1" height="1" fill="#c0c0c0"/>
<rect x="479" y="687" width="1" height="1" fill="#c0c0c0"/>
<rect x="483" y="687" width="1" height="2" fill="#c0c0c0"/>
<rect x="487" y="687" width="1" height="2" fill="#c0c0c0"/>
<rect x="491" y="687" width="1" height="3" fill="#c0c0c0"/>
<rect x="495" y="687" width="1" height="4" fill="#c0c0c0"/>
<rect x="499" y="687" width="1" height="4" fill="#c0c0c0"/>
<rect x="503" y="687" width="1" height="4" fill="#c0c0c0"/>
<rect x="507" y="687" width="1" height="5" fill="#c0c0c0"/>
<rect x="511" y="687" width="1" height="5" fill="#c0c0c0"/>
<rect x="515" y="687" width="1" height="5" fill="#c0c0c0"/>
<rect x="519" y="687" width="1" height="5" fill="#c0c0c0"/>
<rect x="523" y="687" width="1" height="6" fill="#c0c0c0"/>
<rect x="527" y="687" width="1" height="6" fill="#c0c0c0"/>
<rect x="531" y="687" width="1" height="6" fill="#c0c0c0"/>
<rect x="535" y="687" width="1" height="7" fill="#c0c0c0"/>
<rect x="539" y="687" width="1" height="7" fill="#c0c0c0"/>
<rect x="543" y="687" width="1" height="8" fill="#c0c0c0"/>
<rect x="547" y="687" width="1" height="9" fill="#c0c0c0"/>
<rect x="551" y="687" width="1" height="10" fill="#c0c0c0"/>
<rect x="555" y="687" width="1" height="11" fill="#c0c0c0"/>
<rect x="559" y="687" width="1" height="11" fill="#c0c0c0"/>
<rect x="563" y="687" width="1" height="11" fill="#c0c0c0"/>
<rect x="567" y="687" width="1" height="11" fill="#c0c0c0"/>
<rect x="571" y="687" width="1" height="10" fill="#c0c0c0"/>
<rect x="575" y="687" width="1" height="10" fill="#c0c0c0"/>
<rect x="579" y="687" width="1" height="9" fill="#c0c0c0"/>
<rect x="583" y="687" width="1" height="8" fill="#c0c0c0"/>
<rect x="587" y="687" width="1" height="7" fill="#c0c0c0"/>
<rect x="591" y="687" width="1" height="7" fill="#c0c0c0"/>
<rect x="595" y="687" width="1" height="6" fill="#c0c0c0"/>
<rect x="599" y="687" width="1" height="6" fill="#c0c0c0"/>
<rect x="603" y="687" width="1" height="6" fill="#c0c0c0"/>
<rect x="607" y="687" width="1" height="5" fill="#c0c0c0"/>
<rect x="611" y="687" width="1" height="4" fill="#c0c0c0"/>
<rect x="615" y="687" width="1" height="3" fill="#c0c0c0"/>
<rect x="619" y="687" width="1" height="2" fill="#c0c0c0"/>
<rect x="623" y="687" width="1" height="1" fill="#c0c0c0"/>
<rect x="627" y="687" width="1" height="1" fill="#c0c0c0"/>
<rect x="631" y="686" width="1" height="2" fill="#c0c0c0"/>
<rect x="635" y="685" width="1" height="3" fill="#c0c0c0"/>
<rect x="639" y="684" width="1" height="4" fill="#c0c0c0"/>
<rect x="643" y="684" width="1" height="4" fill="#c0c0c0"/>
<rect x="647" y="683" width="1" height="5" fill="#c0c0c0"/>
<rect x="651" y="682" width="1" height="6" fill="#c0c0c0"/>
<rect x="655" y="681" width="1" height="7" fill="#c0c0c0"/>
<rect x="659" y="680" width="1" height="8" fill="#c0c0c0"/>
<rect x="663" y="679" width="1" height="9" fill="#c0c0c0"/>
<rect x="667" y="679" width="1" height="9" fill="#c0c0c0"/>
<rect x="671" y="678" width="1" height="10" fill="#c0c0c0"/>
<rect x="675" y="679" width="1" height="9" fill="#c0c0c0"/>
<rect x="679" y="678" width="1" height="10" fill="#c0c0c0"/>
<rect x="683" y="678" width="1" height="10" fill="#c0c0c0"/>
<rect x="687" y="678" width="1" height="10" fill="#c0c0c0"/>
<rect x="691" y="679" width="1" height="9" fill="#c0c0c0"/>
<rect x="695" y="679" width="1" height="9" fill="#c0c0c0"/>
<rect x="699" y="680" width="1" height="8" fill="#c0c0c0"/>
<rect x="703" y="681" width="1" height="7" fill="#c0c0c0"/>
<rect x="707" y="681" width="1" height="7" fill="#c0c0c0"/>
<rect x="711" y="682" width="1" height="6" fill="#c0c0c0"/>
<rect x="715" y="683" width="1" height="5" fill="#c0c0c0"/>
<rect x="719" y="683" width="1" height="5" fill="#c0c0c0"/>
<rect x="723" y="684" width="1" height="4" fill="#c0c0c0"/>
<rect x="727" y="685" width="1" height="3" fill="#c0c0c0"/>
<rect x="731" y="684" width="1" height="4" fill="#c0c0c0"/>
<rect x="735" y="684" width="1" height="4" fill="#c0c0c0"/>
<rect x="739" y="683" width="1" height="5" fill="#c0c0c0"/>
<rect x="743" y="682" width="1" height="6" fill="#c0c0c0"/>
<rect x="747" y="681" width="1" height="7" fill="#c0c0c0"/>
<rect x="751" y="680" width="1" height="8" fill="#c0c0c0"/>
<rect x="755" y="679" width="1" height="9" fill="#c0c0c0"/>
<rect x="759" y="680" width="1" height="8" fill="#c0c0c0"/>
<rect x="763" y="679" width="1" height="9" fill="#c0c0c0"/>
<rect x="767" y="679" width="1" height="9" fill="#c0c0c0"/>
<rect x="771" y="679" width="1" height="9" fill="#c0c0c0"/>
<rect x="775" y="678" width="1" height="10" fill="#c0c0c0"/>
<rect x="779" y="678" width="1" height="10" fill="#c0c0c0"/>
<rect x="783" y="672" width="1" height="16" fill="#c0c0c0"/>
<rect x="787" y="669" width="1" height="19" fill="#c0c0c0"/>
<rect x="791" y="665" width="1" height="23" fill="#c0c0c0"/>
<rect x="795" y="661" width="1" height="27" fill="#c0c0c0"/>
<rect x="799" y="659" width="1" height="29" fill="#c0c0c0"/>
<rect x="803" y="656" width="1" height="32" fill="#c0c0c0"/>
<rect x="807" y="652" width="1" height="36" fill="#c0c0c0"/>
<rect x="811" y="644" width="1" height="44" fill="#c0c0c0"/>
<rect x="815" y="640" width="1" height="48" fill="#c0c0c0"/>
<rect x="819" y="638" width="1" height="50" fill="#c0c0c0"/>
<rect x="823" y="636" width="1" height="52" fill="#c0c0c0"/>
<rect x="827" y="634" width="1" height="54" fill="#c0c0c0"/>
<rect x="831" y="634" width="1" height="54" fill="#c0c0c0"/>
<rect x="835" y="636" width="1" height="52" fill="#c0c0c0"/>
<rect x="839" y="642" width="1" height="46" fill="#c0c0c0"/>
<rect x="843" y="648" width="1" height="40" fill="#c0c0c0"/>
<rect x="847" y="654" width="1" height="34" fill="#c0c0c0"/>
<rect x="851" y="656" width="1" height="32" fill="#c0c0c0"/>
<rect x="855" y="659" width="1" height="29" fill="#c0c0c0"/>
<rect x="859" y="660" width="1" height="28" fill="#c0c0c0"/>
<rect x="863" y="663" width="1" height="25" fill="#c0c0c0"/>
<rect x="867" y="665" width="1" height="23" fill="#c0c0c0"/>
<rect x="871" y="666" width="1" height="22" fill="#c0c0c0"/>
<rect x="875" y="668" width="1" height="20" fill="#c0c0c0"/>
<rect x="879" y="672" width="1" height="16" fill="#c0c0c0"/>
<rect x="883" y="675" width="1" height="13" fill="#c0c0c0"/>
<rect x="887" y="677" width="1" height="11" fill="#c0c0c0"/>
<rect x="891" y="680" width="1" height="8" fill="#c0c0c0"/>
<rect x="895" y="682" width="1" height="6" fill="#c0c0c0"/>
<rect x="899" y="684" width="1" height="4" fill="#c0c0c0"/>
<rect x="903" y="686" width="1" height="2" fill="#c0c0c0"/>
<rect x="907" y="686" width="1" height="2" fill="#c0c0c0"/>
<rect x="911" y="684" width="1" height="4" fill="#c0c0c0"/>
<rect x="915" y="684" width="1" height="4" fill="#c0c0c0"/>
<rect x="919" y="684" width="1" height="4" fill="#c0c0c0"/>
<rect x="923" y="683" width="1" height="5" fill="#c0c0c0"/>
<rect x="927" y="683" width="1" height="5" fill="#c0c0c0"/>
<rect x="931" y="682" width="1" height="6" fill="#c0c0c0"/>
<rect x="935" y="683" width="1" height="5" fill="#c0c0c0"/>
<rect x="939" y="683" width="1" height="5" fill="#c0c0c0"/>
<rect x="943" y="683" width="1" height="5" fill="#c0c0c0"/>
<rect x="947" y="684" width="1" height="4" fill="#c0c0c0"/>
<rect x="951" y="685" width="1" height="3" fill="#c0c0c0"/>
<rect x="955" y="686" width="1" height="2" fill="#c0c0c0"/>
<rect x="959" y="687" width="1" height="1" fill="#c0c0c0"/>
<rect x="963" y="687" width="1" height="1" fill="#c0c0c0"/>
<rect x="967" y="687" width="1" height="1" fill="#c0c0c0"/>
<rect x="971" y="687" width="1" height="1" fill="#c0c0c0"/>
<rect x="975" y="687" width="1" height="1" fill="#c0c0c0"/>
<rect x="979" y="687" width="1" height="1" fill="#c0c0c0"/>
<rect x="983" y="687" width="1" height="1" fill="#c0c0c0"/>
<rect x="987" y="687" width="1" height="1" fill="#c0c0c0"/>
<rect x="991" y="687" width="1" height="2" fill="#c0c0c0"/>
<rect x="995" y="687" width="1" height="2" fill="#c0c0c0"/>
<rect x="999" y="687" width="1" height="2" fill="#c0c0c0"/>
<rect x="1003" y="687" width="1" height="2" fill="#c0c0c0"/>
<rect x="1007" y="687" width="1" height="2" fill="#c0c0c0"/>
<rect x="1011" y="687" width="1" height="2" fill="#c0c0c0"/>
<rect x="1015" y="687" width="1" height="2" fill="#c0c0c0"/>
<rect x="1019" y="687" width="1" height="2" fill="#c0c0c0"/>
<rect x="1023" y="687" width="1" height="2" fill="#c0c0c0"/>
<rect x="1027" y="687" width="1" height="4" fill="#c0c0c0"/>
<rect x="1031" y="687" width="1" height="4" fill="#c0c0c0"/>
<rect x="1035" y="687" width="1" height="4" fill="#c0c0c0"/>
<rect x="1039" y="687" width="1" height="5" fill="#c0c0c0"/>
<rect x="1043" y="687" width="1" height="5" fill="#c0c0c0"/>
<rect x="1047" y="687" width="1" height="6" fill="#c0c0c0"/>
<rect x="1051" y="687" width="1" height="8" fill="#c0c0c0"/>
<rect x="1055" y="687" width="1" height="10" fill="#c0c0c0"/>
<rect x="1059" y="687" width="1" height="10" fill="#c0c0c0"/>
<rect x="1063" y="687" width="1" height="11" fill="#c0c0c0"/>
<rect x="1067" y="687" width="1" height="13" fill="#c0c0c0"/>
<rect x="1071" y="687" width="1" height="17" fill="#c0c0c0"/>
<rect x="1075" y="687" width="1" height="21" fill="#c0c0c0"/>
<rect x="1079" y="687" width="1" height="22" fill="#c0c0c0"/>
<rect x="1083" y="687" width="1" height="24" fill="#c0c0c0"/>
<rect x="1087" y="687" width="1" height="26" fill="#c0c0c0"/>
<rect x="1091" y="687" width="1" height="28" fill="#c0c0c0"/>
<rect x="1095" y="687" width="1" height="28" fill="#c0c0c0"/>
<rect x="1099" y="687" width="1" height="28" fill="#c0c0c0"/>
<rect x="1103" y="687" width="1" height="26" fill="#c0c0c0"/>
<rect x="1107" y="687" width="1" height="24" fill="#c0c0c0"/>
<rect x="1111" y="687" width="1" height="22" fill="#c0c0c0"/>
<rect x="1115" y="687" width="1" height="19" fill="#c0c0c0"/>
<rect x="1119" y="687" width="1" height="17" fill="#c0c0c0"/>
<rect x="1123" y="687" width="1" height="16" fill="#c0c0c0"/>
<rect x="1127" y="687" width="1" height="14" fill="#c0c0c0"/>
<rect x="1131" y="687" width="1" height="13" fill="#c0c0c0"/>
<rect x="1135" y="687" width="1" height="12" fill="#c0c0c0"/>
<rect x="1139" y="687" width="1" height="11" fill="#c0c0c0"/>
<rect x="1143" y="687" width="1" height="10" fill="#c0c0c0"/>
<rect x="1147" y="687" width="1" height="10" fill="#c0c0c0"/>
<rect x="1151" y="687" width="1" height="8" fill="#c0c0c0"/>
<rect x="1155" y="687" width="1" height="7" fill="#c0c0c0"/>
<rect x="1159" y="687" width="1" height="5" fill="#c0c0c0"/>
<rect x="1163" y="687" width="1" height="4" fill="#c0c0c0"/>
<rect x="1167" y="687" width="1" height="3" fill="#c0c0c0"/>
<rect x="1171" y="687" width="1" height="4" fill="#c0c0c0"/>
<rect x="1175" y="687" width="1" height="4" fill="#c0c0c0"/>
<rect x="1179" y="687" width="1" height="5" fill="#c0c0c0"/>
<rect x="1183" y="687" width="1" height="5" fill="#c0c0c0"/>
<rect x="1187" y="687" width="1" height="5" fill="#c0c0c0"/>
<rect x="1191" y="687" width="1" height="5" fill="#c0c0c0"/>
<rect x="1195" y="687" width="1" height="5" fill="#c0c0c0"/>
<rect x="1199" y="687" width="1" height="5" fill="#c0c0c0"/>
<rect x="1203" y="687" width="1" height="5" fill="#c0c0c0"/>
<rect x="1207" y="687" width="1" height="5" fill="#c0c0c0"/>
<rect x="1211" y="687" width="1" height="5" fill="#c0c0c0"/>
<rect x="1215" y="687" width="1" height="5" fill="#c0c0c0"/>
<rect x="1219" y="687" width="1" height="5" fill="#c0c0c0"/>
<rect x="1223" y="687" width="1" height="5" fill="#c0c0c0"/>
<rect x="1227" y="687" width="1" height="5" fill="#c0c0c0"/>
<rect x="1231" y="687" width="1" height="5" fill="#c0c0c0"/>
<rect x="1235" y="687" width="1" height="5" fill="#c0c0c0"/>
<rect x="1239" y="687" width="1" height="5" fill="#c0c0c0"/>
<rect x="1243" y="687" width="1" height="6" fill="#c0c0c0"/>
<rect x="1247" y="687" width="1" height="8" fill="#c0c0c0"/>
<rect x="1251" y="687" width="1" height="9" fill="#c0c0c0"/>
<rect x="1255" y="687" width="1" height="9" fill="#c0c0c0"/>
<rect x="1259" y="687" width="1" height="9" fill="#c0c0c0"/>
<rect x="1263" y="687" width="1" height="10" fill="#c0c0c0"/>
<rect x="1267" y="687" width="1" height="11" fill="#c0c0c0"/>
<path d="M837 639h3v1h-3zM843 639h3v1h-3zM849 640h1v1h-1zM833 641h1v1h-1zM850 641h2v1h-2zM832 642h1v1h-1zM831 643h1v1h-1zM855 643h1v1h-1zM856 644h1v1h-1zM857 645h1v1h-1zM827 646h1v1h-1zM826 647h1v1h-1zM825 648h1v1h-1zM861 648h2v1h-2zM863 649h1v1h-1zM821 651h1v1h-1zM820 652h1v1h-1zM867 652h1v1h-1zM819 653h1v1h-1zM868 653h1v1h-1zM869 654h1v1h-1zM815 657h1v1h-1zM873 657h1v1h-1zM814 658h1v1h-1zM874 658h1v1h-1zM813 659h1v1h-1zM875 659h1v1h-1zM879 661h1v1h-1zM880 662h1v1h-1zM809 663h1v1h-1zM881 663h1v1h-1zM808 664h1v1h-1zM807 665h1v1h-1zM885 665h1v1h-1zM886 666h2v1h-2zM802 668h2v1h-2zM891 668h1v1h-1zM801 669h1v1h-1zM892 669h1v1h-1zM893 670h1v1h-1zM796 671h2v1h-2zM795 672h1v1h-1zM897 672h1v1h-1zM898 673h2v1h-2zM790 674h2v1h-2zM789 675h1v1h-1zM903 675h1v1h-1zM785 676h1v1h-1zM904 676h1v1h-1zM693 677h3v1h-3zM699 677h2v1h-2zM783 677h2v1h-2zM905 677h1v1h-1zM687 678h3v1h-3zM701 678h1v1h-1zM705 678h3v1h-3zM677 679h1v1h-1zM681 679h3v1h-3zM711 679h3v1h-3zM773 679h1v1h-1zM777 679h3v1h-3zM909 679h1v1h-1zM101 680h1v1h-1zM105 680h3v1h-3zM111 680h2v1h-2zM669 680h3v1h-3zM675 680h2v1h-2zM717 680h3v1h-3zM723 680h2v1h-2zM765 680h3v1h-3zM771 680h2v1h-2zM910 680h2v1h-2zM69 681h3v1h-3zM75 681h3v1h-3zM81 681h3v1h-3zM87 681h3v1h-3zM93 681h3v1h-3zM99 681h2v1h-2zM113 681h1v1h-1zM117 681h3v1h-3zM123 681h3v1h-3zM129 681h3v1h-3zM435 681h3v1h-3zM441 681h3v1h-3zM447 681h2v1h-2zM665 681h1v1h-1zM725 681h1v1h-1zM759 681h3v1h-3zM915 681h2v1h-2zM63 682h3v1h-3zM135 682h3v1h-3zM423 682h3v1h-3zM429 682h3v1h-3zM449 682h1v1h-1zM453 682h3v1h-3zM663 682h2v1h-2zM729 682h3v1h-3zM735 682h3v1h-3zM741 682h3v1h-3zM747 682h3v1h-3zM753 682h3v1h-3zM917 682h1v1h-1zM51 683h3v1h-3zM57 683h3v1h-3zM141 683h3v1h-3zM147 683h3v1h-3zM413 683h1v1h-1zM417 683h3v1h-3zM459 683h3v1h-3zM465 683h3v1h-3zM921 683h3v1h-3zM927 683h3v1h-3zM933 683h3v1h-3zM939 683h3v1h-3zM945 683h3v1h-3zM951 683h3v1h-3zM41 684h1v1h-1zM45 684h3v1h-3zM153 684h1v1h-1zM401 684h1v1h-1zM405 684h3v1h-3zM411 684h2v1h-2zM471 684h3v1h-3zM653 684h1v1h-1zM657 684h3v1h-3zM957 684h3v1h-3zM963 684h3v1h-3zM39 685h2v1h-2zM154 685h2v1h-2zM255 685h3v1h-3zM261 685h3v1h-3zM267 685h3v1h-3zM273 685h3v1h-3zM393 685h3v1h-3zM399 685h2v1h-2zM477 685h3v1h-3zM483 685h2v1h-2zM645 685h3v1h-3zM651 685h2v1h-2zM969 685h3v1h-3zM29 686h1v1h-1zM33 686h3v1h-3zM159 686h2v1h-2zM213 686h3v1h-3zM219 686h3v1h-3zM225 686h3v1h-3zM231 686h3v1h-3zM237 686h3v1h-3zM243 686h3v1h-3zM249 686h3v1h-3zM279 686h3v1h-3zM387 686h3v1h-3zM485 686h1v1h-1zM489 686h3v1h-3zM641 686h1v1h-1zM975 686h3v1h-3zM981 686h3v1h-3zM987 686h2v1h-2zM27 687h2v1h-2zM161 687h1v1h-1zM201 687h3v1h-3zM207 687h3v1h-3zM285 687h3v1h-3zM291 687h2v1h-2zM381 687h3v1h-3zM495 687h2v1h-2zM639 687h2v1h-2zM989 687h1v1h-1zM993 687h3v1h-3zM999 687h3v1h-3zM1005 687h3v1h-3zM1011 687h3v1h-3zM1017 687h3v1h-3zM1023 687h2v1h-2zM21 688h3v1h-3zM165 688h3v1h-3zM171 688h3v1h-3zM195 688h3v1h-3zM293 688h1v1h-1zM375 688h3v1h-3zM497 688h1v1h-1zM633 688h3v1h-3zM1025 688h1v1h-1zM1029 688h3v1h-3zM1035 688h3v1h-3zM17 689h1v1h-1zM177 689h3v1h-3zM183 689h3v1h-3zM189 689h3v1h-3zM297 689h3v1h-3zM369 689h3v1h-3zM501 689h3v1h-3zM507 689h2v1h-2zM627 689h3v1h-3zM1041 689h3v1h-3zM1047 689h2v1h-2zM15 690h2v1h-2zM365 690h1v1h-1zM509 690h1v1h-1zM513 690h3v1h-3zM519 690h2v1h-2zM621 690h3v1h-3zM1049 690h1v1h-1zM9 691h3v1h-3zM303 691h2v1h-2zM363 691h2v1h-2zM521 691h1v1h-1zM525 691h3v1h-3zM531 691h2v1h-2zM615 691h3v1h-3zM1053 691h1v1h-1zM1181 691h1v1h-1zM1185 691h3v1h-3zM1191 691h3v1h-3zM1197 691h3v1h-3zM1203 691h3v1h-3zM1209 691h3v1h-3zM1215 691h3v1h-3zM1221 691h3v1h-3zM1227 691h3v1h-3zM1233 691h3v1h-3zM1239 691h3v1h-3zM305 692h1v1h-1zM357 692h3v1h-3zM533 692h1v1h-1zM537 692h3v1h-3zM543 692h2v1h-2zM605 692h1v1h-1zM609 692h3v1h-3zM1054 692h2v1h-2zM1059 692h2v1h-2zM1174 692h2v1h-2zM1179 692h2v1h-2zM1245 692h3v1h-3zM1251 692h2v1h-2zM4 693h2v1h-2zM309 693h3v1h-3zM315 693h2v1h-2zM351 693h3v1h-3zM545 693h1v1h-1zM603 693h2v1h-2zM1061 693h1v1h-1zM1173 693h1v1h-1zM1253 693h1v1h-1zM3 694h1v1h-1zM317 694h1v1h-1zM341 694h1v1h-1zM345 694h3v1h-3zM549 694h3v1h-3zM555 694h2v1h-2zM597 694h3v1h-3zM1065 694h1v1h-1zM1169 694h1v1h-1zM1257 694h3v1h-3zM1263 694h2v1h-2zM321 695h3v1h-3zM327 695h2v1h-2zM333 695h3v1h-3zM339 695h2v1h-2zM557 695h1v1h-1zM591 695h3v1h-3zM1066 695h2v1h-2zM1167 695h2v1h-2zM1265 695h1v1h-1zM329 696h1v1h-1zM561 696h3v1h-3zM567 696h2v1h-2zM581 696h1v1h-1zM585 696h3v1h-3zM1071 696h2v1h-2zM1161 696h3v1h-3zM569 697h1v1h-1zM573 697h3v1h-3zM579 697h2v1h-2zM1073 697h1v1h-1zM1156 697h2v1h-2zM1077 698h1v1h-1zM1155 698h1v1h-1zM1078 699h2v1h-2zM1149 700h3v1h-3zM1145 701h1v1h-1zM1083 702h1v1h-1zM1143 702h2v1h-2zM1084 703h2v1h-2zM1138 703h2v1h-2zM1137 704h1v1h-1zM1089 705h1v1h-1zM1133 705h1v1h-1zM1090 706h2v1h-2zM1131 706h2v1h-2zM1095 708h1v1h-1zM1125 708h3v1h-3zM1096 709h2v1h-2zM1121 709h1v1h-1zM1119 710h2v1h-2zM1101 711h3v1h-3zM1107 711h2v1h-2zM1113 711h3v1h-3zM1109 712h1v1h-1z" fill="#ff0000"/>
<rect x="1596" y="33" width="2" height="1" fill="#000"/>
<rect x="1596" y="66" width="2" height="1" fill="#000"/>
<rect x="1596" y="99" width="2" height="1" fill="#000"/>
<rect x="1596" y="132" width="2" height="1" fill="#000"/>
<rect x="1596" y="165" width="2" height="1" fill="#000"/>
<rect x="1596" y="198" width="2" height="1" fill="#000"/>
<rect x="1596" y="231" width="2" height="1" fill="#000"/>
<rect x="1596" y="264" width="2" height="1" fill="#000"/>
<rect x="1596" y="297" width="2" height="1" fill="#000"/>
<rect x="1596" y="330" width="2" height="1" fill="#000"/>
<rect x="1596" y="363" width="2" height="1" fill="#000"/>
<rect x="1596" y="396" width="2" height="1" fill="#000"/>
<rect x="1596" y="429" width="2" height="1" fill="#000"/>
<rect x="1596" y="462" width="2" height="1" fill="#000"/>
<rect x="1596" y="495" width="2" height="1" fill="#000"/>
<rect x="1596" y="528" width="2" height="1" fill="#000"/>
<rect x="1596" y="535" width="1" height="1" fill="#000"/>
<rect x="1596" y="624" width="1" height="1" fill="#000"/>
<rect x="1596" y="629" width="1" height="1" fill="#000"/>
<rect x="1596" y="687" width="1" height="1" fill="#000"/>
<rect x="3" y="720" width="1" height="3" fill="#000"/>
<rect x="67" y="720" width="1" height="3" fill="#000"/>
<rect x="131" y="720" width="1" height="3" fill="#000"/>
<rect x="195" y="720" width="1" height="3" fill="#000"/>
<rect x="259" y="720" width="1" height="3" fill="#000"/>
<rect x="323" y="720" width="1" height="3" fill="#000"/>
<rect x="387" y="720" width="1" height="3" fill="#000"/>
<rect x="451" y="720" width="1" height="3" fill="#000"/>
<rect x="515" y="720" width="1" height="3" fill="#000"/>
<rect x="579" y="720" width="1" height="3" fill="#000"/>
<rect x="643" y="720" width="1" height="3" fill="#000"/>
<rect x="707" y="720" width="1" height="3" fill="#000"/>
<rect x="771" y="720" width="1" height="3" fill="#000"/>
<rect x="835" y="720" width="1" height="3" fill="#000"/>
<rect x="899" y="720" width="1" height="3" fill="#000"/>
<rect x="963" y="720" width="1" height="3" fill="#000"/>
<rect x="1027" y="720" width="1" height="3" fill="#000"/>
<rect x="1091" y="720" width="1" height="3" fill="#000"/>
<rect x="1155" y="720" width="1" height="3" fill="#000"/>
<rect x="1219" y="720" width="1" height="3" fill="#000"/></svg>
<div class="t" style="left:18px;top:28px;color:#000;letter-spacing:0.22px;">USDCAD<span class="c">,</span>Daily</div>
<div class="t" style="left:90px;top:28px;color:#000;letter-spacing:0.23px;"><span class="c">1.33632</span></div>
<div class="t" style="left:126px;top:28px;color:#000;letter-spacing:0.23px;"><span class="c">1.33822</span></div>
<div class="t" style="left:162px;top:28px;color:#000;letter-spacing:0.23px;"><span class="c">1.33442</span></div>
<div class="t" style="left:198px;top:28px;color:#000;letter-spacing:0.23px;"><span class="c">1.33759</span></div>
<svg width="10" height="6" style="left:6px;top:32px" shape-rendering="crispEdges"><polygon points="0,0 7,0 3.5,4" fill="#000"/></svg>
<div class="t" style="left:7px;top:537px;color:#000;letter-spacing:0.6px;">RSI<span class="c">(14) 35.9072</span></div>
<div class="t" style="left:7px;top:631px;color:#000;letter-spacing:0.5px;">MACD<span class="c">(12,26,9) -0.005971 -0.004451</span></div>
<div class="t" style="left:1601px;top:28px;color:#000;letter-spacing:0.23px;"><span class="c">1.47305</span></div>
<div class="t" style="left:1601px;top:61px;color:#000;letter-spacing:0.23px;"><span class="c">1.46080</span></div>
<div class="t" style="left:1601px;top:94px;color:#000;letter-spacing:0.23px;"><span class="c">1.44890</span></div>
<div class="t" style="left:1601px;top:127px;color:#000;letter-spacing:0.23px;"><span class="c">1.43665</span></div>
<div class="t" style="left:1601px;top:160px;color:#000;letter-spacing:0.23px;"><span class="c">1.42440</span></div>
<div class="t" style="left:1601px;top:193px;color:#000;letter-spacing:0.23px;"><span class="c">1.41250</span></div>
<div class="t" style="left:1601px;top:226px;color:#000;letter-spacing:0.23px;"><span class="c">1.40025</span></div>
<div class="t" style="left:1601px;top:259px;color:#000;letter-spacing:0.23px;"><span class="c">1.38835</span></div>
<div class="t" style="left:1601px;top:292px;color:#000;letter-spacing:0.23px;"><span class="c">1.37610</span></div>
<div class="t" style="left:1601px;top:325px;color:#000;letter-spacing:0.23px;"><span class="c">1.36420</span></div>
<div class="t" style="left:1601px;top:358px;color:#000;letter-spacing:0.23px;"><span class="c">1.35195</span></div>
<div class="t" style="left:1601px;top:391px;color:#000;letter-spacing:0.23px;"><span class="c">1.34005</span></div>
<div class="t" style="left:1601px;top:424px;color:#000;letter-spacing:0.23px;"><span class="c">1.32780</span></div>
<div class="t" style="left:1601px;top:457px;color:#000;letter-spacing:0.23px;"><span class="c">1.31590</span></div>
<div class="t" style="left:1601px;top:490px;color:#000;letter-spacing:0.23px;"><span class="c">1.30365</span></div>
<div class="t" style="left:1601px;top:523px;color:#000;letter-spacing:0.23px;"><span class="c">1.29175</span></div>
<div class="t" style="left:1599px;top:535px;color:#000;letter-spacing:0.23px;"><span class="c">100</span></div>
<div class="t" style="left:1598px;top:556px;color:#000;letter-spacing:0.23px;"><span class="c">70</span></div>
<div class="t" style="left:1598px;top:592px;color:#000;letter-spacing:0.23px;"><span class="c">30</span></div>
<div class="t" style="left:1598px;top:613px;color:#000;letter-spacing:0.23px;"><span class="c">0</span></div>
<div class="t" style="left:1599px;top:629px;color:#000;letter-spacing:0.23px;"><span class="c">0.032972</span></div>
<div class="t" style="left:1599px;top:682px;color:#000;letter-spacing:0.23px;"><span class="c">0.00</span></div>
<div class="t" style="left:1599px;top:707px;color:#000;letter-spacing:0.23px;"><span class="c">-0.018154</span></div>
<div class="r" style="left:1597px;top:197px;width:40px;height:11px;background:#ff0000"></div>
<div class="t" style="left:1601px;top:197px;color:#fff;letter-spacing:0.23px;"><span class="c">1.41060</span></div>
<div class="r" style="left:1597px;top:268px;width:40px;height:11px;background:#ff0000"></div>
<div class="t" style="left:1601px;top:268px;color:#fff;letter-spacing:0.23px;"><span class="c">1.38464</span></div>
<div class="r" style="left:1597px;top:335px;width:40px;height:11px;background:#00ff00"></div>
<div class="t" style="left:1601px;top:335px;color:#fff;letter-spacing:0.23px;"><span class="c">1.36015</span></div>
<div class="r" style="left:1597px;top:417px;width:40px;height:11px;background:#0000ff"></div>
<div class="t" style="left:1601px;top:417px;color:#fff;letter-spacing:0.23px;"><span class="c">1.33011</span></div>
<div class="r" style="left:1597px;top:499px;width:40px;height:11px;background:#0000ff"></div>
<div class="t" style="left:1601px;top:499px;color:#fff;letter-spacing:0.23px;"><span class="c">1.30020</span></div>
<div class="r" style="left:1597px;top:397px;width:40px;height:11px;background:#000"></div>
<div class="t" style="left:1601px;top:397px;color:#fff;letter-spacing:0.23px;"><span class="c">1.33759</span></div>
<div class="t" style="left:2px;top:723px;color:#000;letter-spacing:-0.1px;"><span class="c">26 </span>Jul<span class="c"> 2019</span></div>
<div class="t" style="left:66px;top:723px;color:#000;letter-spacing:-0.1px;"><span class="c">14 </span>Aug<span class="c"> 2019</span></div>
<div class="t" style="left:130px;top:723px;color:#000;letter-spacing:-0.1px;"><span class="c">2 </span>Sep<span class="c"> 2019</span></div>
<div class="t" style="left:194px;top:723px;color:#000;letter-spacing:-0.1px;"><span class="c">20 </span>Sep<span class="c"> 2019</span></div>
<div class="t" style="left:258px;top:723px;color:#000;letter-spacing:-0.1px;"><span class="c">9 </span>Oct<span class="c"> 2019</span></div>
<div class="t" style="left:322px;top:723px;color:#000;letter-spacing:-0.1px;"><span class="c">28 </span>Oct<span class="c"> 2019</span></div>
<div class="t" style="left:386px;top:723px;color:#000;letter-spacing:-0.1px;"><span class="c">15 </span>Nov<span class="c"> 2019</span></div>
<div class="t" style="left:450px;top:723px;color:#000;letter-spacing:-0.1px;"><span class="c">4 </span>Dec<span class="c"> 2019</span></div>
<div class="t" style="left:514px;top:723px;color:#000;letter-spacing:-0.1px;"><span class="c">23 </span>Dec<span class="c"> 2019</span></div>
<div class="t" style="left:578px;top:723px;color:#000;letter-spacing:-0.1px;"><span class="c">10 </span>Jan<span class="c"> 2020</span></div>
<div class="t" style="left:642px;top:723px;color:#000;letter-spacing:-0.1px;"><span class="c">29 </span>Jan<span class="c"> 2020</span></div>
<div class="t" style="left:706px;top:723px;color:#000;letter-spacing:-0.1px;"><span class="c">17 </span>Feb<span class="c"> 2020</span></div>
<div class="t" style="left:770px;top:723px;color:#000;letter-spacing:-0.1px;"><span class="c">6 </span>Mar<span class="c"> 2020</span></div>
<div class="t" style="left:834px;top:723px;color:#000;letter-spacing:-0.1px;"><span class="c">25 </span>Mar<span class="c"> 2020</span></div>
<div class="t" style="left:898px;top:723px;color:#000;letter-spacing:-0.1px;"><span class="c">13 </span>Apr<span class="c"> 2020</span></div>
<div class="t" style="left:962px;top:723px;color:#000;letter-spacing:-0.1px;"><span class="c">1 </span>May<span class="c"> 2020</span></div>
<div class="t" style="left:1026px;top:723px;color:#000;letter-spacing:-0.1px;"><span class="c">20 </span>May<span class="c"> 2020</span></div>
<div class="t" style="left:1090px;top:723px;color:#000;letter-spacing:-0.1px;"><span class="c">8 </span>Jun<span class="c"> 2020</span></div>
<div class="t" style="left:1154px;top:723px;color:#000;letter-spacing:-0.1px;"><span class="c">26 </span>Jun<span class="c"> 2020</span></div>
<div class="t" style="left:1218px;top:723px;color:#000;letter-spacing:-0.1px;"><span class="c">15 </span>Jul<span class="c"> 2020</span></div>
<div class="r" style="left:0px;top:740px;width:1637px;height:1px;background:#e6e6e6"></div>
<div class="r" style="left:0px;top:743px;width:1637px;height:1px;background:#fbfbfb"></div>
<div class="r" style="left:0px;top:744px;width:1637px;height:18px;background:#f0f0f0"></div>
<div class="r" style="left:0px;top:762px;width:1637px;height:1px;background:#fcfcfc"></div>
<div class="r" style="left:0px;top:763px;width:1637px;height:2px;background:#f0f0f0"></div>
<div class="r" style="left:0px;top:742px;width:1637px;height:1px;background:#000"></div>
<div class="r" style="left:311px;top:743px;width:1px;height:18px;background:#fbfbfb"></div>
<div class="r" style="left:312px;top:742px;width:104px;height:19px;background:#fff"></div>
<div class="r" style="left:312px;top:742px;width:1px;height:19px;background:#000"></div>
<div class="r" style="left:415px;top:742px;width:1px;height:19px;background:#000"></div>
<div class="r" style="left:416px;top:743px;width:1px;height:18px;background:#fbfbfb"></div>
<div class="r" style="left:312px;top:760px;width:104px;height:1px;background:#000"></div>
<div class="r" style="left:313px;top:761px;width:104px;height:1px;background:#d9d9d9"></div>
<div class="t tab" style="left:16px;top:746px;font-size:12px;line-height:14px;height:14px;color:#686868;letter-spacing:-0.05px">EURUSD,Daily</div>
<div class="t tab" style="left:118px;top:746px;font-size:12px;line-height:14px;height:14px;color:#686868;letter-spacing:0.05px">USDCHF,Daily</div>
<div class="t tab" style="left:219px;top:746px;font-size:12px;line-height:14px;height:14px;color:#686868;letter-spacing:0.05px">AUDUSD,Daily</div>
<div class="t tab" style="left:323px;top:746px;font-size:12px;line-height:14px;height:14px;color:#000;letter-spacing:0.03px">USDCAD,Daily</div>
<div class="t tab" style="left:426px;top:746px;font-size:12px;line-height:14px;height:14px;color:#686868;letter-spacing:0.21px">USDCNH,Daily</div>
<div class="t tab" style="left:531px;top:746px;font-size:12px;line-height:14px;height:14px;color:#686868;letter-spacing:0.09px">EURUSD,M15</div>
<div class="t tab" style="left:631px;top:746px;font-size:12px;line-height:14px;height:14px;color:#686868;letter-spacing:0.06px">GBPUSD,M30</div>
<div class="t tab" style="left:731.5px;top:746px;font-size:12px;line-height:14px;height:14px;color:#686868;letter-spacing:0.25px">XAUUSD,M5</div>
<div class="t tab" style="left:827px;top:746px;font-size:12px;line-height:14px;height:14px;color:#686868;letter-spacing:0.28px">HK50,H1</div>
<div class="t tab" style="left:899px;top:746px;font-size:12px;line-height:14px;height:14px;color:#686868;letter-spacing:0.23px">UK100,H1</div>
<div class="t tab" style="left:979px;top:746px;font-size:12px;line-height:14px;height:14px;color:#686868;letter-spacing:0.26px">UK100,H1</div>
<div class="t tab" style="left:1059px;top:746px;font-size:12px;line-height:14px;height:14px;color:#686868;letter-spacing:0.00px">GER30,H1</div>
<div class="t tab" style="left:1138px;top:746px;font-size:12px;line-height:14px;height:14px;color:#686868;letter-spacing:-0.03px">FRA40,H1</div>
<div class="t tab" style="left:1214px;top:746px;font-size:12px;line-height:14px;height:14px;color:#686868;letter-spacing:0.22px">USOil,Daily</div>
<div class="t tab" style="left:1298px;top:746px;font-size:12px;line-height:14px;height:14px;color:#686868;letter-spacing:-0.15px">USDJPY,H1</div>
<div class="t tab" style="left:1383px;top:746px;font-size:12px;line-height:14px;height:14px;color:#686868;letter-spacing:0.37px">DJ30,M15</div>
<div class="t tab" style="left:1461.5px;top:746px;font-size:12px;line-height:14px;height:14px;color:#686868;letter-spacing:0.31px">CHINA300,H4</div>
<div class="r" style="left:108px;top:745px;width:1px;height:14px;background:#555"></div>
<div class="r" style="left:208px;top:745px;width:1px;height:14px;background:#555"></div>
<div class="r" style="left:520px;top:745px;width:1px;height:14px;background:#555"></div>
<div class="r" style="left:620px;top:745px;width:1px;height:14px;background:#555"></div>
<div class="r" style="left:720px;top:745px;width:1px;height:14px;background:#555"></div>
<div class="r" style="left:816px;top:745px;width:1px;height:14px;background:#555"></div>
<div class="r" style="left:888px;top:745px;width:1px;height:14px;background:#555"></div>
<div class="r" style="left:968px;top:745px;width:1px;height:14px;background:#555"></div>
<div class="r" style="left:1048px;top:745px;width:1px;height:14px;background:#555"></div>
<div class="r" style="left:1128px;top:745px;width:1px;height:14px;background:#555"></div>
<div class="r" style="left:1204px;top:745px;width:1px;height:14px;background:#555"></div>
<div class="r" style="left:1289px;top:745px;width:1px;height:14px;background:#555"></div>
<div class="r" style="left:1372px;top:745px;width:1px;height:14px;background:#555"></div>
<div class="r" style="left:1452px;top:745px;width:1px;height:14px;background:#555"></div>
<div class="r" style="left:1552px;top:745px;width:1px;height:14px;background:#555"></div>
<svg width="30" height="12" style="left:1608px;top:746px" shape-rendering="crispEdges"><path d="M5 2h1v6h-1zM4 3h1v4h-1zM3 4h1v2h-1zM22 2h1v6h-1zM23 3h1v4h-1zM24 4h1v2h-1z" fill="#9a9a9a"/></svg>
</body></html>
